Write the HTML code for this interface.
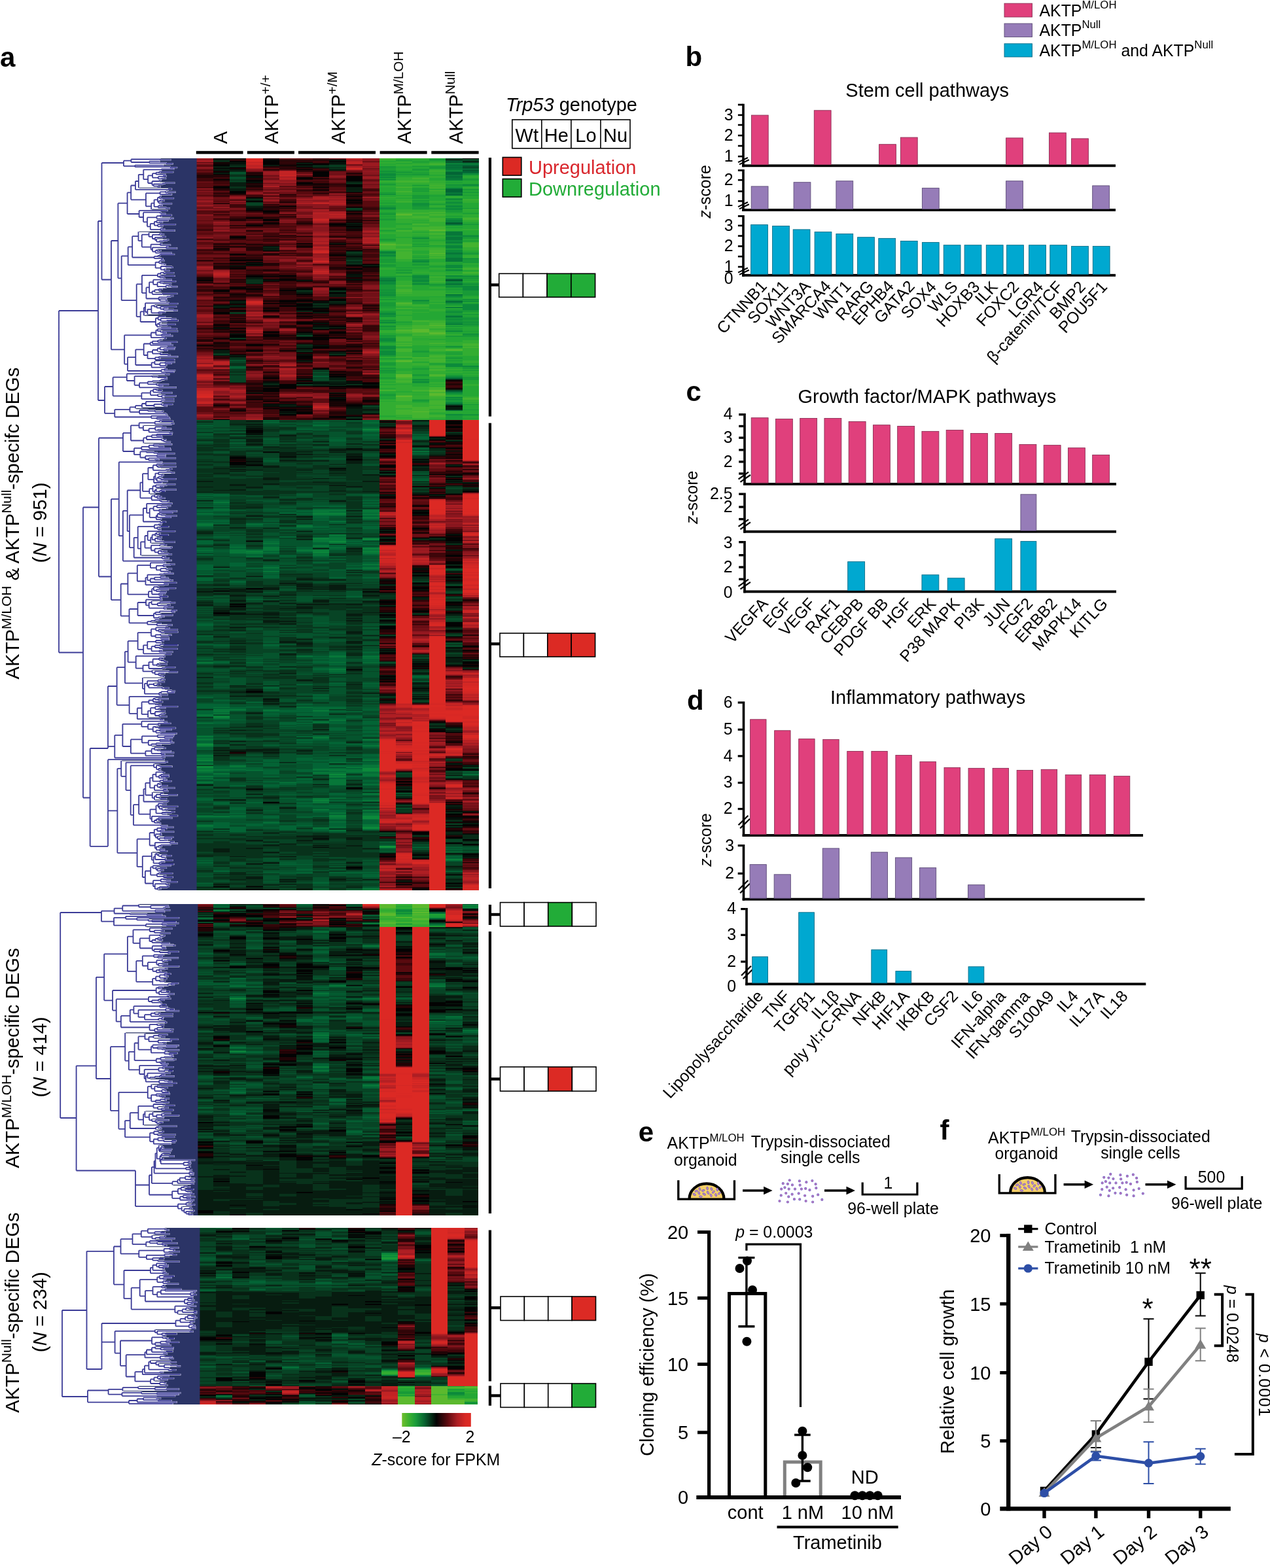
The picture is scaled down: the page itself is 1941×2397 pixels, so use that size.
<!DOCTYPE html>
<html lang="en"><head><meta charset="utf-8"><title>Figure</title>
<style>html,body{margin:0;padding:0;background:#fff}body{width:1941px;height:2397px;overflow:hidden}svg{display:block}text{font-family:"Liberation Sans",sans-serif}</style></head>
<body><svg xmlns="http://www.w3.org/2000/svg" width="1941" height="2397" viewBox="0 0 1941 2397">
<text font-size="42" font-weight="bold" x="0" y="101.5">a</text>
<text font-size="29" transform="translate(347 220) rotate(-90)">A</text>
<text font-size="29" transform="translate(425 220) rotate(-90)">AKTP<tspan dy="-11.6" font-size="20.73">+/+</tspan></text>
<text font-size="29" transform="translate(526.5 220) rotate(-90)">AKTP<tspan dy="-11.6" font-size="20.73">+/M</tspan></text>
<text font-size="29" transform="translate(628 220) rotate(-90)">AKTP<tspan dy="-11.6" font-size="20.73">M/LOH</tspan></text>
<text font-size="29" transform="translate(707 220) rotate(-90)">AKTP<tspan dy="-11.6" font-size="20.73">Null</tspan></text>
<rect x="299.8" y="230.8" width="71.7" height="4.6" fill="#000"/>
<rect x="377.9" y="230.8" width="72" height="4.6" fill="#000"/>
<rect x="456" y="230.8" width="118" height="4.6" fill="#000"/>
<rect x="580.6" y="230.8" width="72" height="4.6" fill="#000"/>
<rect x="659.3" y="230.8" width="72.3" height="4.6" fill="#000"/>
<text font-size="29" x="773" y="170.4"><tspan font-style="italic">Trp53</tspan> genotype</text>
<rect x="782.8" y="183" width="180.2" height="43.8" fill="#fff" stroke="#000" stroke-width="1.6"/>
<text font-size="29" text-anchor="middle" x="805.32" y="216.5">Wt</text>
<path d="M827.85 183L827.85 226.8" stroke="#000" stroke-width="1.6"/>
<text font-size="29" text-anchor="middle" x="850.38" y="216.5">He</text>
<path d="M872.9 183L872.9 226.8" stroke="#000" stroke-width="1.6"/>
<text font-size="29" text-anchor="middle" x="895.42" y="216.5">Lo</text>
<path d="M917.95 183L917.95 226.8" stroke="#000" stroke-width="1.6"/>
<text font-size="29" text-anchor="middle" x="940.48" y="216.5">Nu</text>
<rect x="768.3" y="240.5" width="28.5" height="27.6" fill="#dc2a24" stroke="#000" stroke-width="1.6"/>
<rect x="768.3" y="273.5" width="28.5" height="27.6" fill="#22ac38" stroke="#000" stroke-width="1.6"/>
<text font-size="29" fill="#d9272d" x="808" y="266">Upregulation</text>
<text font-size="29" fill="#22ac38" x="808" y="299">Downregulation</text>
<rect x="746.8" y="241" width="4.2" height="395.6" fill="#000"/>
<rect x="750" y="433.3" width="12.7" height="4.4" fill="#000"/>
<rect x="762.7" y="418.3" width="36.72" height="36" fill="#fff" stroke="#000" stroke-width="1.6"/>
<rect x="799.43" y="418.3" width="36.72" height="36" fill="#fff" stroke="#000" stroke-width="1.6"/>
<rect x="836.15" y="418.3" width="36.72" height="36" fill="#22ac38" stroke="#000" stroke-width="1.6"/>
<rect x="872.88" y="418.3" width="36.72" height="36" fill="#22ac38" stroke="#000" stroke-width="1.6"/>
<rect x="746.8" y="646.7" width="4.2" height="711.3" fill="#000"/>
<rect x="750" y="982.1" width="14" height="4.4" fill="#000"/>
<rect x="764" y="968" width="36.4" height="36" fill="#fff" stroke="#000" stroke-width="1.6"/>
<rect x="800.4" y="968" width="36.4" height="36" fill="#fff" stroke="#000" stroke-width="1.6"/>
<rect x="836.8" y="968" width="36.4" height="36" fill="#dc2a24" stroke="#000" stroke-width="1.6"/>
<rect x="873.2" y="968" width="36.4" height="36" fill="#dc2a24" stroke="#000" stroke-width="1.6"/>
<rect x="746.8" y="1383" width="4.2" height="31" fill="#000"/>
<rect x="750" y="1395.8" width="14.5" height="4.4" fill="#000"/>
<rect x="764.5" y="1379.6" width="36.62" height="36.4" fill="#fff" stroke="#000" stroke-width="1.6"/>
<rect x="801.12" y="1379.6" width="36.62" height="36.4" fill="#fff" stroke="#000" stroke-width="1.6"/>
<rect x="837.75" y="1379.6" width="36.62" height="36.4" fill="#22ac38" stroke="#000" stroke-width="1.6"/>
<rect x="874.38" y="1379.6" width="36.62" height="36.4" fill="#fff" stroke="#000" stroke-width="1.6"/>
<rect x="746.8" y="1424" width="4.2" height="431" fill="#000"/>
<rect x="750" y="1647.3" width="14.5" height="4.4" fill="#000"/>
<rect x="764.5" y="1631" width="36.62" height="37" fill="#fff" stroke="#000" stroke-width="1.6"/>
<rect x="801.12" y="1631" width="36.62" height="37" fill="#fff" stroke="#000" stroke-width="1.6"/>
<rect x="837.75" y="1631" width="36.62" height="37" fill="#dc2a24" stroke="#000" stroke-width="1.6"/>
<rect x="874.38" y="1631" width="36.62" height="37" fill="#fff" stroke="#000" stroke-width="1.6"/>
<rect x="746.8" y="1880.5" width="4.2" height="231" fill="#000"/>
<rect x="750" y="1997" width="15" height="4.4" fill="#000"/>
<rect x="765" y="1982" width="36.38" height="36.5" fill="#fff" stroke="#000" stroke-width="1.6"/>
<rect x="801.38" y="1982" width="36.38" height="36.5" fill="#fff" stroke="#000" stroke-width="1.6"/>
<rect x="837.75" y="1982" width="36.38" height="36.5" fill="#fff" stroke="#000" stroke-width="1.6"/>
<rect x="874.12" y="1982" width="36.38" height="36.5" fill="#dc2a24" stroke="#000" stroke-width="1.6"/>
<rect x="746.8" y="2118.5" width="4.2" height="30.3" fill="#000"/>
<rect x="750" y="2131.3" width="15" height="4.4" fill="#000"/>
<rect x="765" y="2115" width="36.38" height="36.4" fill="#fff" stroke="#000" stroke-width="1.6"/>
<rect x="801.38" y="2115" width="36.38" height="36.4" fill="#fff" stroke="#000" stroke-width="1.6"/>
<rect x="837.75" y="2115" width="36.38" height="36.4" fill="#fff" stroke="#000" stroke-width="1.6"/>
<rect x="874.12" y="2115" width="36.38" height="36.4" fill="#22ac38" stroke="#000" stroke-width="1.6"/>
<defs><linearGradient id="cb" x1="0" x2="1" y1="0" y2="0"><stop offset="0" stop-color="#70be2c"/><stop offset="0.1" stop-color="#3cb230"/><stop offset="0.2" stop-color="#1a9c3a"/><stop offset="0.33" stop-color="#076230"/><stop offset="0.5" stop-color="#030303"/><stop offset="0.66" stop-color="#5c0a10"/><stop offset="0.8" stop-color="#ac1e23"/><stop offset="0.92" stop-color="#d82824"/><stop offset="1" stop-color="#de2a24"/></linearGradient></defs>
<rect x="614.3" y="2160" width="105.5" height="21" fill="url(#cb)"/>
<text font-size="24.85" x="600" y="2205">–2</text>
<text font-size="24.85" x="711.5" y="2205">2</text>
<text font-size="24.85" x="568.3" y="2240"><tspan font-style="italic">Z</tspan>-score for FPKM</text>
<text font-size="29.3" text-anchor="middle" transform="translate(29 800) rotate(-90)">AKTP<tspan dy="-11.72" font-size="20.95">M/LOH</tspan><tspan dy="11.72"> &amp; AKTP</tspan><tspan dy="-11.72" font-size="20.95">Null</tspan><tspan dy="11.72">-specifc DEGs</tspan></text>
<text font-size="29.3" text-anchor="middle" transform="translate(71 799) rotate(-90)">(<tspan font-style="italic">N</tspan> = 951)</text>
<text font-size="29.3" text-anchor="middle" transform="translate(29 1617.5) rotate(-90)">AKTP<tspan dy="-11.72" font-size="20.95">M/LOH</tspan><tspan dy="11.72">-specific DEGs</tspan></text>
<text font-size="29.3" text-anchor="middle" transform="translate(71 1616) rotate(-90)">(<tspan font-style="italic">N</tspan> = 414)</text>
<text font-size="29.3" text-anchor="middle" transform="translate(29 2006.5) rotate(-90)">AKTP<tspan dy="-11.72" font-size="20.95">Null</tspan><tspan dy="11.72">-specific DEGs</tspan></text>
<text font-size="29.3" text-anchor="middle" transform="translate(71 2005.7) rotate(-90)">(<tspan font-style="italic">N</tspan> = 234)</text>
<g shape-rendering="crispEdges" fill="none">
<rect x="300.2" y="242" width="431.8" height="1119" fill="#0a2a16"/>
<g stroke-width="26">
<path stroke="#05542d" d="M313 242v1119"/>
<path stroke="#0c8a3b" d="M313 1137v3m0 22v1m0 8v3m0 3v1"/>
<path stroke="#077739" d="M313 785v1m0 14v4m0 37v1m0 170v2m0 78v3m0 10v1m0 19v2m0 2v3m0 4v1m0 3v2m0 12v3m0 1v4m0 1v1m0 3v2m0 5v3m0 1v3m0 5v2m0 2v1m0 4v2m0 50v2m0 12v3"/>
<path stroke="#036435" d="M313 650v1m0 12v1m0 92v2m0 2v1m0 12v1m0 5v4m0 1v1m0 1v2m0 7v2m0 1v2m0 4v2m0 20v6m0 5v4m0 1v3m0 2v2m0 14v9m0 2v1m0 2v2m0 4v5m0 65v4m0 15v1m0 12v1m0 21v2m0 5v1m0 50v2m0 9v7m0 3v6m0 3v1m0 8v1m0 1v1m0 4v1m0 12v1m0 2v2m0 3v4m0 6v1m0 1v2m0 7v1m0 3v1m0 6v3m0 14v3m0 1v1m0 2v2m0 1v1m0 2v1m0 2v1m0 22v4m0 22v1m0 2v2m0 9v1m0 3v3m0 1v1m0 46v1m0 2v2m0 30v1"/>
<path stroke="#074425" d="M313 643v1m0 2v1m0 1v1m0 6v1m0 4v1m0 6v1m0 2v2m0 2v1m0 3v2m0 2v1m0 7v3m0 3v6m0 1v1m0 3v2m0 3v4m0 7v1m0 6v1m0 22v1m0 10v1m0 1v1m0 2v1m0 2v1m0 4v1m0 31v2m0 6v3m0 3v1m0 1v1m0 7v2m0 1v1m0 9v1m0 3v3m0 3v2m0 21v1m0 9v1m0 2v1m0 3v3m0 12v1m0 2v2m0 1v1m0 9v1m0 1v2m0 1v2m0 1v2m0 1v5m0 1v2m0 2v2m0 13v2m0 1v3m0 10v1m0 3v1m0 3v4m0 1v1m0 1v4m0 4v2m0 12v2m0 1v2m0 6v2m0 2v4m0 2v6m0 3v3m0 2v4m0 3v4m0 6v6m0 11v1m0 11v1m0 3v1m0 45v1m0 1v1m0 51v1m0 5v3m0 1v3m0 2v2m0 10v4m0 3v7m0 3v1m0 8v1m0 1v1m0 15v3m0 3v3m0 2v6m0 13v3m0 5v1m0 13v1m0 1v4m0 3v2m0 2v1m0 3v8m0 6v1m0 1v1m0 2v1"/>
<path stroke="#08321b" d="M313 644v2m0 15v1m0 10v2m0 6v2m0 1v7m0 3v3m0 6v1m0 1v3m0 2v3m0 4v7m0 1v6m0 1v4m0 2v7m0 1v7m0 23v2m0 34v2m0 1v1m0 1v1m0 7v1m0 10v1m0 17v3m0 24v2m0 11v3m0 3v1m0 1v2m0 3v5m0 7v3m0 1v2m0 2v1m0 16v1m0 21v1m0 3v2m0 9v3m0 8v1m0 7v3m0 16v1m0 10v2m0 5v1m0 6v3m0 3v2m0 4v3m0 26v1m0 11v1m0 73v1m0 35v1m0 48v1m0 14v2m0 3v3m0 3v2m0 6v13m0 3v3m0 1v1m0 20v3m0 25v2"/>
<path stroke="#071c10" d="M313 735v2m0 7v1m0 7v1m0 12v1m0 47v1m0 1v1m0 84v1m0 2v3m0 15v1m0 2v2m0 109v1m0 163v2m0 107v1m0 47v1"/>
<path stroke="#030303" d="M313 426v1m0 1v2m0 98v1"/>
<path stroke="#210406" d="M313 267v5m0 126v1m0 24v3m0 1v1m0 3v2m0 9v1m0 1v1m0 57v1m0 16v3m0 5v1m0 1v1m0 2v1"/>
<path stroke="#3e060a" d="M313 264v3m0 5v5m0 9v1m0 37v1m0 1v1m0 18v1m0 4v3m0 12v2m0 14v3m0 2v2m0 9v1m0 1v1m0 30v1m0 6v4m0 2v1m0 1v1m0 4v1m0 16v2m0 32v1m0 2v1m0 2v1m0 7v2m0 1v1m0 3v1m0 2v2m0 4v1m0 1v3"/>
<path stroke="#590a0f" d="M313 248v1m0 3v3m0 4v3m0 1v1m0 13v1m0 1v7m0 1v1m0 2v1m0 7v2m0 18v1m0 3v2m0 13v1m0 4v3m0 1v4m0 3v1m0 1v4m0 11v4m0 10v2m0 2v2m0 3v3m0 8v1m0 15v3m0 10v1m0 2v1m0 4v1m0 4v1m0 1v2m0 1v1m0 6v3m0 1v1m0 1v1m0 8v4m0 15v1m0 4v4m0 2v1m0 2v1m0 1v1m0 3v3m0 2v1m0 12v1m0 5v3m0 26v2m0 55v8"/>
<path stroke="#711017" d="M313 251v1m0 6v1m0 3v1m0 15v1m0 12v1m0 1v5m0 2v1m0 3v1m0 5v1m0 1v1m0 3v2m0 3v1m0 3v1m0 1v1m0 2v7m0 1v4m0 12v1m0 4v3m0 2v1m0 2v1m0 1v1m0 4v4m0 2v1m0 9v3m0 3v1m0 3v4m0 1v2m0 6v2m0 3v2m0 14v1m0 12v1m0 4v2m0 7v1m0 1v1m0 1v2m0 2v4m0 4v3m0 13v1m0 11v1m0 3v3m0 11v2m0 15v2m0 22v1m0 2v3m0 13v2m0 3v1m0 32v1m0 8v3m0 6v3"/>
<path stroke="#8a161e" d="M313 243v1m0 5v2m0 4v3m0 30v2m0 2v1m0 8v2m0 2v2m0 2v1m0 1v1m0 3v1m0 3v2m0 7v2m0 32v2m0 4v1m0 9v2m0 32v1m0 2v3m0 17v1m0 18v4m0 22v1m0 5v6m0 2v1m0 1v1m0 42v1m0 2v3m0 10v1m0 5v3m0 6v2m0 10v1m0 2v1m0 1v1m0 1v4m0 25v1m0 14v1m0 3v2"/>
<path stroke="#9c1a21" d="M313 242v1m0 1v2m0 1v1m0 55v1m0 3v2m0 4v2m0 92v1m0 1v3m0 70v1m0 1v2m0 9v1m0 51v2m0 7v1m0 24v1m0 4v1m0 32v2m0 14v2"/>
<path stroke="#ae1e23" d="M313 246v1m0 161v1m0 72v1m0 1v1m0 61v2m0 2v2m0 1v3m0 5v1m0 19v1m0 12v1m0 1v1m0 13v4m0 4v1m0 16v1"/>
<path stroke="#bd2224" d="M313 551v1m0 7v1m0 12v2m0 2v4m0 14v1m0 1v2m0 10v1m0 4v2"/>
<path stroke="#ca2524" d="M313 557v2m0 15v2m0 22v4m0 13v2"/>
<path stroke="#d32724" d="M313 602v3"/>
<path stroke="#d92824" d="M313 605v3"/>
</g>
<g stroke-width="25">
<path stroke="#074425" d="M338.5 242v1119"/>
<path stroke="#0c8a3b" d="M338.5 1095v2"/>
<path stroke="#077739" d="M338.5 767v2m0 10v1m0 301v1m0 2v5m0 1v2m0 2v1m0 2v2m0 77v2m0 4v2m0 63v2"/>
<path stroke="#036435" d="M338.5 755v4m0 5v3m0 2v3m0 1v2m0 2v2m0 1v2m0 3v3m0 7v3m0 1v2m0 19v2m0 19v1m0 1v1m0 25v1m0 115v2m0 24v3m0 33v1m0 22v2m0 4v5m0 1v2m0 5v1m0 9v1m0 3v4m0 64v5m0 2v2m0 1v1m0 2v4m0 3v3m0 32v4m0 14v1m0 4v2m0 6v9m0 3v1m0 61v2"/>
<path stroke="#05542d" d="M338.5 642v11m0 2v3m0 2v2m0 28v3m0 66v5m0 8v1m0 2v2m0 5v3m0 6v1m0 1v2m0 3v1m0 2v1m0 2v1m0 8v2m0 1v4m0 2v2m0 4v2m0 9v2m0 1v1m0 1v6m0 1v14m0 3v1m0 1v1m0 2v3m0 6v2m0 27v2m0 2v6m0 27v2m0 4v1m0 32v3m0 8v1m0 11v1m0 3v1m0 7v5m0 2v1m0 3v4m0 2v1m0 4v3m0 2v4m0 8v6m0 1v2m0 2v4m0 16v1m0 7v3m0 4v5m0 11v4m0 1v3m0 7v3m0 28v2m0 9v1m0 7v1m0 1v1m0 3v8m0 4v2m0 6v1m0 4v2m0 4v1m0 4v1m0 7v2m0 3v1m0 1v2m0 4v6m0 9v1m0 1v1m0 3v1m0 53v2m0 1v2m0 15v2m0 10v1"/>
<path stroke="#08321b" d="M338.5 245v2m0 293v1m0 1v1m0 120v3m0 1v1m0 3v6m0 1v6m0 2v3m0 5v3m0 8v3m0 5v3m0 1v6m0 1v2m0 4v19m0 1v4m0 48v2m0 21v2m0 5v1m0 33v1m0 18v1m0 1v2m0 3v2m0 1v1m0 5v1m0 3v1m0 20v4m0 1v1m0 14v1m0 10v2m0 3v3m0 5v1m0 1v1m0 1v1m0 5v1m0 11v2m0 1v2m0 3v1m0 4v1m0 2v1m0 8v1m0 1v2m0 34v3m0 55v1m0 2v2m0 1v2m0 11v2m0 1v2m0 5v1m0 1v2m0 2v3m0 1v2m0 2v7m0 40v1m0 6v1m0 12v1m0 9v4m0 4v1m0 39v2m0 3v11m0 6v6m0 8v4m0 2v2m0 11v2m0 2v4m0 6v1m0 2v1m0 3v1m0 1v2"/>
<path stroke="#071c10" d="M338.5 247v1m0 6v3m0 1v3m0 3v2m0 201v4m0 30v1m0 33v5m0 3v1m0 172v1m0 6v1m0 25v1m0 83v1m0 33v1m0 26v1m0 4v2m0 1v1m0 1v1m0 2v2m0 21v1m0 1v4m0 3v3m0 31v1m0 44v1m0 124v1m0 2v2m0 3v1m0 2v2m0 48v1m0 17v1m0 44v1m0 29v6m0 48v2m0 1v1m0 1v1"/>
<path stroke="#030303" d="M338.5 242v3m0 4v1m0 1v3m0 3v1m0 3v1m0 1v1m0 2v1m0 7v1m0 10v3m0 92v1m0 62v3m0 20v1m0 4v1m0 5v3m0 16v2m0 2v1m0 1v1m0 14v1m0 6v1m0 9v1m0 85v1m0 20v1m0 261v1m0 32v3m0 416v1"/>
<path stroke="#210406" d="M338.5 248v1m0 1v1m0 11v1m0 4v4m0 2v1m0 1v2m0 7v1m0 3v3m0 4v1m0 3v1m0 11v1m0 60v2m0 2v2m0 1v1m0 1v2m0 19v2m0 2v5m0 22v1m0 8v1m0 3v1m0 1v1m0 5v2m0 2v2m0 5v1m0 6v5m0 3v1m0 9v1m0 4v1m0 2v2m0 3v2m0 1v2m0 8v1m0 1v1m0 4v1m0 1v6m0 2v1m0 10v1m0 1v2m0 17v1m0 13v1m0 38v2"/>
<path stroke="#3e060a" d="M338.5 271v2m0 4v5m0 1v1m0 7v1m0 2v1m0 1v3m0 1v1m0 9v1m0 12v2m0 2v2m0 5v2m0 31v1m0 6v2m0 2v1m0 4v1m0 3v1m0 6v2m0 2v1m0 5v2m0 5v1m0 27v2m0 6v1m0 1v1m0 3v1m0 2v2m0 2v1m0 3v1m0 19v2m0 5v4m0 10v1m0 2v1m0 5v2m0 3v1m0 2v1m0 8v2m0 12v1m0 2v1m0 10v1m0 12v2m0 9v4m0 1v1m0 21v2m0 5v1m0 3v2m0 7v1m0 6v1"/>
<path stroke="#590a0f" d="M338.5 282v1m0 9v2m0 7v1m0 2v1m0 1v3m0 13v1m0 2v1m0 3v2m0 2v1m0 2v1m0 8v1m0 9v2m0 8v2m0 4v1m0 12v1m0 1v1m0 1v2m0 3v1m0 2v2m0 1v3m0 24v1m0 5v1m0 1v1m0 2v2m0 2v1m0 8v3m0 8v1m0 1v1m0 17v3m0 2v4m0 19v1m0 1v3m0 6v2m0 27v1m0 18v4m0 15v1m0 17v2m0 9v1m0 6v1m0 3v3m0 1v3m0 1v2m0 1v1m0 1v1"/>
<path stroke="#711017" d="M338.5 302v2m0 1v1m0 3v1m0 2v1m0 1v2m0 2v2m0 1v1m0 4v1m0 4v2m0 4v2m0 5v1m0 1v1m0 3v1m0 3v1m0 2v3m0 1v4m0 3v3m0 14v1m0 4v3m0 19v1m0 12v1m0 1v3m0 1v1m0 3v2m0 25v1m0 47v1m0 39v1m0 9v1m0 5v2m0 6v1m0 3v1m0 3v1m0 6v3m0 16v2m0 2v1m0 11v1m0 1v1m0 7v1"/>
<path stroke="#8a161e" d="M338.5 313v1m0 2v1m0 3v1m0 20v3m0 3v3m0 1v1m0 1v1m0 6v1m0 63v1m0 5v1m0 120v1m0 9v1m0 2v1m0 10v1m0 1v1m0 2v2m0 10v1m0 5v4m0 2v1m0 2v1m0 5v3m0 9v1m0 13v1"/>
<path stroke="#9c1a21" d="M338.5 317v1m0 21v2m0 11v1m0 60v2m0 8v1m0 134v1m0 3v1m0 13v1m0 20v1m0 4v2"/>
<path stroke="#ae1e23" d="M338.5 415v2m0 4v2m0 129v1m0 4v1m0 5v1m0 29v4"/>
<path stroke="#bd2224" d="M338.5 417v4m0 132v4"/>
</g>
<g stroke-width="25">
<path stroke="#08321b" d="M363.5 242v1119"/>
<path stroke="#077739" d="M363.5 836v1m0 3v6m0 238v2m0 84v3m0 3v1m0 70v1"/>
<path stroke="#036435" d="M363.5 560v3m0 114v1m0 101v1m0 52v4m0 1v3m0 6v1m0 1v1m0 11v6m0 22v3m0 190v3m0 2v1m0 13v1m0 28v1m0 39v1m0 3v3m0 1v2m0 21v2m0 32v5m0 1v1m0 1v3m0 1v1m0 1v3m0 8v1m0 4v8"/>
<path stroke="#05542d" d="M363.5 263v3m0 5v2m0 277v2m0 11v1m0 92v1m0 3v2m0 3v2m0 5v2m0 2v1m0 1v1m0 1v1m0 2v2m0 72v1m0 22v1m0 6v1m0 24v2m0 2v2m0 1v13m0 15v1m0 1v3m0 1v7m0 6v6m0 2v9m0 4v1m0 3v3m0 71v3m0 4v1m0 33v1m0 14v2m0 13v11m0 23v2m0 5v4m0 6v1m0 4v8m0 1v5m0 21v2m0 1v2m0 3v1m0 22v2m0 5v4m0 10v2m0 2v5m0 8v4m0 2v1m0 4v12m0 1v1m0 5v1m0 2v5m0 5v1m0 1v1m0 3v1m0 5v8m0 1v2m0 1v1m0 8v1m0 45v4"/>
<path stroke="#074425" d="M363.5 266v1m0 3v1m0 2v2m0 1v2m0 200v1m0 38v1m0 34v3m0 4v1m0 4v1m0 1v1m0 3v2m0 2v10m0 67v5m0 1v1m0 1v1m0 2v1m0 1v1m0 3v1m0 2v1m0 2v2m0 3v1m0 1v2m0 2v4m0 33v2m0 4v4m0 24v1m0 1v6m0 1v2m0 4v1m0 9v3m0 1v2m0 1v3m0 10v5m0 3v3m0 2v2m0 2v1m0 33v1m0 19v2m0 11v2m0 7v4m0 36v1m0 13v5m0 3v2m0 10v4m0 1v3m0 2v1m0 6v2m0 11v2m0 1v5m0 1v1m0 1v3m0 3v2m0 2v2m0 2v2m0 3v1m0 2v2m0 1v2m0 11v1m0 4v2m0 7v1m0 4v2m0 1v1m0 2v2m0 2v1m0 11v4m0 14v5m0 2v2m0 3v2m0 3v4m0 9v2m0 2v5m0 11v2m0 2v2m0 1v2m0 16v2m0 5v1m0 5v2m0 7v1m0 1v2m0 12v1m0 1v1m0 2v2m0 2v1m0 33v1m0 10v2m0 3v3m0 4v4m0 22v1m0 5v1m0 4v3m0 3v5m0 14v2m0 4v3"/>
<path stroke="#071c10" d="M363.5 248v1m0 1v3m0 2v1m0 3v3m0 17v6m0 3v4m0 114v1m0 53v4m0 4v1m0 41v1m0 5v1m0 1v1m0 24v2m0 103v1m0 14v1m0 5v1m0 26v2m0 13v4m0 2v2m0 1v1m0 19v3m0 5v2m0 43v1m0 12v1m0 93v5m0 4v3m0 5v3m0 2v1m0 2v1m0 2v5m0 3v2m0 1v1m0 18v2m0 4v1m0 14v1m0 3v1m0 8v1m0 25v1m0 29v1m0 8v2m0 5v1m0 51v1m0 16v1m0 4v1m0 7v3m0 3v1m0 69v2m0 3v1m0 81v1m0 24v1m0 1v1m0 7v1m0 13v3"/>
<path stroke="#030303" d="M363.5 242v1m0 3v2m0 1v1m0 6v1m0 1v1m0 33v4m0 65v3m0 24v2m0 7v2m0 3v1m0 4v1m0 1v2m0 28v3m0 8v1m0 8v1m0 4v1m0 1v1m0 2v1m0 4v2m0 16v1m0 9v1m0 3v1m0 4v5m0 3v1m0 22v1m0 2v1m0 81v1m0 70v4m0 1v1m0 2v5m0 212v2m0 1v2m0 10v1m0 210v1"/>
<path stroke="#210406" d="M363.5 243v1m0 1v1m0 11v1m0 38v2m0 36v4m0 6v1m0 19v2m0 6v2m0 2v2m0 12v1m0 2v4m0 2v1m0 1v1m0 1v3m0 2v1m0 2v1m0 15v2m0 1v2m0 6v1m0 3v1m0 5v2m0 1v4m0 3v1m0 6v1m0 4v1m0 5v1m0 3v1m0 1v2m0 2v2m0 1v3m0 1v1m0 7v1m0 3v1m0 1v3m0 10v1m0 15v2m0 3v1m0 43v1m0 39v2m0 1v1m0 73v1m0 1v2m0 444v2"/>
<path stroke="#3e060a" d="M363.5 244v1m0 60v1m0 6v5m0 14v3m0 11v1m0 1v2m0 11v1m0 5v1m0 4v1m0 6v1m0 8v1m0 4v1m0 19v1m0 2v1m0 3v2m0 1v2m0 2v1m0 2v1m0 2v1m0 1v1m0 2v1m0 5v1m0 3v1m0 7v3m0 13v3m0 7v1m0 2v2m0 2v1m0 7v3m0 1v1m0 2v2m0 19v5m0 4v3m0 2v3m0 45v2m0 36v1m0 4v1m0 2v1"/>
<path stroke="#590a0f" d="M363.5 298v1m0 7v1m0 10v1m0 3v3m0 4v1m0 1v1m0 7v1m0 1v2m0 1v1m0 2v1m0 2v1m0 5v2m0 2v1m0 7v4m0 3v2m0 8v3m0 4v1m0 8v1m0 12v2m0 1v3m0 2v1m0 2v2m0 7v1m0 1v2m0 7v3m0 47v2m0 3v1m0 21v3m0 5v1m0 1v2m0 55v1m0 22v2m0 5v3m0 2v1m0 6v2m0 1v1m0 1v1"/>
<path stroke="#711017" d="M363.5 299v1m0 9v2m0 7v1m0 1v1m0 3v4m0 1v1m0 9v1m0 2v1m0 7v5m0 2v2m0 20v5m0 146v1m0 58v1m0 2v1m0 17v1m0 6v1m0 16v1m0 1v2m0 2v1"/>
<path stroke="#8a161e" d="M363.5 300v1m0 2v2m0 2v2m0 2v1m0 7v1m0 270v2m0 1v2m0 6v2m0 5v2m0 3v2m0 6v2m0 15v2m0 1v1"/>
<path stroke="#9c1a21" d="M363.5 301v2m0 292v1m0 3v1m0 3v2m0 11v1"/>
<path stroke="#ae1e23" d="M363.5 596v3m0 1v1m0 4v3m0 7v1"/>
</g>
<g stroke-width="26">
<path stroke="#074425" d="M389 242v1119"/>
<path stroke="#0c8a3b" d="M389 843v1"/>
<path stroke="#077739" d="M389 801v1m0 39v2m0 1v3m0 3v1m0 326v1"/>
<path stroke="#036435" d="M389 800v1m0 1v3m0 35v1m0 6v3m0 1v1m0 16v2m0 46v1m0 89v1m0 5v2m0 59v2m0 5v2m0 83v1m0 7v4m0 1v1m0 47v2m0 31v4"/>
<path stroke="#05542d" d="M389 683v2m0 7v1m0 64v3m0 4v2m0 13v1m0 19v1m0 5v1m0 33v1m0 18v3m0 2v1m0 3v1m0 3v4m0 8v1m0 29v3m0 1v1m0 1v1m0 30v1m0 9v3m0 37v1m0 2v3m0 1v5m0 2v4m0 11v1m0 42v1m0 3v4m0 2v5m0 42v3m0 21v3m0 2v5m0 1v1m0 1v1m0 2v4m0 6v10m0 1v2m0 2v2m0 1v3m0 16v1m0 5v4m0 2v6m0 11v7m0 3v4m0 4v4m0 4v1"/>
<path stroke="#08321b" d="M389 304v2m0 3v1m0 4v1m0 112v7m0 208v1m0 2v3m0 2v1m0 14v2m0 1v3m0 5v2m0 3v1m0 6v3m0 7v2m0 13v5m0 1v1m0 7v2m0 2v13m0 2v2m0 2v7m0 13v5m0 1v2m0 5v1m0 3v1m0 4v3m0 14v5m0 1v3m0 2v2m0 6v1m0 4v3m0 17v2m0 25v1m0 7v9m0 1v1m0 3v1m0 3v1m0 2v2m0 10v1m0 1v2m0 4v2m0 3v4m0 2v5m0 1v2m0 5v2m0 2v2m0 9v1m0 9v1m0 3v3m0 34v2m0 3v2m0 8v1m0 9v3m0 2v2m0 1v1m0 7v3m0 2v1m0 25v1m0 3v5m0 5v5m0 1v2m0 2v3m0 2v7m0 6v1m0 7v2m0 1v1m0 4v2m0 50v4m0 3v2m0 3v1m0 23v1m0 1v1m0 2v2m0 24v2m0 8v2m0 1v1m0 1v1m0 2v1m0 4v5m0 2v14m0 4v1m0 2v1m0 6v2m0 4v1m0 3v2m0 1v1m0 4v10m0 3v1"/>
<path stroke="#071c10" d="M389 270v1m0 7v1m0 24v1m0 2v1m0 8v3m0 1v1m0 82v1m0 2v1m0 18v3m0 173v1m0 42v2m0 3v2m0 1v4m0 1v1m0 5v1m0 1v1m0 2v1m0 3v5m0 2v3m0 19v5m0 1v4m0 2v1m0 5v1m0 25v2m0 29v1m0 12v2m0 36v1m0 54v1m0 19v1m0 1v3m0 16v1m0 15v2m0 113v3m0 3v1m0 3v2m0 24v2m0 19v1m0 34v4m0 56v1m0 1v1m0 6v1m0 4v1m0 18v1m0 45v2m0 10v2m0 22v2m0 18v4m0 10v1m0 1v1m0 1v1m0 1v1"/>
<path stroke="#030303" d="M389 268v2m0 1v1m0 3v3m0 1v1m0 4v1m0 17v1m0 4v2m0 9v1m0 1v2m0 10v2m0 10v2m0 51v2m0 2v1m0 1v2m0 1v1m0 14v3m0 10v1m0 6v2m0 83v3m0 6v2m0 60v1m0 3v1m0 8v1m0 44v1m0 1v5m0 1v1m0 41v1m0 4v2m0 115v1m0 71v2m0 155v3m0 147v1m0 148v1m0 3v1"/>
<path stroke="#210406" d="M389 263v5m0 4v3m0 5v4m0 1v2m0 2v1m0 11v1m0 20v2m0 10v1m0 7v2m0 8v2m0 19v2m0 2v6m0 7v1m0 2v1m0 1v2m0 3v1m0 12v1m0 5v2m0 15v5m0 2v4m0 3v3m0 81v1m0 2v1m0 13v2m0 8v2m0 2v1m0 19v4m0 2v6m0 1v2m0 5v5m0 1v1m0 2v1"/>
<path stroke="#3e060a" d="M389 287v2m0 1v1m0 7v3m0 23v1m0 5v2m0 3v3m0 3v1m0 4v2m0 10v1m0 7v2m0 4v1m0 2v2m0 6v1m0 4v2m0 1v2m0 1v1m0 4v1m0 11v2m0 1v5m0 28v1m0 1v1m0 3v1m0 38v2m0 21v1m0 3v2m0 3v2m0 3v2m0 1v2m0 6v4m0 6v1m0 3v2m0 4v1m0 2v2m0 16v4m0 4v2m0 11v1m0 1v1m0 7v1m0 2v8m0 8v1"/>
<path stroke="#590a0f" d="M389 291v2m0 4v1m0 27v1m0 1v3m0 10v1m0 7v1m0 2v1m0 2v4m0 3v5m0 2v4m0 12v4m0 19v4m0 24v1m0 12v1m0 6v1m0 33v1m0 1v1m0 2v1m0 2v2m0 11v1m0 3v1m0 1v3m0 2v3m0 7v1m0 6v1m0 9v2m0 3v1m0 5v1m0 6v1m0 36v1m0 9v1m0 9v1m0 3v2m0 1v1"/>
<path stroke="#711017" d="M389 261v2m0 63v1m0 11v2m0 9v2m0 8v2m0 93v1m0 15v1m0 3v2m0 8v1m0 5v1m0 5v1m0 2v1m0 39v1m0 4v1m0 2v1m0 8v1m0 10v1m0 2v1m0 6v4m0 43v3m0 2v1m0 2v1"/>
<path stroke="#8a161e" d="M389 258v3m0 32v3m0 160v1m0 1v1m0 8v3m0 1v3m0 2v1m0 8v2m0 1v1m0 6v1m0 4v2m0 11v1m0 31v2m0 10v2m0 9v2m0 1v2m0 1v3m0 56v2m0 1v2"/>
<path stroke="#9c1a21" d="M389 296v1m0 160v1m0 21v2m0 2v1m0 3v1m0 14v2m0 3v1m0 1v1m0 1v2m0 60v1m0 61v1m0 2v3"/>
<path stroke="#ae1e23" d="M389 257v1m0 201v1m0 6v1m0 10v2m0 2v2m0 21v1m0 1v1m0 1v1"/>
<path stroke="#bd2224" d="M389 248v1m0 3v4m0 208v2m0 39v1m0 135v1"/>
<path stroke="#ca2524" d="M389 249v1m0 1v1m0 4v1m0 203v2"/>
<path stroke="#d32724" d="M389 246v2m0 2v1m0 211v2"/>
<path stroke="#d92824" d="M389 245v1"/>
<path stroke="#dc2924" d="M389 242v3"/>
</g>
<g stroke-width="25">
<path stroke="#074425" d="M414.5 242v1119"/>
<path stroke="#077739" d="M414.5 828v1m0 1v2m0 4v6m0 2v1m0 22v2m0 4v2m0 210v2m0 170v1"/>
<path stroke="#036435" d="M414.5 642v2m0 1v2m0 24v1m0 32v1m0 74v1m0 16v1m0 3v1m0 23v4m0 1v1m0 2v4m0 6v2m0 1v2m0 17v3m0 2v4m0 3v2m0 1v5m0 97v1m0 3v3m0 62v3m0 31v1m0 2v2m0 1v3m0 1v1m0 44v1m0 21v4m0 1v6m0 4v8m0 2v2m0 6v2m0 3v4m0 36v1m0 7v4m0 5v1m0 1v2m0 5v1m0 67v1"/>
<path stroke="#05542d" d="M414.5 644v1m0 2v1m0 1v1m0 19v2m0 1v7m0 2v1m0 18v4m0 1v2m0 57v4m0 5v1m0 2v3m0 1v3m0 2v2m0 5v4m0 1v1m0 1v1m0 1v5m0 8v5m0 3v2m0 23v1m0 4v2m0 5v5m0 11v1m0 2v1m0 5v1m0 20v2m0 9v1m0 47v8m0 2v7m0 1v1m0 1v1m0 3v4m0 6v9m0 2v1m0 2v2m0 3v3m0 1v3m0 17v7m0 1v1m0 3v4m0 23v4m0 5v1m0 3v1m0 1v1m0 2v3m0 27v3m0 4v1m0 1v2m0 1v1m0 19v1m0 4v1m0 8v2m0 8v2m0 2v1m0 2v3m0 2v3m0 4v2m0 7v1m0 1v2m0 15v8m0 1v4m0 2v1m0 4v2m0 1v2m0 4v5m0 1v2m0 43v6m0 4v1m0 3v1m0 4v3m0 1v1m0 3v7m0 1v4"/>
<path stroke="#08321b" d="M414.5 377v1m0 208v1m0 1v1m0 64v1m0 1v5m0 7v1m0 14v1m0 1v4m0 1v1m0 2v1m0 18v1m0 3v7m0 1v7m0 4v5m0 2v1m0 7v8m0 1v2m0 1v1m0 22v1m0 4v2m0 64v1m0 1v1m0 36v4m0 12v1m0 1v1m0 1v1m0 5v1m0 4v8m0 1v2m0 5v2m0 2v3m0 4v3m0 3v2m0 65v2m0 3v3m0 1v4m0 19v4m0 1v4m0 1v1m0 5v2m0 2v1m0 30v1m0 1v1m0 2v1m0 7v4m0 7v2m0 9v2m0 3v1m0 3v2m0 1v2m0 49v1m0 9v3m0 1v2m0 3v1m0 2v1m0 43v1m0 1v1m0 3v5m0 3v1m0 6v2m0 1v1m0 7v1m0 3v3m0 9v1m0 8v1m0 23v1m0 2v1m0 1v1"/>
<path stroke="#071c10" d="M414.5 252v2m0 124v5m0 45v1m0 155v1m0 2v1m0 3v1m0 26v1m0 1v1m0 62v1m0 6v1m0 21v3m0 15v4m0 5v2m0 19v1m0 46v1m0 48v1m0 41v4m0 9v1m0 6v2m0 16v5m0 2v2m0 3v4m0 96v1m0 20v4m0 2v2m0 68v3m0 1v3m0 67v1m0 53v1m0 13v1m0 3v2m0 9v2m0 14v2m0 32v1m0 6v2"/>
<path stroke="#030303" d="M414.5 244v8m0 70v3m0 10v3m0 2v2m0 34v1m0 6v1m0 38v1m0 4v1m0 1v1m0 30v1m0 2v1m0 7v1m0 2v2m0 7v1m0 23v2m0 2v4m0 62v2m0 4v1m0 1v1m0 3v2m0 2v6m0 14v1m0 3v1m0 1v1m0 1v1m0 2v1m0 66v1m0 376v1m0 157v2"/>
<path stroke="#210406" d="M414.5 242v2m0 10v2m0 3v1m0 52v1m0 2v4m0 1v2m0 3v2m0 5v1m0 1v1m0 7v2m0 17v1m0 4v1m0 6v1m0 1v1m0 11v3m0 12v4m0 6v3m0 4v3m0 1v1m0 2v1m0 3v1m0 28v1m0 4v1m0 4v2m0 1v2m0 2v1m0 7v2m0 20v1m0 2v2m0 4v4m0 7v2m0 24v1m0 6v1m0 8v2m0 4v3m0 2v1m0 1v2m0 9v1m0 6v1m0 1v2m0 2v2m0 3v3m0 1v1m0 7v2m0 1v1m0 12v4"/>
<path stroke="#3e060a" d="M414.5 256v1m0 1v1m0 1v1m0 52v2m0 4v1m0 7v1m0 3v1m0 1v1m0 4v2m0 4v4m0 8v5m0 1v1m0 1v2m0 1v3m0 2v1m0 1v1m0 9v1m0 5v1m0 15v1m0 4v1m0 6v1m0 5v2m0 5v1m0 4v1m0 7v1m0 8v1m0 2v3m0 2v2m0 2v4m0 13v1m0 36v1m0 2v1m0 2v1m0 2v1m0 31v1m0 9v1m0 1v2m0 6v1m0 19v1m0 2v2m0 2v3m0 6v1m0 9v7m0 2v1m0 1v1"/>
<path stroke="#590a0f" d="M414.5 257v1m0 32v1m0 3v2m0 3v2m0 8v1m0 18v3m0 17v1m0 2v1m0 3v1m0 7v1m0 6v1m0 27v2m0 1v1m0 5v4m0 4v1m0 1v1m0 14v2m0 3v4m0 2v1m0 1v3m0 4v1m0 1v2m0 21v2m0 7v1m0 15v4m0 14v2m0 1v2m0 4v2m0 3v3m0 2v2m0 10v1m0 2v2m0 2v1m0 2v1m0 2v4m0 3v1m0 43v1m0 17v2m0 1v1"/>
<path stroke="#711017" d="M414.5 261v1m0 6v2m0 2v3m0 5v1m0 6v1m0 1v1m0 8v1m0 4v2m0 3v1m0 1v2m0 37v2m0 1v3m0 16v1m0 13v2m0 4v1m0 1v5m0 2v1m0 15v1m0 17v2m0 5v2m0 5v2m0 29v1m0 1v1m0 10v2m0 1v1m0 1v2m0 1v2m0 29v3m0 3v1m0 3v3m0 5v2m0 11v1"/>
<path stroke="#8a161e" d="M414.5 267v1m0 2v2m0 3v1m0 3v1m0 1v1m0 1v1m0 2v1m0 1v1m0 2v3m0 2v1m0 4v1m0 5v1m0 84v1m0 57v2m0 28v1m0 6v1m0 6v1m0 1v1m0 2v1m0 38v1m0 6v4m0 4v1m0 2v2m0 5v1"/>
<path stroke="#9c1a21" d="M414.5 262v5m0 9v3m0 3v1m0 14v1m0 4v1m0 2v2m0 181v2m0 1v1m0 52v1"/>
<path stroke="#ae1e23" d="M414.5 284v2m0 204v1"/>
</g>
<g stroke-width="26">
<path stroke="#074425" d="M440 242v1119"/>
<path stroke="#077739" d="M440 1196v1"/>
<path stroke="#036435" d="M440 779v1m0 3v2m0 22v1m0 12v2m0 27v2m0 11v1m0 222v4m0 15v4m0 2v1m0 84v1m0 1v3m0 14v1m0 5v1m0 41v7m0 49v1m0 1v2m0 12v1"/>
<path stroke="#05542d" d="M440 646v2m0 2v2m0 7v4m0 14v1m0 81v2m0 12v4m0 1v1m0 1v3m0 2v1m0 14v2m0 3v2m0 1v1m0 3v2m0 2v1m0 2v1m0 4v11m0 1v2m0 2v1m0 7v1m0 2v2m0 2v2m0 1v4m0 3v2m0 2v3m0 24v1m0 3v3m0 58v1m0 3v1m0 2v2m0 2v1m0 11v2m0 5v1m0 5v1m0 16v4m0 3v2m0 26v1m0 18v5m0 9v3m0 4v4m0 10v1m0 4v2m0 1v4m0 4v2m0 1v3m0 4v1m0 2v1m0 5v2m0 2v1m0 9v13m0 2v3m0 1v1m0 1v5m0 5v6m0 1v5m0 5v3m0 7v4m0 1v2m0 2v1m0 1v6m0 3v2m0 11v2m0 12v3m0 1v1m0 7v1m0 45v3m0 1v1m0 2v3m0 3v1m0 1v4m0 1v2"/>
<path stroke="#08321b" d="M440 644v1m0 8v4m0 7v1m0 2v6m0 1v2m0 3v2m0 1v1m0 2v6m0 9v3m0 2v2m0 6v21m0 3v6m0 1v1m0 5v5m0 8v1m0 3v4m0 18v2m0 4v5m0 3v2m0 9v1m0 27v1m0 25v1m0 8v3m0 1v1m0 5v4m0 2v3m0 8v5m0 1v1m0 2v1m0 3v2m0 2v1m0 1v1m0 2v4m0 1v3m0 2v6m0 3v4m0 2v2m0 6v1m0 3v1m0 2v1m0 7v6m0 3v1m0 3v2m0 4v2m0 6v2m0 2v1m0 2v1m0 15v5m0 1v1m0 2v5m0 8v1m0 4v3m0 5v1m0 2v3m0 9v2m0 3v1m0 17v1m0 38v1m0 8v1m0 4v1m0 53v1m0 1v1m0 21v1m0 7v1m0 17v2m0 15v2m0 3v1m0 1v5m0 6v1m0 1v11m0 3v2m0 1v1m0 1v1m0 1v3m0 25v1m0 2v1m0 2v1m0 5v1m0 2v2"/>
<path stroke="#071c10" d="M440 618v4m0 7v1m0 1v2m0 32v2m0 17v1m0 6v7m0 1v1m0 3v2m0 59v1m0 21v1m0 104v2m0 16v1m0 12v1m0 7v1m0 13v1m0 4v2m0 2v2m0 25v3m0 16v2m0 18v1m0 9v1m0 50v1m0 84v1m0 68v2m0 54v1m0 18v1m0 34v2m0 1v2m0 2v1"/>
<path stroke="#030303" d="M440 253v1m0 61v1m0 105v2m0 3v3m0 14v2m0 14v3m0 1v1m0 3v2m0 67v1m0 50v7m0 20v1m0 2v1m0 4v1m0 2v4m0 1v1m0 2v2m0 63v1"/>
<path stroke="#210406" d="M440 245v2m0 1v1m0 1v3m0 1v1m0 1v2m0 39v1m0 10v2m0 4v1m0 1v1m0 1v1m0 12v1m0 28v1m0 5v1m0 20v1m0 32v1m0 2v3m0 3v1m0 10v3m0 2v6m0 7v1m0 3v1m0 1v3m0 30v4m0 11v2m0 1v4m0 16v1m0 58v1m0 20v1m0 7v2m0 10v1"/>
<path stroke="#3e060a" d="M440 243v2m0 2v1m0 1v1m0 5v1m0 2v2m0 24v1m0 13v3m0 4v3m0 2v1m0 6v1m0 1v1m0 1v2m0 4v2m0 1v1m0 1v1m0 13v1m0 4v2m0 2v1m0 3v1m0 1v3m0 9v1m0 8v2m0 6v1m0 22v3m0 1v3m0 10v5m0 1v4m0 11v7m0 11v7m0 2v2m0 12v2m0 17v1m0 2v1m0 4v1m0 8v1m0 3v3m0 2v1m0 44v5m0 8v4m0 9v2m0 3v1m0 2v1m0 19v5"/>
<path stroke="#590a0f" d="M440 289v1m0 6v1m0 4v1m0 2v1m0 7v2m0 6v1m0 2v1m0 5v1m0 3v2m0 6v5m0 1v4m0 2v2m0 1v1m0 7v2m0 1v1m0 4v1m0 3v1m0 7v3m0 1v2m0 1v1m0 9v4m0 6v2m0 3v1m0 18v1m0 40v1m0 3v1m0 3v3m0 4v1m0 2v3m0 4v1m0 7v2m0 9v1m0 2v2m0 2v1m0 1v2m0 7v1m0 11v3m0 8v1m0 19v1m0 18v1m0 9v3m0 28v1"/>
<path stroke="#711017" d="M440 242v1m0 17v1m0 20v1m0 3v4m0 1v1m0 2v3m0 6v2m0 7v1m0 12v1m0 10v1m0 2v1m0 1v1m0 16v2m0 11v2m0 2v2m0 1v1m0 15v3m0 4v1m0 4v3m0 1v2m0 66v1m0 3v3m0 3v1m0 18v3m0 12v2m0 2v2m0 4v1m0 7v6m0 4v1m0 3v1m0 6v1m0 38v1m0 1v1m0 5v1"/>
<path stroke="#8a161e" d="M440 276v1m0 3v1m0 10v2m0 32v2m0 9v2m0 30v2m0 8v2m0 1v1m0 10v1m0 3v1m0 1v2m0 8v1m0 79v1m0 1v1m0 11v1m0 42v4m0 5v1m0 7v1m0 8v1m0 5v4m0 24v2"/>
<path stroke="#9c1a21" d="M440 275v1m0 1v3m0 2v2m0 55v1m0 40v1m0 16v1m0 91v1m0 13v1m0 1v1m0 49v2m0 2v1m0 6v5m0 1v1m0 3v1m0 25v3"/>
<path stroke="#ae1e23" d="M440 261v1m0 8v2m0 2v1m0 229v1m0 52v1m0 5v3m0 8v2"/>
<path stroke="#bd2224" d="M440 263v1m0 1v2m0 2v1m0 2v2m0 284v1m0 14v1"/>
<path stroke="#ca2524" d="M440 262v1m0 1v1m0 2v2"/>
</g>
<g stroke-width="25">
<path stroke="#074425" d="M465.5 242v1119"/>
<path stroke="#077739" d="M465.5 803v3m0 34v3m0 160v1m0 77v1"/>
<path stroke="#036435" d="M465.5 655v2m0 99v1m0 23v3m0 1v3m0 15v1m0 3v2m0 28v4m0 3v2m0 157v1m0 1v1m0 41v1m0 29v2m0 2v1m0 1v7m0 1v4m0 3v2m0 2v2m0 2v2m0 2v1m0 15v2m0 3v3m0 1v2m0 19v1m0 2v5m0 3v1m0 9v4m0 5v2m0 3v3m0 1v3m0 24v3m0 2v3m0 1v4m0 14v2m0 9v1m0 1v2m0 58v1m0 6v3m0 2v2"/>
<path stroke="#05542d" d="M465.5 646v4m0 2v3m0 2v1m0 1v2m0 10v3m0 80v2m0 1v4m0 5v1m0 1v7m0 4v1m0 3v1m0 3v1m0 8v1m0 2v1m0 1v1m0 6v3m0 15v10m0 9v2m0 2v1m0 13v3m0 3v4m0 1v1m0 36v9m0 20v4m0 24v7m0 26v1m0 3v3m0 3v3m0 1v2m0 10v1m0 1v3m0 13v1m0 1v1m0 12v3m0 3v2m0 7v1m0 2v2m0 9v1m0 4v1m0 1v1m0 2v1m0 3v2m0 2v2m0 1v6m0 6v2m0 5v1m0 3v1m0 2v4m0 2v2m0 10v1m0 1v2m0 5v3m0 1v9m0 4v1m0 2v2m0 4v1m0 3v1m0 3v2m0 2v1m0 6v2m0 3v3m0 4v1m0 3v2m0 3v1m0 4v6m0 3v5m0 2v1m0 5v3m0 1v1m0 2v2m0 3v3m0 43v7m0 1v6m0 3v2m0 2v1m0 13v1"/>
<path stroke="#08321b" d="M465.5 444v2m0 29v1m0 38v1m0 12v2m0 1v1m0 5v2m0 49v1m0 74v3m0 4v1m0 9v1m0 4v1m0 2v3m0 1v3m0 3v3m0 3v1m0 1v2m0 1v2m0 5v3m0 1v1m0 1v2m0 1v1m0 4v1m0 1v3m0 2v6m0 2v3m0 4v2m0 8v4m0 12v1m0 13v1m0 2v1m0 5v1m0 10v1m0 5v3m0 1v1m0 1v1m0 1v1m0 25v3m0 2v2m0 19v3m0 1v3m0 3v1m0 2v2m0 6v1m0 2v4m0 17v1m0 2v2m0 4v5m0 1v1m0 6v1m0 6v1m0 4v2m0 1v1m0 2v2m0 1v2m0 9v1m0 1v1m0 1v2m0 4v1m0 1v1m0 3v1m0 1v4m0 21v2m0 17v1m0 2v1m0 22v1m0 5v2m0 23v1m0 21v1m0 10v1m0 16v2m0 3v3m0 34v2m0 28v2m0 47v1m0 6v1m0 2v2m0 2v4m0 2v4m0 3v15m0 29v1m0 2v6m0 5v7m0 2v1"/>
<path stroke="#071c10" d="M465.5 249v2m0 2v2m0 173v1m0 14v1m0 2v3m0 14v1m0 5v1m0 6v1m0 32v3m0 14v1m0 2v1m0 1v1m0 1v3m0 6v1m0 8v2m0 26v2m0 3v1m0 4v1m0 31v1m0 68v1m0 3v2m0 8v1m0 13v1m0 70v2m0 2v1m0 18v1m0 7v1m0 3v1m0 59v3m0 5v6m0 1v2m0 22v2m0 2v4m0 5v1m0 40v1m0 4v4m0 1v1m0 5v1m0 45v2m0 106v2m0 129v2m0 4v2m0 72v2"/>
<path stroke="#030303" d="M465.5 248v1m0 2v2m0 2v1m0 3v1m0 11v3m0 5v3m0 90v1m0 3v1m0 52v1m0 11v2m0 6v2m0 7v3m0 3v5m0 1v5m0 4v1m0 3v1m0 8v4m0 5v1m0 5v2m0 6v4m0 13v1m0 5v1m0 2v1m0 1v6m0 1v1m0 27v1m0 2v1m0 3v2m0 33v1m0 1v1m0 3v1m0 2v4"/>
<path stroke="#210406" d="M465.5 245v2m0 9v3m0 1v1m0 1v1m0 11v1m0 3v1m0 3v2m0 6v1m0 49v3m0 18v1m0 11v1m0 1v1m0 1v2m0 48v1m0 2v1m0 8v2m0 10v3m0 2v2m0 3v1m0 16v1m0 1v1m0 1v1m0 1v3m0 4v1m0 8v1m0 1v5m0 12v1m0 4v2m0 13v2m0 8v1m0 3v2m0 4v1m0 11v2m0 2v3m0 4v2m0 6v2m0 22v1m0 8v3m0 1v2m0 11v1"/>
<path stroke="#3e060a" d="M465.5 244v1m0 2v1m0 13v1m0 8v1m0 4v1m0 1v1m0 6v1m0 1v1m0 4v2m0 41v1m0 2v3m0 3v1m0 12v1m0 5v1m0 5v1m0 2v1m0 2v1m0 12v5m0 6v2m0 14v2m0 7v4m0 4v1m0 6v1m0 15v2m0 6v1m0 14v1m0 3v1m0 5v1m0 8v1m0 1v2m0 23v1m0 31v1m0 2v1m0 1v1m0 3v7m0 3v1m0 20v4m0 8v1m0 5v1m0 1v1m0 1v3m0 13v1m0 5v1m0 1v1"/>
<path stroke="#590a0f" d="M465.5 242v2m0 20v1m0 3v2m0 6v1m0 8v1m0 1v1m0 1v1m0 3v4m0 2v2m0 34v1m0 8v2m0 9v1m0 1v1m0 2v1m0 3v4m0 1v2m0 8v1m0 1v2m0 3v1m0 10v1m0 14v2m0 2v1m0 4v2m0 9v2m0 56v1m0 6v1m0 22v3m0 33v2m0 3v1m0 11v1m0 18v1m0 1v1m0 4v1m0 8v1m0 2v2m0 3v1m0 20v2"/>
<path stroke="#711017" d="M465.5 263v1m0 1v1m0 22v1m0 8v2m0 2v1m0 13v4m0 5v4m0 5v1m0 2v1m0 9v3m0 3v3m0 3v2m0 3v1m0 16v1m0 2v3m0 9v2m0 3v1m0 3v2m0 2v4m0 5v1m0 1v2m0 13v4m0 50v2m0 72v2m0 29v1m0 6v2m0 7v2m0 24v2"/>
<path stroke="#8a161e" d="M465.5 266v2m0 34v2m0 2v1m0 5v3m0 4v1m0 2v2m0 4v1m0 1v3m0 16v3m0 40v3m0 6v1m0 4v1m0 11v1m0 183v1m0 2v2m0 27v1"/>
<path stroke="#9c1a21" d="M465.5 305v1m0 1v3m0 10v2m0 7v1m0 72v2m0 3v1m0 195v2"/>
<path stroke="#ae1e23" d="M465.5 304v1m0 5v2"/>
</g>
<g stroke-width="25">
<path stroke="#074425" d="M490.5 242v1119"/>
<path stroke="#0c8a3b" d="M490.5 785v1m0 37v1m0 17v1m0 1v2m0 378v1"/>
<path stroke="#077739" d="M490.5 650v1m0 128v6m0 1v2m0 34v1m0 1v5m0 4v4m0 3v1m0 1v1m0 2v5m0 232v1m0 2v3m0 15v2m0 21v3m0 46v3m0 2v3m0 37v3m0 1v4m0 9v2m0 26v2"/>
<path stroke="#036435" d="M490.5 575v1m0 69v2m0 1v2m0 1v1m0 4v1m0 116v2m0 3v1m0 9v5m0 1v2m0 8v3m0 2v1m0 11v1m0 7v4m0 17v2m0 7v2m0 91v1m0 26v1m0 23v2m0 1v2m0 2v4m0 7v4m0 2v1m0 33v3m0 1v4m0 11v2m0 1v2m0 3v7m0 2v2m0 3v1m0 2v1m0 18v2m0 3v3m0 26v1m0 2v3m0 2v9m0 3v2m0 3v1m0 47v4m0 1v1m0 2v3m0 5v2m0 18v3m0 78v3m0 8v2"/>
<path stroke="#05542d" d="M490.5 569v1m0 4v1m0 1v1m0 2v1m0 1v1m0 60v3m0 2v1m0 4v4m0 1v2m0 2v1m0 1v1m0 6v1m0 6v1m0 5v2m0 15v2m0 59v1m0 3v1m0 1v6m0 4v1m0 15v1m0 2v8m0 3v2m0 1v5m0 3v2m0 32v4m0 2v1m0 2v1m0 4v4m0 3v2m0 14v2m0 20v2m0 29v10m0 1v5m0 3v2m0 1v3m0 2v3m0 4v3m0 1v3m0 7v2m0 1v2m0 3v1m0 1v3m0 2v1m0 2v2m0 4v2m0 3v2m0 4v2m0 20v1m0 16v1m0 4v4m0 3v4m0 15v2m0 4v1m0 17v2m0 11v5m0 1v2m0 8v3m0 1v6m0 1v2m0 3v2m0 18v1m0 2v1m0 6v4m0 7v7m0 1v2m0 4v1m0 8v3m0 4v1m0 6v5m0 15v1m0 1v1m0 5v2m0 58v2m0 9v7m0 3v4m0 2v2"/>
<path stroke="#08321b" d="M490.5 253v2m0 209v2m0 2v1m0 32v1m0 63v1m0 1v1m0 14v1m0 5v1m0 76v3m0 6v1m0 4v1m0 7v3m0 4v2m0 1v2m0 4v1m0 1v1m0 5v7m0 6v1m0 7v1m0 2v2m0 1v4m0 9v2m0 130v3m0 1v1m0 5v4m0 1v2m0 1v1m0 2v1m0 5v1m0 5v1m0 4v2m0 2v6m0 5v4m0 19v1m0 72v1m0 2v9m0 4v2m0 1v1m0 3v2m0 17v1m0 25v1m0 6v6m0 1v1m0 1v1m0 4v2m0 62v1m0 4v1m0 11v1m0 15v1m0 33v4m0 17v4m0 7v2m0 2v4m0 2v1m0 1v6m0 2v2m0 2v2m0 2v5m0 6v4m0 5v2"/>
<path stroke="#071c10" d="M490.5 252v1m0 2v2m0 204v1m0 1v1m0 2v2m0 1v2m0 6v2m0 15v1m0 3v1m0 1v1m0 1v1m0 25v1m0 54v2m0 1v2m0 1v1m0 85v1m0 4v1m0 23v1m0 26v1m0 5v1m0 100v1m0 47v1m0 10v1m0 2v1m0 16v4m0 2v2m0 127v1m0 62v1m0 75v1m0 7v1m0 77v5m0 1v1m0 8v2"/>
<path stroke="#030303" d="M490.5 250v2m0 10v8m0 11v1m0 4v1m0 3v1m0 169v1m0 1v1m0 8v2m0 1v3m0 16v1m0 1v1m0 1v1m0 1v1m0 3v1m0 8v2m0 1v5m0 7v1m0 1v4m0 30v2m0 20v1m0 4v1m0 49v1m0 641v1m0 12v1"/>
<path stroke="#210406" d="M490.5 244v2m0 3v1m0 7v1m0 2v2m0 8v1m0 1v2m0 6v1m0 1v4m0 1v1m0 1v1m0 1v1m0 3v1m0 135v1m0 27v1m0 13v1m0 5v1m0 1v2m0 1v2m0 4v3m0 3v1m0 7v1m0 5v2m0 2v1m0 5v7m0 9v4m0 22v1m0 28v1m0 47v1"/>
<path stroke="#3e060a" d="M490.5 242v2m0 2v3m0 9v2m0 14v1m0 1v4m0 8v1m0 3v1m0 1v1m0 1v1m0 107v1m0 24v2m0 1v1m0 4v2m0 16v1m0 2v1m0 21v1m0 2v1m0 2v1m0 2v1m0 18v2m0 23v1m0 1v1m0 4v1m0 55v4m0 14v1m0 20v1m0 1v2m0 2v1"/>
<path stroke="#590a0f" d="M490.5 271v1m0 3v1m0 17v1m0 3v2m0 106v1m0 22v1m0 4v1m0 19v2m0 1v2m0 29v1m0 17v3m0 26v1m0 6v3m0 5v4m0 8v1m0 30v4m0 4v1m0 9v3m0 15v1m0 4v2m0 1v1"/>
<path stroke="#711017" d="M490.5 299v1m0 18v2m0 22v2m0 17v1m0 41v1m0 22v1m0 7v3m0 2v1m0 9v2m0 1v1m0 35v1m0 55v1m0 3v1m0 6v6m0 48v1m0 3v1m0 1v1m0 11v1m0 3v2"/>
<path stroke="#8a161e" d="M490.5 306v2m0 4v6m0 23v1m0 2v1m0 1v8m0 8v1m0 12v1m0 12v1m0 17v2m0 12v4m0 1v1m0 1v1m0 16v5m0 2v1m0 95v1m0 5v2m0 46v5m0 2v1m0 20v2"/>
<path stroke="#9c1a21" d="M490.5 300v1m0 4v1m0 2v1m0 13v2m0 16v1m0 4v1m0 8v3m0 2v2m0 2v1m0 5v1m0 3v2m0 1v1m0 12v5m0 8v1m0 5v3m0 8v1m0 4v1m0 15v4m0 101v2m0 59v2m0 8v3m0 6v2"/>
<path stroke="#ae1e23" d="M490.5 301v4m0 4v1m0 10v2m0 2v2m0 1v7m0 4v1m0 18v2m0 5v5m0 1v1m0 1v1m0 6v3m0 5v1m0 6v4m0 3v1m0 9v3m0 205v2m0 3v1"/>
<path stroke="#bd2224" d="M490.5 311v1m0 14v1m0 7v1m0 2v1m0 1v1m0 31v1m0 5v2m0 3v1m0 15v1m0 16v4m0 202v1m0 1v1"/>
<path stroke="#ca2524" d="M490.5 310v1m0 24v2m0 46v2m0 1v1m0 12v1m0 14v1m0 207v1"/>
<path stroke="#d32724" d="M490.5 385v1m0 14v1"/>
</g>
<g stroke-width="26">
<path stroke="#05542d" d="M516 242v1119"/>
<path stroke="#0c8a3b" d="M516 785v1m0 41v2m0 354v2m0 2v1m0 58v1m0 1v1"/>
<path stroke="#077739" d="M516 779v3m0 1v2m0 1v2m0 9v1m0 19v3m0 1v6m0 2v2m0 6v1m0 164v3m0 7v1m0 9v3m0 1v1m0 55v1m0 17v2m0 63v1m0 5v1m0 3v4m0 1v3m0 2v2m0 1v1m0 2v9m0 20v1m0 21v2m0 3v1m0 1v3m0 4v1m0 7v1m0 4v1"/>
<path stroke="#036435" d="M516 669v1m0 1v4m0 98v2m0 3v1m0 3v1m0 5v1m0 7v1m0 1v1m0 1v1m0 7v1m0 4v1m0 6v1m0 12v4m0 1v3m0 14v1m0 15v1m0 10v2m0 113v5m0 3v7m0 1v4m0 3v2m0 3v1m0 1v3m0 14v2m0 1v1m0 32v2m0 1v1m0 2v3m0 5v1m0 2v3m0 2v5m0 5v5m0 17v4m0 2v1m0 16v1m0 1v6m0 1v1m0 2v2m0 1v1m0 1v1m0 4v1m0 9v2m0 9v1m0 11v4m0 3v1m0 3v2m0 5v6m0 2v4m0 2v2m0 6v2m0 1v1m0 1v7m0 1v1m0 2v1m0 1v2m0 61v2"/>
<path stroke="#074425" d="M516 253v2m0 389v1m0 7v2m0 2v4m0 22v3m0 8v2m0 1v4m0 3v6m0 2v2m0 15v3m0 1v4m0 17v1m0 3v7m0 4v3m0 5v1m0 16v1m0 8v1m0 13v1m0 28v1m0 1v1m0 1v1m0 2v2m0 2v2m0 2v10m0 18v1m0 1v1m0 14v5m0 1v1m0 1v1m0 2v2m0 1v3m0 11v17m0 1v1m0 4v5m0 2v2m0 4v2m0 1v2m0 2v1m0 4v6m0 4v1m0 2v1m0 35v1m0 2v3m0 5v2m0 6v2m0 11v1m0 1v8m0 12v2m0 4v1m0 30v1m0 2v1m0 2v3m0 16v1m0 4v1m0 54v1m0 1v4m0 61v1m0 8v5m0 1v1m0 21v1m0 1v1m0 2v2m0 2v2m0 1v2m0 8v1m0 6v1m0 8v3m0 1v5m0 2v2"/>
<path stroke="#08321b" d="M516 252v1m0 3v2m0 186v2m0 15v1m0 79v2m0 38v2m0 5v1m0 96v1m0 4v1m0 1v1m0 2v1m0 13v2m0 2v2m0 5v3m0 1v4m0 3v1m0 4v2m0 1v2m0 2v7m0 1v2m0 1v3m0 7v1m0 2v1m0 33v1m0 13v1m0 16v1m0 13v1m0 38v1m0 1v1m0 3v3m0 8v3m0 5v1m0 3v2m0 2v1m0 3v1m0 1v9m0 28v2m0 12v1m0 11v4m0 1v2m0 37v1m0 59v2m0 57v1m0 3v2m0 11v2m0 57v1m0 47v8m0 5v1m0 1v7m0 1v13m0 3v2m0 11v2m0 3v1m0 8v3m0 3v2m0 3v1m0 5v2"/>
<path stroke="#071c10" d="M516 245v1m0 2v1m0 1v2m0 3v1m0 2v3m0 111v1m0 73v1m0 2v5m0 6v1m0 1v3m0 35v2m0 36v3m0 36v4m0 2v4m0 2v1m0 10v1m0 7v1m0 77v4m0 1v1m0 23v1m0 1v3m0 3v1m0 14v1m0 2v2m0 7v1m0 14v2m0 81v1m0 37v1m0 7v8m0 21v1m0 50v1m0 292v1m0 28v1m0 46v3"/>
<path stroke="#030303" d="M516 244v1m0 1v2m0 1v1m0 92v3m0 28v1m0 15v2m0 49v4m0 3v2m0 8v3m0 5v1m0 32v2m0 2v1m0 4v3m0 6v1m0 20v1m0 5v1m0 24v1m0 2v2m0 1v3m0 10v1m0 2v2m0 1v1m0 7v1m0 2v1m0 2v1m0 1v4m0 1v1m0 2v1m0 2v1m0 15v3m0 77v1"/>
<path stroke="#210406" d="M516 282v1m0 57v2m0 3v2m0 14v2m0 7v2m0 2v1m0 1v2m0 4v1m0 3v3m0 2v1m0 3v1m0 2v1m0 9v4m0 15v1m0 11v1m0 16v1m0 9v2m0 7v2m0 7v2m0 3v1m0 6v2m0 5v1m0 2v1m0 3v4m0 1v1m0 1v1m0 10v5m0 3v1m0 7v1m0 22v1m0 1v1m0 3v1m0 18v1m0 1v1m0 7v2m0 1v2m0 6v1m0 1v2m0 1v2m0 9v5m0 1v1m0 3v2"/>
<path stroke="#3e060a" d="M516 243v1m0 17v1m0 18v2m0 1v3m0 7v2m0 41v2m0 9v1m0 1v4m0 2v1m0 4v1m0 6v3m0 5v1m0 2v4m0 1v3m0 6v3m0 1v2m0 6v4m0 4v1m0 9v1m0 2v2m0 1v1m0 9v1m0 15v2m0 12v2m0 3v2m0 2v1m0 4v2m0 2v3m0 1v1m0 1v4m0 8v2m0 8v1m0 12v1m0 5v1m0 1v1m0 12v4m0 7v1m0 5v1m0 4v1m0 24v5m0 21v2m0 4v2m0 5v1m0 6v1"/>
<path stroke="#590a0f" d="M516 273v2m0 4v1m0 6v5m0 1v1m0 23v1m0 1v2m0 1v1m0 13v1m0 2v1m0 9v1m0 4v2m0 1v1m0 1v2m0 3v1m0 2v1m0 32v5m0 9v4m0 6v2m0 10v1m0 1v1m0 32v3m0 5v4m0 9v1m0 31v4m0 7v1m0 10v3m0 4v2m0 4v1m0 1v2m0 4v1m0 56v1m0 1v2"/>
<path stroke="#711017" d="M516 242v1m0 19v6m0 4v1m0 2v4m0 12v1m0 3v1m0 2v1m0 16v1m0 1v1m0 2v1m0 1v1m0 16v1m0 17v1m0 7v1m0 51v1m0 3v1m0 7v1m0 4v1m0 1v1m0 81v5m0 31v4m0 4v3m0 59v1"/>
<path stroke="#8a161e" d="M516 268v1m0 1v2m0 25v1m0 1v1m0 14v1m0 19v1m0 29v1m0 53v3m0 9v4"/>
<path stroke="#9c1a21" d="M516 269v1m0 26v1m0 3v3m0 1v3m0 6v1m0 9v1m0 9v1"/>
<path stroke="#ae1e23" d="M516 303v1m0 3v4m0 1v1m0 11v3m0 2v2m0 1v1"/>
<path stroke="#bd2224" d="M516 311v1m0 15v2m0 2v1"/>
</g>
<g stroke-width="25">
<path stroke="#08321b" d="M541.5 242v1119"/>
<path stroke="#077739" d="M541.5 1172v2m0 2v5"/>
<path stroke="#036435" d="M541.5 826v3m0 1v2m0 32v1m0 3v2m0 41v2m0 174v2m0 5v4m0 39v2m0 19v1m0 6v2m0 2v3m0 2v2m0 5v1m0 4v2m0 35v2m0 108v2m0 25v1"/>
<path stroke="#05542d" d="M541.5 642v3m0 9v4m0 7v3m0 87v3m0 43v5m0 7v1m0 10v2m0 3v1m0 2v3m0 25v4m0 1v3m0 2v1m0 5v2m0 5v1m0 19v8m0 2v1m0 93v4m0 70v2m0 1v1m0 8v1m0 4v2m0 4v5m0 5v2m0 2v5m0 1v8m0 4v1m0 2v2m0 12v5m0 24v1m0 2v1m0 2v4m0 19v1m0 1v5m0 2v3m0 2v1m0 7v4m0 23v1m0 71v1m0 2v2m0 1v2m0 8v1m0 10v1"/>
<path stroke="#074425" d="M541.5 318v2m0 65v1m0 12v1m0 246v1m0 1v7m0 4v1m0 1v1m0 2v2m0 3v2m0 2v6m0 2v2m0 1v1m0 51v1m0 10v4m0 4v1m0 3v1m0 6v1m0 12v2m0 2v3m0 1v2m0 3v2m0 3v1m0 3v1m0 5v1m0 1v5m0 1v1m0 2v5m0 13v2m0 12v11m0 13v2m0 5v3m0 1v7m0 2v2m0 1v3m0 15v4m0 1v3m0 8v2m0 23v2m0 14v2m0 5v1m0 6v1m0 9v1m0 7v4m0 4v2m0 1v5m0 8v1m0 3v11m0 12v3m0 4v2m0 3v2m0 6v1m0 1v2m0 1v2m0 2v1m0 1v2m0 2v4m0 7v1m0 1v2m0 5v5m0 2v2m0 5v1m0 8v1m0 8v1m0 5v3m0 2v1m0 8v4m0 2v2m0 14v1m0 10v3m0 4v2m0 5v3m0 1v1m0 5v2m0 6v3m0 2v2m0 4v1m0 1v2m0 4v9m0 1v5m0 1v5m0 6v1m0 1v2m0 35v6m0 4v1m0 8v2m0 5v1m0 2v2m0 2v1m0 2v1m0 1v2m0 1v1m0 4v2"/>
<path stroke="#071c10" d="M541.5 277v2m0 2v1m0 4v6m0 49v2m0 1v1m0 3v1m0 35v1m0 4v3m0 1v1m0 1v1m0 4v1m0 3v1m0 14v1m0 1v2m0 4v1m0 155v1m0 1v1m0 36v1m0 1v10m0 3v1m0 40v1m0 6v1m0 1v2m0 4v5m0 1v2m0 3v5m0 34v2m0 35v1m0 8v1m0 32v1m0 15v2m0 2v1m0 32v1m0 47v2m0 4v1m0 8v4m0 3v1m0 2v2m0 15v4m0 11v4m0 4v2m0 2v1m0 6v1m0 1v1m0 11v1m0 5v1m0 2v1m0 1v2m0 20v1m0 88v1m0 63v1m0 3v1m0 2v1m0 62v1m0 10v4m0 8v2m0 24v2m0 4v1m0 3v2m0 26v1"/>
<path stroke="#030303" d="M541.5 269v8m0 5v4m0 7v1m0 6v1m0 4v3m0 1v2m0 6v1m0 4v1m0 3v1m0 10v1m0 2v1m0 2v1m0 1v3m0 1v1m0 1v1m0 31v1m0 8v1m0 12v2m0 3v2m0 4v1m0 1v1m0 1v1m0 2v1m0 2v1m0 1v1m0 89v1m0 10v1m0 6v1m0 3v1m0 41v1m0 1v1m0 1v1m0 2v3m0 26v4m0 1v1m0 12v1m0 3v2m0 44v1m0 11v1m0 2v3m0 319v1m0 180v2m0 119v3"/>
<path stroke="#210406" d="M541.5 264v2m0 28v1m0 2v3m0 1v1m0 1v2m0 3v1m0 2v2m0 2v2m0 6v1m0 1v1m0 1v2m0 3v1m0 1v3m0 1v2m0 10v1m0 1v2m0 8v2m0 8v1m0 6v1m0 2v1m0 24v1m0 1v1m0 2v1m0 1v2m0 1v1m0 6v2m0 3v3m0 3v1m0 6v2m0 19v1m0 21v4m0 1v2m0 25v1m0 8v3m0 1v2m0 3v1m0 1v1m0 13v2m0 8v2m0 5v7m0 17v2m0 22v2m0 16v2"/>
<path stroke="#3e060a" d="M541.5 266v3m0 26v2m0 5v1m0 10v2m0 9v1m0 4v3m0 1v1m0 21v2m0 1v4m0 2v1m0 6v1m0 1v1m0 2v3m0 1v2m0 26v1m0 4v1m0 18v1m0 1v1m0 3v4m0 2v2m0 10v1m0 3v1m0 1v1m0 1v1m0 9v1m0 14v1m0 2v1m0 11v1m0 4v2m0 1v5m0 2v1m0 1v2m0 2v1m0 6v3m0 3v2m0 1v1m0 4v1m0 3v1m0 2v4m0 3v1m0 2v1m0 3v1m0 7v5m0 1v1m0 32v2"/>
<path stroke="#590a0f" d="M541.5 261v1m0 1v1m0 90v1m0 2v1m0 7v2m0 1v3m0 3v2m0 57v1m0 2v2m0 8v1m0 2v5m0 3v3m0 1v1m0 3v1m0 7v1m0 1v1m0 24v2m0 6v1m0 2v1m0 8v1m0 21v2m0 3v1m0 9v3m0 4v3m0 13v1m0 13v7m0 11v2"/>
<path stroke="#711017" d="M541.5 251v2m0 9v1m0 104v1m0 79v2m0 17v3m0 7v1m0 1v2m0 13v2m0 8v1m0 1v1m0 1v1m0 15v2m0 19v2m0 2v2m0 51v1m0 6v4"/>
<path stroke="#8a161e" d="M541.5 253v1m0 6v1m0 193v2m0 13v1m0 1v2m0 11v1m0 13v2m0 2v1m0 3v1m0 95v1m0 3v2"/>
<path stroke="#9c1a21" d="M541.5 245v1m0 224v1m0 6v1m0 2v1m0 2v1m0 11v1m0 1v1m0 105v3"/>
<path stroke="#ae1e23" d="M541.5 244v1m0 1v1m0 7v2m0 3v1m0 222v1m0 13v1"/>
<path stroke="#bd2224" d="M541.5 242v2m0 3v4m0 5v1m0 224v1"/>
<path stroke="#ca2524" d="M541.5 258v1"/>
<path stroke="#d32724" d="M541.5 257v1"/>
</g>
<g stroke-width="26">
<path stroke="#05542d" d="M567 242v1119"/>
<path stroke="#0c8a3b" d="M567 656v1m0 166v2m0 13v1m0 4v1m0 330v5m0 68v5m0 12v3"/>
<path stroke="#077739" d="M567 646v1m0 8v1m0 1v2m0 120v5m0 1v3m0 2v3m0 32v1m0 11v1m0 1v4m0 1v3m0 15v2m0 3v3m0 133v2m0 1v1m0 6v1m0 116v2m0 7v2m0 20v2m0 6v5m0 5v2m0 1v5m0 12v1m0 13v2m0 8v2m0 13v2m0 3v4m0 5v1m0 7v4m0 3v1m0 90v3"/>
<path stroke="#036435" d="M567 642v4m0 1v1m0 1v1m0 2v3m0 4v2m0 2v4m0 1v1m0 1v1m0 85v2m0 6v2m0 2v2m0 2v2m0 10v1m0 3v2m0 3v2m0 6v1m0 2v5m0 13v1m0 3v1m0 1v1m0 2v2m0 3v1m0 10v2m0 6v1m0 3v3m0 2v3m0 3v2m0 10v2m0 76v1m0 35v3m0 2v2m0 2v1m0 1v6m0 31v2m0 1v1m0 1v1m0 17v1m0 14v1m0 1v2m0 13v1m0 2v6m0 3v5m0 1v4m0 2v3m0 3v1m0 2v1m0 3v3m0 2v2m0 10v4m0 1v3m0 2v1m0 1v4m0 12v1m0 5v1m0 4v4m0 1v2m0 1v1m0 7v2m0 2v1m0 2v1m0 4v3m0 10v2m0 5v3m0 10v7m0 8v1m0 64v2m0 1v5m0 16v1"/>
<path stroke="#074425" d="M567 620v2m0 52v1m0 1v1m0 1v1m0 2v2m0 1v1m0 5v3m0 5v4m0 2v5m0 3v1m0 2v1m0 2v7m0 29v1m0 5v1m0 15v1m0 19v2m0 17v5m0 15v1m0 36v1m0 1v1m0 1v1m0 9v1m0 2v2m0 1v7m0 16v1m0 1v1m0 6v3m0 14v10m0 1v1m0 4v2m0 2v3m0 6v1m0 1v2m0 2v2m0 1v2m0 9v1m0 26v4m0 5v1m0 9v6m0 11v2m0 2v1m0 5v3m0 5v2m0 2v2m0 11v1m0 4v3m0 1v1m0 29v1m0 17v7m0 53v2m0 10v1m0 12v2m0 4v1m0 37v2m0 10v10m0 3v4m0 8v3m0 3v1m0 5v5m0 15v1m0 2v1m0 3v5"/>
<path stroke="#08321b" d="M567 622v3m0 3v4m0 43v1m0 3v2m0 4v2m0 2v1m0 12v2m0 9v2m0 1v2m0 9v8m0 2v14m0 1v2m0 23v1m0 42v1m0 6v1m0 45v1m0 1v1m0 23v1m0 2v1m0 4v2m0 3v3m0 3v1m0 2v3m0 3v9m0 1v4m0 10v1m0 34v2m0 70v2m0 36v1m0 31v1m0 82v1m0 58v4m0 2v10m0 10v1m0 1v1m0 4v8m0 34v1"/>
<path stroke="#071c10" d="M567 405v2m0 181v1m0 30v1m0 5v3m0 59v2m0 36v2m0 8v2m0 14v1m0 148v2m0 1v1m0 1v2m0 2v3m0 7v2m0 15v1m0 34v1m0 6v1m0 81v1m0 165v1m0 70v1m0 46v1"/>
<path stroke="#030303" d="M567 404v1m0 2v2m0 176v3m0 1v4m0 19v2m0 18v1m0 271v1"/>
<path stroke="#210406" d="M567 319v1m0 17v1m0 43v1m0 21v1m0 5v7m0 5v1m0 5v2m0 37v3m0 1v2m0 2v1m0 23v1m0 2v1m0 2v1m0 20v1m0 51v2m0 5v1m0 8v1m0 14v1m0 1v2m0 2v2m0 2v1m0 14v1"/>
<path stroke="#3e060a" d="M567 289v3m0 5v1m0 18v3m0 1v1m0 1v1m0 10v1m0 2v1m0 3v1m0 33v1m0 7v4m0 2v6m0 3v2m0 17v3m0 1v1m0 1v2m0 1v2m0 2v1m0 14v1m0 20v1m0 6v2m0 1v1m0 21v1m0 1v2m0 1v2m0 1v2m0 21v2m0 30v2m0 2v2m0 7v4m0 3v2m0 1v1m0 10v1m0 5v1m0 6v1m0 1v1m0 6v2m0 19v1"/>
<path stroke="#590a0f" d="M567 275v1m0 12v1m0 3v1m0 2v2m0 1v2m0 7v9m0 5v1m0 1v1m0 3v1m0 4v1m0 1v2m0 2v1m0 2v2m0 2v1m0 29v1m0 4v1m0 5v2m0 6v3m0 2v4m0 16v1m0 4v1m0 5v2m0 1v1m0 9v1m0 1v1m0 18v1m0 4v1m0 6v2m0 29v1m0 12v5m0 1v2m0 2v3m0 14v2m0 1v6m0 2v2m0 2v2m0 15v1m0 2v1m0 12v4m0 2v2m0 35v1"/>
<path stroke="#711017" d="M567 246v2m0 9v2m0 8v2m0 5v1m0 1v2m0 3v2m0 1v1m0 2v1m0 5v2m0 5v1m0 2v2m0 1v1m0 17v3m0 1v1m0 2v1m0 7v1m0 3v2m0 1v2m0 30v2m0 52v1m0 1v2m0 6v1m0 4v7m0 1v7m0 1v1m0 14v1m0 4v1m0 1v4m0 2v2m0 2v2m0 11v5m0 4v1m0 1v1m0 24v3m0 2v1m0 6v2m0 10v2m0 2v1m0 26v1m0 3v1m0 2v1m0 27v3m0 2v1"/>
<path stroke="#8a161e" d="M567 243v1m0 1v1m0 2v1m0 5v2m0 3v3m0 1v4m0 2v1m0 3v1m0 4v3m0 2v1m0 1v2m0 18v1m0 23v2m0 17v4m0 4v2m0 2v2m0 10v2m0 2v2m0 58v6m0 4v1m0 7v1m0 7v1m0 16v1m0 2v1m0 1v1m0 4v2m0 2v2m0 18v4m0 1v1m0 14v2m0 6v3m0 22v2m0 37v1m0 34v2"/>
<path stroke="#9c1a21" d="M567 242v1m0 1v1m0 4v5m0 2v1m0 5v1m0 7v3m0 28v2m0 49v1m0 2v1m0 2v1m0 3v1m0 117v2m0 53v2m0 3v1m0 29v1m0 33v1"/>
<path stroke="#ae1e23" d="M567 353v2m0 4v1m0 3v1m0 1v5m0 1v1m0 165v1m0 1v1m0 31v1"/>
<path stroke="#bd2224" d="M567 364v1m0 5v1m0 167v1"/>
</g>
<g stroke-width="25">
<path stroke="#24a734" d="M592.5 242v1119"/>
<path stroke="#5cb92e" d="M592.5 373v2"/>
<path stroke="#43b330" d="M592.5 242v2m0 127v2m0 2v6m0 215v2"/>
<path stroke="#32ad32" d="M592.5 244v2m0 2v2m0 2v1m0 23v3m0 6v1m0 15v2m0 1v1m0 43v3m0 4v3m0 12v1m0 10v2m0 27v2m0 93v4m0 37v1m0 4v2m0 28v2m0 2v2m0 2v4m0 2v1m0 15v2m0 1v21m0 3v4"/>
<path stroke="#189a37" d="M592.5 254v4m0 1v3m0 1v2m0 4v1m0 2v2m0 1v1m0 5v2m0 11v3m0 13v1m0 3v3m0 3v1m0 4v4m0 2v1m0 2v3m0 15v1m0 12v3m0 15v1m0 4v1m0 3v2m0 1v7m0 2v4m0 14v2m0 11v8m0 1v2m0 1v1m0 1v1m0 2v3m0 2v2m0 3v7m0 1v1m0 4v3m0 4v1m0 1v1m0 5v2m0 2v1m0 4v2m0 1v2m0 8v5m0 5v2m0 4v1m0 5v2m0 7v2m0 3v1m0 5v5m0 3v3m0 2v4m0 6v2m0 23v4m0 2v1m0 685v1"/>
<path stroke="#0c8a3b" d="M592.5 262v1m0 2v4m0 1v2m0 2v1m0 22v1m0 19v3m0 64v2m0 1v1m0 1v3m0 32v2m0 1v1m0 2v5m0 8v1m0 2v1m0 1v1m0 1v2m0 26v4m0 1v1m0 5v1m0 2v2m0 4v1m0 18v5m0 7v5m0 2v7m0 23v1m0 726v1m0 1v1"/>
<path stroke="#077739" d="M592.5 386v1m0 39v1m0 1v2m0 866v1"/>
<path stroke="#036435" d="M592.5 1288v1m0 3v1m0 9v1"/>
<path stroke="#05542d" d="M592.5 954v1m0 58v1m0 272v2m0 2v2m0 5v5"/>
<path stroke="#074425" d="M592.5 724v1m0 185v1m0 34v1m0 9v1m0 15v1m0 40v1m0 260v2m0 1v2m0 11v1"/>
<path stroke="#08321b" d="M592.5 647v2m0 1v2m0 19v1m0 48v1m0 4v1m0 96v1m0 71v1m0 12v2m0 2v5m0 9v1m0 11v1m0 8v1m0 6v1m0 16v1m0 40v1m0 2v1m0 49v3m0 205v1m0 2v1m0 6v4m0 17v1"/>
<path stroke="#071c10" d="M592.5 643v1m0 2v1m0 2v1m0 20v1m0 1v1m0 21v2m0 25v1m0 4v1m0 29v2m0 52v2m0 2v1m0 6v1m0 1v1m0 3v2m0 57v1m0 6v1m0 1v1m0 13v1m0 6v1m0 9v1m0 11v1m0 3v1m0 1v1m0 2v1m0 2v3m0 3v1m0 15v1m0 19v2m0 1v2m0 18v3m0 14v1m0 3v1m0 24v1m0 1v1m0 3v1m0 3v4m0 203v1m0 25v1"/>
<path stroke="#030303" d="M592.5 644v1m0 7v1m0 15v1m0 4v1m0 3v1m0 3v5m0 7v1m0 2v3m0 12v4m0 4v1m0 2v2m0 3v1m0 24v1m0 5v1m0 1v2m0 47v1m0 2v2m0 6v1m0 3v3m0 4v1m0 55v1m0 1v1m0 2v1m0 4v1m0 2v2m0 4v1m0 11v5m0 1v1m0 2v1m0 8v1m0 2v3m0 1v1m0 4v2m0 7v5m0 11v1m0 17v1m0 2v1m0 2v3m0 33v3m0 1v2m0 2v2m0 19v1m0 7v1m0 200v1m0 33v1m0 2v3"/>
<path stroke="#210406" d="M592.5 645v1m0 7v2m0 9v2m0 1v1m0 6v1m0 3v1m0 12v2m0 6v1m0 10v1m0 17v1m0 26v1m0 3v1m0 10v1m0 2v2m0 17v1m0 13v3m0 6v1m0 3v1m0 10v1m0 54v1m0 2v1m0 1v2m0 4v1m0 1v2m0 4v2m0 11v1m0 5v1m0 4v1m0 1v1m0 1v4m0 26v5m0 2v1m0 4v2m0 7v2m0 25v1m0 7v2m0 6v1m0 1v1m0 2v1m0 7v2m0 6v1m0 12v1m0 7v2m0 200v1m0 8v1m0 1v1m0 24v2m0 5v1"/>
<path stroke="#3e060a" d="M592.5 642v1m0 17v2m0 4v1m0 2v1m0 5v2m0 3v1m0 5v4m0 10v1m0 5v2m0 7v1m0 1v2m0 10v1m0 6v2m0 4v1m0 3v3m0 4v2m0 7v1m0 6v1m0 1v2m0 2v1m0 5v1m0 21v1m0 14v1m0 10v1m0 2v1m0 43v1m0 7v1m0 17v1m0 26v1m0 1v1m0 35v2m0 7v1m0 1v1m0 9v1m0 11v2m0 2v3m0 1v2m0 10v2m0 3v1m0 1v1m0 1v1m0 13v1m0 1v2m0 12v1m0 15v1m0 204v1m0 30v2m0 36v1m0 7v1"/>
<path stroke="#590a0f" d="M592.5 655v3m0 1v1m0 2v2m0 15v1m0 10v1m0 13v2m0 3v1m0 6v1m0 15v4m0 5v1m0 1v3m0 3v1m0 1v1m0 11v4m0 1v1m0 7v2m0 1v2m0 16v1m0 4v1m0 2v1m0 77v1m0 19v1m0 73v1m0 1v4m0 4v1m0 1v2m0 11v2m0 3v1m0 14v1m0 1v1m0 5v1m0 13v1m0 3v1m0 6v1m0 2v1m0 210v1m0 44v3m0 31v1"/>
<path stroke="#711017" d="M592.5 658v1m0 42v1m0 6v1m0 21v2m0 6v1m0 1v1m0 9v1m0 16v1m0 10v1m0 15v1m0 1v1m0 1v1m0 1v1m0 3v1m0 11v2m0 51v1m0 7v1m0 108v1m0 36v1m0 25v2m0 3v1m0 1v2m0 18v2m0 28v1m0 2v1m0 157v2m0 51v2m0 19v1m0 5v1"/>
<path stroke="#8a161e" d="M592.5 739v1m0 42v1m0 8v1m0 1v1m0 1v1m0 3v1m0 1v1m0 66v1m0 1v1m0 4v1m0 5v2m0 102v1m0 65v1m0 1v1m0 30v2m0 4v1m0 6v3m0 5v1m0 1v2m0 15v1m0 67v1m0 53v1m0 13v1m0 2v4m0 50v1m0 16v1m0 1v1m0 3v1m0 1v1m0 1v3m0 4v3m0 2v1"/>
<path stroke="#9c1a21" d="M592.5 702v2m0 84v3m0 42v1m0 32v1m0 4v1m0 6v3m0 171v1m0 25v1m0 3v2m0 2v2m0 3v1m0 8v1m0 3v1m0 5v3m0 3v3m0 3v2m0 1v1m0 55v3m0 57v2m0 2v1m0 1v4m0 8v1m0 2v1m0 55v2m0 2v1m0 9v2m0 1v1m0 1v1m0 5v1m0 6v1m0 3v1"/>
<path stroke="#ae1e23" d="M592.5 848v1m0 16v1m0 1v1m0 4v1m0 1v1m0 204v2m0 7v2m0 2v5m0 4v2m0 10v1m0 1v1m0 5v1m0 4v3m0 51v1m0 8v3m0 1v2m0 40v1m0 3v2m0 2v2m0 6v1m0 6v1m0 2v1m0 65v1m0 3v1m0 6v2m0 15v1m0 2v1m0 1v1"/>
<path stroke="#bd2224" d="M592.5 783v3m0 1v1m0 53v1m0 3v3m0 5v1m0 7v1m0 1v2m0 8v1m0 207v1m0 21v1m0 10v1m0 4v2m0 58v1m0 4v2m0 2v1m0 47v1m0 1v1m0 84v2m0 1v1m0 1v1m0 30v1"/>
<path stroke="#ca2524" d="M592.5 786v1m0 47v1m0 9v1m0 4v1m0 4v1m0 2v1m0 2v1m0 1v1m0 266v1m0 57v1m0 7v2m0 34v1m0 5v1m0 14v4m0 1v1m0 67v1m0 3v2"/>
<path stroke="#d32724" d="M592.5 835v1m0 4v1m0 1v2m0 6v1m0 4v2m0 1v2m0 270v1m0 47v1m0 7v1m0 10v1m0 8v1m0 20v1m0 2v1m0 1v1m0 1v1"/>
<path stroke="#d92824" d="M592.5 839v1m0 12v1m0 278v1m0 16v2m0 1v1m0 46v2m0 1v1m0 3v1m0 22v2m0 3v1m0 22v1"/>
<path stroke="#dc2924" d="M592.5 836v3m0 12v1m0 280v16m0 2v1m0 1v26m0 22v1m0 1v3m0 2v20"/>
</g>
<g stroke-width="25">
<path stroke="#dc2924" d="M617.5 242v1119"/>
<path stroke="#5cb92e" d="M617.5 327v2m0 134v1m0 41v1m0 45v2m0 19v5m0 28v2"/>
<path stroke="#43b330" d="M617.5 276v3m0 6v2m0 5v2m0 14v1m0 16v2m0 2v2m0 1v2m0 18v2m0 19v3m0 4v3m0 1v12m0 40v2m0 4v5m0 1v1m0 13v1m0 1v3m0 4v1m0 28v1m0 2v2m0 1v3m0 6v7m0 2v2m0 1v2m0 4v5m0 7v2m0 3v1m0 2v1m0 23v3m0 1v4m0 19v1m0 2v6m0 6v5m0 2v8"/>
<path stroke="#32ad32" d="M617.5 242v2m0 3v2m0 2v3m0 4v1m0 12v5m0 3v5m0 3v5m0 2v4m0 2v2m0 2v4m0 1v1m0 10v5m0 6v1m0 2v7m0 3v5m0 2v1m0 2v8m0 2v9m0 3v4m0 3v1m0 12v4m0 19v2m0 8v7m0 2v4m0 5v1m0 1v4m0 7v1m0 6v2m0 1v1m0 1v1m0 2v6m0 2v8m0 6v3m0 1v2m0 6v2m0 2v2m0 7v2m0 2v1m0 2v1m0 2v1m0 5v7m0 4v1m0 4v9m0 4v5m0 8v1m0 4v2m0 1v10m0 2v4m0 9v6m0 5v2m0 8v4m0 1v3"/>
<path stroke="#24a734" d="M617.5 244v1m0 1v1m0 2v2m0 3v4m0 1v3m0 3v1m0 2v3m0 13v1m0 13v2m0 2v2m0 6v10m0 21v3m0 5v2m0 11v2m0 36v9m0 1v2m0 2v2m0 2v1m0 2v1m0 1v6m0 24v7m0 1v1m0 7v1m0 3v2m0 6v2m0 8v1m0 1v4m0 14v2m0 17v2m0 15v2m0 14v4m0 20v1m0 10v2m0 38v1"/>
<path stroke="#189a37" d="M617.5 245v1m0 16v3m0 1v2m0 141v1m0 2v2m0 2v2m0 4v1m0 69v1"/>
<path stroke="#036435" d="M617.5 1212v1"/>
<path stroke="#05542d" d="M617.5 1235v1"/>
<path stroke="#074425" d="M617.5 1181v3m0 1v1m0 1v1m0 25v1m0 1v2m0 14v1m0 4v1m0 1v1m0 1v1"/>
<path stroke="#08321b" d="M617.5 1184v1m0 1v1m0 16v1m0 2v1m0 7v1m0 2v1m0 1v1m0 10v1m0 1v1m0 1v1m0 2v1m0 1v1m0 1v2"/>
<path stroke="#071c10" d="M617.5 1180v1m0 7v1m0 13v1m0 2v1m0 1v2m0 2v1m0 6v1m0 10v1m0 3v1m0 112v2"/>
<path stroke="#030303" d="M617.5 1191v1m0 2v2m0 2v2m0 4v1m0 4v2m0 9v1m0 7v1m0 119v1m0 3v1"/>
<path stroke="#210406" d="M617.5 1179v1m0 9v2m0 2v1m0 2v1m0 3v2m0 41v1m0 96v2m0 2v2m0 3v1m0 1v1"/>
<path stroke="#3e060a" d="M617.5 1131v1m0 65v1m0 23v1m0 5v1m0 42v2m0 56v1m0 21v1m0 2v1m0 2v1"/>
<path stroke="#590a0f" d="M617.5 1160v3m0 15v1m0 13v1m0 29v1m0 3v1m0 45v1m0 9v1m0 44v1m0 9v1m0 1v1m0 2v1m0 11v2m0 1v1"/>
<path stroke="#711017" d="M617.5 644v4m0 450v1m0 33v1m0 17v1m0 5v1m0 2v1m0 63v1m0 36v1m0 8v1m0 3v2m0 6v1m0 6v1m0 2v3m0 1v1m0 33v1m0 2v2m0 2v1m0 1v1m0 4v1"/>
<path stroke="#8a161e" d="M617.5 643v1m0 4v1m0 15v5m0 427v2m0 13v4m0 1v1m0 5v2m0 4v3m0 27v1m0 18v1m0 46v1m0 19v1m0 14v1m0 8v1m0 14v1m0 3v1m0 6v1m0 1v1m0 4v2"/>
<path stroke="#9c1a21" d="M617.5 1082v1m0 1v1m0 7v1m0 6v1m0 10v1m0 4v1m0 1v1m0 9v1m0 5v1m0 19v3m0 1v1m0 5v1m0 12v1m0 48v1m0 32v1m0 2v3m0 11v6m0 3v3m0 3v1m0 6v4m0 20v2m0 3v1m0 7v1m0 23v1"/>
<path stroke="#ae1e23" d="M617.5 649v1m0 3v3m0 13v3m0 411v1m0 1v1m0 4v2m0 1v1m0 1v1m0 22v1m0 2v1m0 2v3m0 7v2m0 2v1m0 112v1m0 12v1m0 1v2m0 21v1m0 13v1m0 16v1m0 9v2m0 3v1m0 23v2"/>
<path stroke="#bd2224" d="M617.5 650v1m0 9v1m0 2v1m0 412v1m0 9v1m0 1v2m0 4v1m0 9v1m0 14v2m0 16v1m0 11v1m0 1v2m0 22v1m0 69v1m0 2v3m0 1v1m0 4v1m0 7v1m0 53v1m0 3v3"/>
<path stroke="#ca2524" d="M617.5 642v1m0 8v2m0 3v1m0 4v2m0 13v1m0 400v5m0 5v1m0 12v2m0 3v1m0 2v2m0 26v1m0 2v1m0 8v1m0 15v1m0 1v1m0 79v1m0 8v2m0 47v1m0 8v1m0 2v1m0 1v1"/>
<path stroke="#d32724" d="M617.5 659v1m0 12v1m0 2v1m0 399v1m0 26v2m0 2v2m0 32v3m0 4v1m0 17v1m0 8v1m0 72v1m0 5v2m0 50v2m0 1v3m0 1v1m0 1v2m0 1v1"/>
<path stroke="#d92824" d="M617.5 657v2m0 18v1m0 465v2m0 22v1m0 139v1m0 3v1"/>
</g>
<g stroke-width="26">
<path stroke="#24a734" d="M643 242v1119"/>
<path stroke="#5cb92e" d="M643 503v5m0 121v1"/>
<path stroke="#43b330" d="M643 272v2m0 2v3m0 46v2m0 3v4m0 8v2m0 3v5m0 115v1m0 22v2m0 5v6m0 5v2m0 1v2m0 33v2m0 2v1m0 5v1m0 39v2m0 24v7m0 1v9"/>
<path stroke="#32ad32" d="M643 242v2m0 6v3m0 17v2m0 2v2m0 3v3m0 3v1m0 35v4m0 2v3m0 4v3m0 1v2m0 1v1m0 2v3m0 5v2m0 2v3m0 1v1m0 17v5m0 5v2m0 4v1m0 19v1m0 1v2m0 26v9m0 12v2m0 1v1m0 1v3m0 4v1m0 11v1m0 2v5m0 13v1m0 2v4m0 1v1m0 1v8m0 20v2m0 1v2m0 2v1m0 1v3m0 31v5m0 2v2m0 1v2m0 1v6m0 6v6m0 17v3"/>
<path stroke="#189a37" d="M643 247v1m0 6v1m0 3v3m0 2v1m0 1v3m0 15v1m0 4v2m0 1v2m0 5v6m0 2v2m0 1v2m0 2v1m0 1v5m0 42v2m0 1v1m0 2v1m0 4v1m0 2v1m0 16v1m0 2v2m0 3v1m0 1v3m0 3v1m0 10v1m0 5v1m0 4v2m0 2v1m0 22v1m0 3v2m0 72v3m0 24v2m0 7v3m0 4v1m0 1v2m0 2v1m0 25v3"/>
<path stroke="#0c8a3b" d="M643 311v2m0 1v1m0 49v1m0 33v3m0 20v5m0 1v4m0 2v2m0 24v2m0 119v1m0 2v2"/>
<path stroke="#077739" d="M643 690v1"/>
<path stroke="#036435" d="M643 664v1m0 2v5m0 13v2m0 2v1m0 3v2m0 36v1m0 1v2m0 298v3m0 259v1"/>
<path stroke="#05542d" d="M643 663v1m0 1v2m0 24v2m0 28v1m0 1v3m0 2v2m0 2v1m0 299v1m0 3v1m0 4v2m0 248v1m0 2v1m0 1v1m0 1v1"/>
<path stroke="#074425" d="M643 645v4m0 10v4m0 9v1m0 4v3m0 4v1m0 2v2m0 6v2m0 23v1m0 1v1m0 7v1m0 4v1m0 1v2m0 2v1m0 3v2m0 4v1m0 136v2m0 111v1m0 3v2m0 19v1m0 10v2m0 1v1m0 6v1m0 11v2m0 10v2m0 215v1m0 1v1m0 1v2m0 3v1m0 1v1"/>
<path stroke="#08321b" d="M643 644v1m0 4v1m0 3v1m0 1v4m0 14v1m0 1v2m0 3v1m0 2v1m0 13v4m0 13v1m0 11v2m0 8v1m0 2v2m0 1v1m0 4v4m0 1v1m0 71v1m0 57v1m0 1v4m0 49v3m0 62v3m0 2v1m0 1v1m0 13v3m0 1v1m0 3v1m0 7v1m0 9v1m0 7v2m0 3v2m0 2v1m0 2v2m0 2v1m0 203v2m0 8v1m0 1v1m0 10v3m0 6v1"/>
<path stroke="#071c10" d="M643 642v2m0 6v3m0 1v1m0 19v1m0 6v1m0 19v1m0 1v2m0 1v1m0 5v2m0 1v5m0 33v3m0 25v1m0 4v1m0 36v1m0 1v1m0 42v1m0 1v1m0 5v3m0 2v1m0 1v1m0 6v1m0 2v3m0 5v1m0 11v4m0 83v1m0 7v1m0 1v4m0 2v1m0 3v1m0 7v3m0 12v4m0 1v1m0 1v2m0 1v4m0 4v1m0 2v2m0 1v1m0 6v1m0 201v1m0 2v1m0 5v2m0 16v3m0 2v1m0 1v2"/>
<path stroke="#030303" d="M643 682v1m0 19v1m0 2v1m0 1v1m0 3v1m0 32v1m0 11v1m0 4v1m0 11v1m0 6v1m0 1v4m0 1v1m0 19v2m0 13v1m0 46v1m0 1v1m0 2v2m0 3v2m0 10v2m0 4v4m0 1v1m0 9v1m0 20v3m0 4v1m0 73v2m0 1v1m0 1v1m0 2v1m0 29v1m0 15v1m0 203v4m0 6v1m0 1v1m0 21v2m0 4v1m0 45v3"/>
<path stroke="#210406" d="M643 710v1m0 32v1m0 13v1m0 2v1m0 11v1m0 1v1m0 4v1m0 8v1m0 4v1m0 4v1m0 7v1m0 2v2m0 2v3m0 10v1m0 1v1m0 2v1m0 33v3m0 4v2m0 22v1m0 6v2m0 3v1m0 9v1m0 6v1m0 4v3m0 3v1m0 50v2m0 29v1m0 2v1m0 249v1m0 8v1m0 2v1m0 65v2m0 5v2"/>
<path stroke="#3e060a" d="M643 708v2m0 48v1m0 3v1m0 8v1m0 17v4m0 4v1m0 1v2m0 2v3m0 5v1m0 9v1m0 5v1m0 2v1m0 33v1m0 40v1m0 1v1m0 2v2m0 5v1m0 1v1m0 4v1m0 1v1m0 2v1m0 11v1m0 7v3m0 2v2m0 30v1m0 12v1m0 75v2m0 159v1m0 44v1m0 31v1m0 27v1m0 6v1"/>
<path stroke="#590a0f" d="M643 759v1m0 3v2m0 1v5m0 4v1m0 1v2m0 15v3m0 15v1m0 3v1m0 2v1m0 9v1m0 2v1m0 2v1m0 11v2m0 57v1m0 2v1m0 10v4m0 3v2m0 13v3m0 7v2m0 4v1m0 11v2m0 11v3m0 3v1m0 8v1m0 236v1m0 1v1m0 102v1m0 5v2m0 3v5"/>
<path stroke="#711017" d="M643 765v1m0 10v1m0 24v2m0 14v2m0 1v1m0 13v1m0 1v1m0 9v1m0 101v1m0 7v2m0 1v6m0 273v1m0 2v1m0 28v1m0 71v1m0 1v2"/>
<path stroke="#8a161e" d="M643 837v1m0 2v1m0 4v1m0 3v1m0 13v1m0 81v3m0 17v1m0 1v1m0 1v1m0 2v2m0 8v1m0 8v2m0 238v2m0 1v1m0 4v2m0 1v1m0 86v1m0 9v1m0 3v1"/>
<path stroke="#9c1a21" d="M643 833v1m0 4v1m0 2v4m0 5v2m0 114v1m0 1v1m0 5v2m0 4v1m0 9v1m0 6v1m0 79v1m0 152v1m0 2v1m0 9v1m0 11v2m0 69v2m0 2v1m0 5v3"/>
<path stroke="#ae1e23" d="M643 839v1m0 12v1m0 3v1m0 3v3m0 113v1m0 2v1m0 1v1m0 11v1m0 2v1m0 86v3m0 6v4m0 2v1m0 2v1m0 142v1m0 9v1m0 2v1m0 56v1m0 7v1m0 1v2m0 2v1m0 2v5"/>
<path stroke="#bd2224" d="M643 853v1m0 1v1m0 1v3m0 117v2m0 15v2m0 86v1m0 3v1m0 1v1m0 2v1m0 4v2m0 1v2m0 1v1m0 126v1m0 28v2m0 9v1m0 51v1m0 1v1"/>
<path stroke="#ca2524" d="M643 854v1m0 223v1m0 8v1m0 2v1m0 72v2m0 9v2m0 12v4m0 2v2m0 49v5m0 3v1m0 6v1m0 55v1"/>
<path stroke="#d32724" d="M643 1089v1m0 19v1m0 7v1m0 29v2m0 2v3m0 11v3m0 2v1m0 2v1m0 2v3m0 8v1m0 4v2m0 2v1m0 18v1m0 12v1m0 21v3m0 62v1m0 4v1"/>
<path stroke="#d92824" d="M643 1079v3m0 21v1m0 2v2m0 2v5m0 3v2m0 14v3m0 2v1m0 1v4m0 1v1m0 2v2m0 3v3m0 1v5m0 5v2m0 1v2m0 6v1m0 3v1m0 1v2m0 10v1m0 14v3m0 1v1m0 10v1m0 33v1m0 2v1m0 3v1m0 48v3"/>
<path stroke="#dc2924" d="M643 1104v2m0 2v1m0 6v2m0 3v14m0 3v2m0 1v1m0 4v1m0 11v1m0 22v3m0 1v1m0 13v14m0 5v10m0 35v2m0 1v3"/>
</g>
<g stroke-width="25">
<path stroke="#dc2924" d="M668.5 242v1119"/>
<path stroke="#5cb92e" d="M668.5 351v2m0 34v1m0 109v1m0 10v3m0 62v1m0 22v3m0 2v4"/>
<path stroke="#43b330" d="M668.5 250v2m0 9v1m0 19v1m0 1v2m0 1v2m0 3v1m0 32v2m0 1v3m0 3v6m0 7v5m0 2v1m0 2v3m0 3v1m0 10v1m0 5v1m0 1v6m0 1v4m0 1v2m0 28v1m0 6v1m0 60v1m0 1v4m0 1v4m0 3v3m0 3v2m0 11v2m0 8v2m0 7v4m0 1v6m0 6v2m0 2v3m0 5v1m0 1v2m0 16v4m0 3v2m0 4v3m0 1v1m0 2v7m0 1v5m0 3v1m0 6v2"/>
<path stroke="#32ad32" d="M668.5 248v2m0 2v1m0 6v2m0 1v5m0 2v3m0 4v5m0 1v1m0 2v1m0 2v1m0 1v1m0 1v5m0 10v3m0 4v3m0 4v3m0 2v1m0 3v3m0 6v7m0 8v2m0 3v3m0 1v3m0 3v4m0 5v1m0 1v1m0 11v1m0 2v1m0 5v4m0 5v2m0 4v5m0 1v1m0 1v6m0 1v2m0 6v2m0 3v9m0 2v1m0 1v1m0 1v2m0 2v2m0 7v4m0 13v2m0 1v1m0 9v3m0 8v5m0 2v4m0 2v3m0 2v3m0 2v2m0 3v2m0 4v1m0 6v1m0 3v2m0 2v2m0 3v5m0 4v1m0 1v1m0 5v3m0 1v2m0 1v1m0 16v1m0 1v2m0 7v1m0 5v3m0 1v2m0 2v2m0 2v3"/>
<path stroke="#24a734" d="M668.5 242v1m0 3v2m0 5v1m0 4v1m0 8v2m0 3v4m0 13v1m0 7v2m0 1v7m0 3v2m0 1v1m0 3v1m0 1v2m0 45v3m0 5v4m0 18v5m0 4v2m0 1v2m0 2v4m0 5v1m0 11v1m0 3v2m0 2v3m0 9v2m0 1v1m0 1v1m0 2v2m0 2v7m0 4v13m0 29v2m0 9v2m0 7v3m0 14v1m0 1v1m0 19v1m0 1v5m0 3v1m0 2v1m0 40v2m0 7v2"/>
<path stroke="#189a37" d="M668.5 243v3m0 8v4m0 41v1m0 12v1m0 5v1m0 88v1m0 26v3m0 119v1"/>
<path stroke="#074425" d="M668.5 690v1"/>
<path stroke="#08321b" d="M668.5 686v1m0 1v2m0 1v4m0 50v1m0 77v1m0 282v3m0 2v2"/>
<path stroke="#071c10" d="M668.5 669v3m0 6v1m0 6v1m0 1v1m0 7v2m0 59v2m0 64v1m0 1v2m0 279v1m0 3v2m0 2v1"/>
<path stroke="#030303" d="M668.5 668v1m0 3v1m0 4v1m0 1v1m0 4v1m0 40v1m0 18v1m0 1v1m0 5v1m0 2v1m0 2v1m0 62v1m0 4v1m0 277v1m0 9v1m0 1v3"/>
<path stroke="#210406" d="M668.5 673v1m0 2v1m0 3v1m0 16v2m0 1v1m0 21v1m0 1v1m0 14v2m0 6v1m0 11v3m0 58v1m0 7v1m0 273v2m0 11v1m0 88v2"/>
<path stroke="#3e060a" d="M668.5 674v1m0 6v3m0 15v1m0 1v1m0 19v1m0 1v1m0 4v1m0 12v3m0 4v4m0 1v2m0 72v1m0 1v1m0 4v2m0 5v1m0 3v7m0 10v1m0 279v1m0 7v1m0 22v1m0 3v1m0 1v1"/>
<path stroke="#590a0f" d="M668.5 667v1m0 7v1m0 28v2m0 10v2m0 1v2m0 5v2m0 1v1m0 7v2m0 23v1m0 53v2m0 1v1m0 10v1m0 5v1m0 5v1m0 9v3m0 1v1m0 244v1m0 17v1m0 8v2m0 11v1m0 18v2m0 10v1m0 5v1m0 1v1m0 12v2m0 8v1m0 2v1"/>
<path stroke="#711017" d="M668.5 702v2m0 2v1m0 3v5m0 3v1m0 11v1m0 1v5m0 60v1m0 20v1m0 12v3m0 3v4m0 3v1m0 10v1m0 5v1m0 102v1m0 158v3m0 1v1m0 4v2m0 6v1m0 2v1m0 4v2m0 9v1m0 2v2m0 10v1m0 1v1m0 6v2m0 3v3m0 1v1m0 9v1m0 8v2m0 3v2m0 1v2"/>
<path stroke="#8a161e" d="M668.5 707v1m0 7v1m0 15v1m0 64v1m0 1v1m0 16v1m0 27v1m0 13v1m0 2v1m0 84v1m0 17v1m0 7v1m0 128v1m0 19v3m0 3v1m0 12v1m0 7v1m0 19v1m0 2v1m0 4v1m0 5v2m0 4v1m0 3v1m0 3v1m0 3v3m0 5v2m0 6v1m0 2v1m0 2v3"/>
<path stroke="#9c1a21" d="M668.5 709v1m0 89v1m0 10v2m0 1v2m0 43v2m0 80v3m0 3v1m0 11v1m0 6v2m0 163v2m0 2v1m0 1v3m0 5v1m0 6v1m0 6v1m0 9v1m0 2v1m0 13v2m0 9v2m0 11v2m0 2v1m0 12v1"/>
<path stroke="#ae1e23" d="M668.5 708v1m0 84v3m0 12v2m0 2v1m0 50v1m0 17v2m0 2v1m0 3v1m0 16v2m0 23v2m0 6v1m0 3v1m0 3v1m0 11v2m0 6v2m0 1v1m0 128v1m0 35v1m0 9v2m0 9v1m0 7v3m0 2v1m0 28v1m0 15v1m0 9v2"/>
<path stroke="#bd2224" d="M668.5 666v1m0 96v1m0 23v4m0 9v1m0 1v2m0 2v2m0 71v2m0 2v2m0 1v1m0 1v1m0 16v1m0 2v1m0 29v1m0 5v1m0 3v3m0 6v1m0 3v2m0 189v1"/>
<path stroke="#ca2524" d="M668.5 764v1m0 26v2m0 8v1m0 2v2m0 62v2m0 17v1m0 8v1m0 4v1m0 26v1m0 1v1m0 2v3m0 33v1m0 2v1m0 125v1m0 54v1m0 1v1m0 1v1m0 69v1"/>
<path stroke="#d32724" d="M668.5 665v1m0 120v1m0 77v1m0 5v1m0 7v1m0 16v1m0 1v1m0 2v1m0 3v1m0 4v5m0 2v1m0 8v3m0 1v1m0 7v1m0 13v3m0 122v1m0 19v2m0 56v1"/>
<path stroke="#d92824" d="M668.5 765v1m0 12v2m0 5v1m0 79v3m0 6v2m0 1v1m0 12v3m0 1v1m0 3v2m0 2v1m0 14v1m0 4v2m0 12v1m0 17v3m0 117v2m0 1v1m0 3v7m0 2v3m0 2v1"/>
</g>
<g stroke-width="26">
<path stroke="#030303" d="M694 242v1119"/>
<path stroke="#5cb92e" d="M694 534v2"/>
<path stroke="#32ad32" d="M694 300v2m0 26v1m0 22v1m0 67v1m0 28v1m0 19v1m0 42v2m0 10v5m0 4v2m0 2v1m0 6v1m0 20v2m0 2v2m0 35v1m0 23v1"/>
<path stroke="#24a734" d="M694 277v2m0 1v2m0 20v1m0 22v3m0 1v1m0 1v2m0 12v2m0 1v3m0 1v1m0 20v1m0 27v1m0 1v1m0 6v1m0 4v4m0 1v1m0 20v1m0 2v2m0 1v1m0 7v1m0 11v1m0 3v2m0 24v1m0 2v2m0 2v1m0 3v3m0 4v8m0 5v1m0 2v1m0 5v2m0 1v1m0 1v1m0 1v2m0 3v2m0 1v3m0 6v3m0 2v2m0 2v3m0 31v1m0 25v3"/>
<path stroke="#189a37" d="M694 276v1m0 2v1m0 3v4m0 12v1m0 3v1m0 1v4m0 2v3m0 3v1m0 3v4m0 5v1m0 2v1m0 13v1m0 5v1m0 26v2m0 18v1m0 1v1m0 1v1m0 6v1m0 2v1m0 8v3m0 10v1m0 2v2m0 1v2m0 2v1m0 2v1m0 6v3m0 5v3m0 6v3m0 2v4m0 4v1m0 2v1m0 1v1m0 6v2m0 2v2m0 3v1m0 5v2m0 14v1m0 9v1m0 1v1m0 4v3m0 2v1m0 3v1m0 17v2m0 27v2m0 2v1m0 2v1m0 2v2m0 14v1m0 6v7"/>
<path stroke="#0c8a3b" d="M694 249v1m0 10v2m0 13v1m0 6v1m0 4v1m0 21v2m0 3v3m0 1v3m0 13v3m0 1v1m0 5v1m0 15v2m0 5v3m0 1v2m0 1v3m0 1v2m0 2v4m0 3v5m0 11v5m0 2v2m0 7v2m0 7v3m0 4v2m0 13v3m0 4v1m0 3v1m0 5v1m0 6v2m0 4v1m0 2v1m0 1v2m0 1v1m0 1v3m0 1v1m0 8v2m0 23v1m0 25v5m0 14v2m0 23v2m0 5v2m0 1v2m0 2v2m0 17v2m0 679v1"/>
<path stroke="#077739" d="M694 250v3m0 1v2m0 1v3m0 2v1m0 4v3m0 1v4m0 13v1m0 5v3m0 1v1m0 5v1m0 32v1m0 1v1m0 3v1m0 10v6m0 2v5m0 3v1m0 6v1m0 8v3m0 5v6m0 26v1m0 6v3m0 14v2m0 9v2m0 7v1m0 12v2m0 10v1m0 81v1m0 21v1m0 16v2m0 9v1m0 674v1m0 10v1"/>
<path stroke="#036435" d="M694 246v1m0 6v1m0 2v1m0 6v4m0 3v1m0 18v5m0 3v1m0 42v1m0 1v1m0 84v1m0 1v1m0 30v1m0 117v1m0 19v1m0 696v1m0 2v1m0 9v2m0 1v2m0 2v2m0 15v1"/>
<path stroke="#05542d" d="M694 247v2m0 92v1m0 86v1m0 150v1m0 17v1m0 20v1m0 251v2m0 74v1m0 36v1m0 3v1m0 199v2m0 105v1m0 1v2m0 1v3m0 8v1m0 20v1"/>
<path stroke="#074425" d="M694 242v1m0 2v1m0 350v1m0 64v1m0 83v3m0 121v1m0 23v3m0 8v3m0 5v3m0 3v1m0 23v1m0 1v2m0 1v3m0 20v2m0 12v1m0 1v1m0 1v1m0 9v2m0 160v1m0 18v2m0 2v1m0 2v1m0 72v1m0 23v4m0 4v3m0 9v1m0 3v1m0 9v6m0 6v2m0 2v1m0 5v3m0 14v1"/>
<path stroke="#08321b" d="M694 243v2m0 374v1m0 6v1m0 46v1m0 54v1m0 8v1m0 5v2m0 3v6m0 77v2m0 30v1m0 8v1m0 19v1m0 7v1m0 1v2m0 3v1m0 7v3m0 12v3m0 8v1m0 1v1m0 6v1m0 9v2m0 6v2m0 2v1m0 9v1m0 2v1m0 6v1m0 4v1m0 2v4m0 9v2m0 99v2m0 45v3m0 14v1m0 2v2m0 1v1m0 4v1m0 42v1m0 9v1m0 11v2m0 4v1m0 2v2m0 8v1m0 8v1m0 4v1m0 2v1m0 15v1m0 16v1m0 2v3m0 5v2m0 2v1m0 3v2m0 2v2m0 4v1"/>
<path stroke="#071c10" d="M694 580v1m0 14v1m0 24v1m0 1v4m0 34v1m0 1v3m0 7v1m0 1v1m0 14v1m0 20v3m0 14v1m0 1v1m0 4v2m0 6v1m0 11v1m0 62v1m0 10v1m0 1v1m0 9v2m0 22v1m0 3v1m0 4v3m0 3v2m0 3v2m0 3v3m0 7v1m0 1v1m0 9v1m0 7v1m0 6v4m0 3v1m0 4v3m0 17v2m0 2v1m0 4v1m0 13v1m0 7v1m0 1v1m0 1v4m0 7v1m0 1v7m0 2v2m0 95v2m0 2v3m0 40v1m0 7v2m0 16v1m0 4v1m0 40v1m0 2v2m0 3v1m0 1v1m0 1v1m0 6v1m0 1v2m0 4v1m0 2v1m0 9v2m0 1v3m0 27v2m0 18v2m0 10v1m0 7v2m0 2v2m0 3v1m0 1v1m0 1v1"/>
<path stroke="#210406" d="M694 582v2m0 2v3m0 5v1m0 55v1m0 5v1m0 1v2m0 8v1m0 2v1m0 4v2m0 1v1m0 6v1m0 1v1m0 1v2m0 1v1m0 1v5m0 4v1m0 15v2m0 1v2m0 16v1m0 14v1m0 56v1m0 1v1m0 4v1m0 14v5m0 4v4m0 3v1m0 1v5m0 29v1m0 22v1m0 12v1m0 10v2m0 30v1m0 7v1m0 4v1m0 38v1m0 15v1m0 35v1m0 37v3m0 9v1m0 4v1m0 2v1m0 3v2m0 1v1m0 34v4m0 53v1m0 1v1m0 7v2m0 8v1m0 9v1m0 8v1m0 2v1m0 7v2m0 79v2"/>
<path stroke="#3e060a" d="M694 584v2m0 3v4m0 49v1m0 6v1m0 5v1m0 25v3m0 3v1m0 4v1m0 8v1m0 1v1m0 1v1m0 3v1m0 4v1m0 3v2m0 2v1m0 8v1m0 7v2m0 19v4m0 45v4m0 1v1m0 19v1m0 8v1m0 8v1m0 23v2m0 31v1m0 65v2m0 42v1m0 15v1m0 17v1m0 7v2m0 3v1m0 2v1m0 1v1m0 33v3m0 15v1m0 2v2m0 1v3m0 4v1m0 1v1m0 18v2m0 5v2m0 57v1m0 1v1m0 2v1m0 38v1m0 92v1"/>
<path stroke="#590a0f" d="M694 680v1m0 25v2m0 7v3m0 39v3m0 4v1m0 41v1m0 1v1m0 168v1m0 55v1m0 2v2m0 25v3m0 1v1m0 4v1m0 48v2m0 1v1m0 12v1m0 1v1m0 16v1m0 35v1m0 29v1m0 1v1"/>
<path stroke="#711017" d="M694 702v1m0 5v1m0 56v2m0 3v1m0 10v1m0 3v1m0 8v1m0 2v1m0 9v1m0 170v1m0 41v2m0 10v1m0 5v1m0 18v4m0 7v1m0 35v1m0 88v1"/>
<path stroke="#8a161e" d="M694 767v1m0 1v1m0 1v1m0 5v1m0 4v1m0 1v1m0 1v5m0 4v2m0 1v1m0 1v6m0 218v2m0 28v3m0 16v1m0 120v1m0 10v1"/>
<path stroke="#9c1a21" d="M694 768v1m0 5v1m0 1v1m0 3v1m0 2v1m0 9v1m0 5v1m0 222v2m0 7v1m0 10v1m0 1v2m0 2v2m0 2v1m0 21v1m0 65v1m0 14v1m0 48v1m0 1v2m0 4v2m0 3v1"/>
<path stroke="#ae1e23" d="M694 772v2m0 1v1m0 2v2m0 11v2m0 233v1m0 12v3m0 1v1m0 2v2m0 2v1m0 90v2m0 52v3m0 10v2m0 6v1m0 4v1"/>
<path stroke="#bd2224" d="M694 1027v4m0 20v1m0 25v2m0 24v1m0 46v2m0 46v1m0 11v2m0 2v2m0 2v1"/>
<path stroke="#ca2524" d="M694 1075v2m0 2v1m0 2v3m0 58v1m0 3v3m0 2v1m0 1v1m0 48v1m0 15v2"/>
<path stroke="#d32724" d="M694 1081v1m0 3v1m0 58v1m0 8v1m0 45v1m0 2v1"/>
<path stroke="#d92824" d="M694 1080v1m0 5v1m0 4v4m0 51v1m0 53v2"/>
<path stroke="#dc2924" d="M694 1087v4m0 4v8m0 42v1"/>
</g>
<g stroke-width="25">
<path stroke="#24a734" d="M719.5 242v1119"/>
<path stroke="#43b330" d="M719.5 305v1m0 27v3m0 35v7m0 32v2m0 4v2m0 107v4m0 1v2m0 76v3"/>
<path stroke="#32ad32" d="M719.5 270v1m0 15v2m0 16v1m0 1v4m0 10v2m0 1v1m0 4v2m0 1v2m0 3v3m0 11v2m0 18v1m0 7v5m0 7v4m0 9v1m0 4v2m0 2v1m0 2v1m0 2v2m0 35v1m0 64v5m0 4v1m0 2v12m0 7v4m0 13v1m0 3v1m0 14v3m0 16v2m0 3v4m0 1v1m0 24v1"/>
<path stroke="#189a37" d="M719.5 267v1m0 5v3m0 5v1m0 2v1m0 4v2m0 2v2m0 3v1m0 19v1m0 7v1m0 15v2m0 15v1m0 2v3m0 3v1m0 17v3m0 7v6m0 19v1m0 1v4m0 1v1m0 3v2m0 1v2m0 7v8m0 6v2m0 1v1m0 2v1m0 9v3m0 3v2m0 2v3m0 1v4m0 1v2m0 1v3m0 7v1m0 2v2m0 1v3m0 46v3m0 2v1m0 9v5m0 37v1m0 7v1m0 6v1m0 6v1"/>
<path stroke="#0c8a3b" d="M719.5 250v1m0 14v2m0 15v2m0 76v2m0 33v1m0 26v1m0 11v1m0 2v7m0 13v1m0 2v1m0 4v9m0 13v1m0 4v1m0 2v1m0 15v1m0 47v2m0 73v1"/>
<path stroke="#077739" d="M719.5 251v1m0 6v1m0 5v1m0 919v1"/>
<path stroke="#036435" d="M719.5 249v1m0 2v2m0 5v1m0 1v3m0 915v1m0 3v1"/>
<path stroke="#05542d" d="M719.5 244v1m0 9v1m0 1v2m0 2v1m0 919v3m0 2v1m0 109v4m0 2v2"/>
<path stroke="#074425" d="M719.5 243v1m0 1v1m0 2v1m0 6v1m0 917v1m0 13v1m0 100v1m0 4v2m0 4v2m0 2v1"/>
<path stroke="#08321b" d="M719.5 247v1m0 497v2m0 262v2m0 10v1m0 148v1m0 1v1m0 1v1m0 3v1m0 7v1m0 1v3m0 86v2m0 1v2m0 4v2m0 1v1"/>
<path stroke="#071c10" d="M719.5 246v1m0 490v2m0 8v3m0 258v1m0 11v1m0 1v1m0 152v1m0 15v1m0 48v1m0 17v2m0 15v2m0 2v1m0 2v1m0 2v1m0 6v1m0 11v1m0 3v1m0 1v2"/>
<path stroke="#030303" d="M719.5 242v1m0 480v1m0 15v1m0 2v1m0 7v2m0 235v2m0 5v1m0 12v1m0 3v4m0 1v3m0 150v1m0 1v1m0 4v2m0 63v1m0 6v2m0 5v1m0 1v1m0 2v3m0 11v1m0 8v2m0 5v2m0 13v3m0 1v1"/>
<path stroke="#210406" d="M719.5 717v1m0 6v2m0 14v2m0 1v2m0 7v1m0 163v3m0 51v2m0 17v1m0 3v1m0 1v2m0 4v1m0 2v2m0 9v1m0 3v1m0 3v1m0 128v1m0 3v2m0 34v1m0 19v2m0 28v1m0 4v1m0 2v2m0 2v1m0 1v1m0 6v2m0 6v1m0 40v1m0 5v1"/>
<path stroke="#3e060a" d="M719.5 706v2m0 4v2m0 4v1m0 3v1m0 3v1m0 7v1m0 1v1m0 101v2m0 79v1m0 44v1m0 18v1m0 1v2m0 3v1m0 6v1m0 2v1m0 1v2m0 2v1m0 146v1m0 4v3m0 4v4m0 28v1m0 3v2m0 8v1m0 27v1m0 12v2m0 11v1m0 3v2m0 1v2m0 39v3m0 3v1m0 2v1m0 3v2"/>
<path stroke="#590a0f" d="M719.5 711v1m0 2v1m0 6v1m0 11v1m0 1v1m0 95v2m0 7v2m0 72v2m0 4v2m0 3v1m0 36v2m0 1v3m0 7v2m0 5v1m0 1v1m0 6v2m0 5v1m0 25v1m0 46v2m0 78v1m0 2v2m0 7v1m0 29v4m0 1v3m0 2v1m0 10v1m0 2v1m0 4v1m0 10v1m0 2v1m0 1v1m0 4v1m0 2v1m0 19v1m0 1v1m0 47v2m0 6v2m0 2v2"/>
<path stroke="#711017" d="M719.5 705v1m0 2v1m0 6v2m0 2v2m0 6v3m0 23v1m0 58v1m0 13v1m0 8v1m0 1v1m0 4v1m0 5v2m0 63v1m0 8v1m0 1v1m0 16v1m0 7v1m0 10v2m0 6v2m0 2v3m0 2v3m0 1v1m0 17v1m0 73v2m0 69v1m0 1v1m0 2v2m0 10v2m0 1v1m0 43v3m0 4v2m0 4v1m0 1v1m0 3v2m0 1v2m0 3v1m0 1v1m0 29v1m0 52v2m0 1v1"/>
<path stroke="#8a161e" d="M719.5 730v1m0 71v2m0 2v1m0 4v1m0 8v2m0 3v1m0 4v1m0 2v2m0 1v1m0 6v4m0 3v1m0 75v1m0 10v4m0 1v1m0 3v3m0 1v1m0 29v1m0 44v1m0 50v1m0 64v2m0 2v1m0 1v2m0 55v2m0 12v1m0 10v1m0 2v1m0 1v1m0 9v1m0 85v3"/>
<path stroke="#9c1a21" d="M719.5 710v1m0 20v2m0 56v3m0 1v6m0 9v3m0 11v1m0 28v3m0 56v1m0 12v1m0 5v3m0 13v1m0 13v1m0 66v2m0 4v1m0 42v1m0 41v3m0 16v1m0 2v2m0 2v1m0 62v2m0 11v2m0 3v1m0 1v1m0 18v1m0 87v1m0 2v2m0 9v3"/>
<path stroke="#ae1e23" d="M719.5 704v1m0 4v1m0 44v1m0 37v1m0 12v1m0 1v1m0 5v1m0 5v1m0 3v2m0 4v1m0 17v1m0 64v1m0 14v2m0 26v3m0 73v1m0 1v3m0 30v1m0 3v1m0 6v1m0 38v1m0 15v1m0 2v1m0 1v2m0 86v1m0 113v2m0 4v2m0 3v1"/>
<path stroke="#bd2224" d="M719.5 788v1m0 10v3m0 2v1m0 22v2m0 26v2m0 3v1m0 39v1m0 10v1m0 20v1m0 10v2m0 6v1m0 2v1m0 73v1m0 13v1m0 18v3m0 1v1m0 2v2m0 42v2m0 1v1m0 4v1m0 1v1m0 8v1m0 1v2m0 199v2m0 2v1m0 2v4m0 6v1"/>
<path stroke="#ca2524" d="M719.5 755v1m0 58v1m0 39v1m0 2v1m0 1v1m0 1v1m0 1v1m0 30v1m0 6v1m0 5v2m0 24v4m0 15v2m0 4v1m0 70v2m0 5v1m0 6v1m0 16v1m0 3v1m0 2v1m0 42v2m0 2v1m0 6v1m0 7v2m0 221v1"/>
<path stroke="#d32724" d="M719.5 703v1m0 57v2m0 23v2m0 27v2m0 1v1m0 39v1m0 3v1m0 1v1m0 1v3m0 6v1m0 2v2m0 4v4m0 7v1m0 3v1m0 6v1m0 2v1m0 127v2m0 2v1m0 2v1m0 1v2m0 9v3m0 18v1m0 16v4m0 3v3m0 4v1m0 13v1m0 4v1m0 224v1m0 2v1m0 1v1"/>
<path stroke="#d92824" d="M719.5 671v1m0 84v5m0 2v1m0 14v1m0 2v1m0 35v1m0 47v1m0 8v1m0 5v1m0 7v1m0 4v1m0 2v3m0 6v1m0 133v2m0 4v1m0 2v3m0 3v3m0 22v1m0 3v2m0 8v2m0 4v1m0 5v1m0 1v2m0 15v4m0 227v1m0 1v1m0 1v2"/>
<path stroke="#dc2924" d="M719.5 642v29m0 1v31m0 61v14m0 1v2m0 1v4m0 83v5m0 2v2m0 3v3m0 5v4m0 9v3m0 146v3m0 26v3m0 2v8m0 7v2m0 4v1m0 247v1"/>
</g>
</g>
<g shape-rendering="crispEdges" fill="none">
<rect x="301.8" y="1382" width="428.8" height="476" fill="#0a2a16"/>
<g stroke-width="24">
<path stroke="#08321b" d="M314 1382v476"/>
<path stroke="#077739" d="M314 1403v1"/>
<path stroke="#036435" d="M314 1404v1m0 52v1m0 13v2m0 26v1m0 2v1m0 2v1m0 102v1m0 37v1m0 46v1"/>
<path stroke="#05542d" d="M314 1410v1m0 45v1m0 1v2m0 2v1m0 5v3m0 2v4m0 7v1m0 1v2m0 1v2m0 10v1m0 1v2m0 37v1m0 10v3m0 6v1m0 13v2m0 29v1m0 2v1m0 33v2m0 1v3m0 5v3m0 23v3m0 8v1m0 1v1m0 3v3m0 31v1m0 4v2"/>
<path stroke="#074425" d="M314 1395v1m0 2v2m0 2v1m0 2v1m0 3v1m0 27v2m0 7v4m0 1v5m0 4v2m0 4v2m0 9v1m0 3v3m0 1v1m0 2v1m0 5v1m0 2v2m0 1v1m0 5v5m0 2v1m0 1v2m0 3v3m0 3v2m0 5v1m0 6v2m0 1v1m0 7v2m0 3v6m0 1v3m0 9v1m0 2v1m0 3v1m0 3v2m0 1v1m0 10v2m0 4v1m0 2v1m0 7v3m0 3v1m0 1v2m0 16v1m0 6v3m0 1v1m0 3v1m0 8v6m0 7v1m0 5v1m0 2v3m0 3v1m0 1v1m0 3v2m0 28v1m0 1v4m0 2v2"/>
<path stroke="#071c10" d="M314 1391v1m0 5v1m0 3v1m0 4v1m0 17v3m0 4v2m0 85v1m0 5v1m0 9v1m0 13v1m0 20v3m0 21v4m0 5v3m0 11v1m0 11v3m0 2v1m0 3v2m0 24v2m0 12v2m0 26v5m0 1v2m0 4v7m0 1v1m0 3v2m0 10v1m0 2v1m0 3v1m0 7v1m0 2v1m0 10v2m0 1v1m0 1v5m0 18v2m0 19v31m0 5v2"/>
<path stroke="#030303" d="M314 1390v1m0 3v1m0 12v2m0 2v1m0 5v1m0 9v4m0 13v1m0 102v1m0 167v2m0 9v1m0 18v3m0 1v2m0 3v2m0 4v3m0 5v2m0 80v5"/>
<path stroke="#210406" d="M314 1387v2m0 29v6m0 327v1m0 1v1m0 9v5"/>
<path stroke="#3e060a" d="M314 1392v1m0 19v1m0 1v2m0 336v1"/>
<path stroke="#590a0f" d="M314 1384v3m0 2v1m0 3v1m0 19v1m0 2v1"/>
<path stroke="#711017" d="M314 1382v1"/>
<path stroke="#8a161e" d="M314 1383v1"/>
</g>
<g stroke-width="25">
<path stroke="#08321b" d="M338.5 1382v476"/>
<path stroke="#0c8a3b" d="M338.5 1391v1"/>
<path stroke="#036435" d="M338.5 1382v1m0 1v3m0 5v1m0 111v1"/>
<path stroke="#05542d" d="M338.5 1383v1m0 3v1m0 2v1m0 20v4m0 8v3m0 5v1m0 12v3m0 45v1m0 9v2m0 1v1m0 2v2m0 10v1m0 37v2m0 33v2m0 19v1m0 30v2m0 19v2m0 3v1m0 69v2"/>
<path stroke="#074425" d="M338.5 1393v1m0 21v2m0 9v5m0 1v4m0 2v6m0 3v2m0 10v1m0 11v1m0 2v4m0 2v3m0 7v2m0 1v1m0 3v3m0 6v2m0 2v3m0 2v5m0 1v2m0 1v2m0 18v2m0 5v1m0 4v2m0 2v7m0 13v1m0 11v1m0 2v1m0 15v3m0 1v4m0 4v1m0 2v2m0 21v1m0 15v1m0 2v3m0 3v4m0 1v2m0 6v2m0 2v3m0 4v5m0 5v2m0 1v2m0 9v4m0 12v3m0 2v1m0 2v3m0 4v1"/>
<path stroke="#071c10" d="M338.5 1389v1m0 4v1m0 10v1m0 13v3m0 29v1m0 3v2m0 6v3m0 1v1m0 1v1m0 8v2m0 5v1m0 14v1m0 28v1m0 19v1m0 3v2m0 16v5m0 7v1m0 13v1m0 2v1m0 7v2m0 10v2m0 7v2m0 3v3m0 4v3m0 4v1m0 4v2m0 1v1m0 24v3m0 1v1m0 29v2m0 2v2m0 7v2m0 2v4m0 8v2m0 6v1m0 9v2m0 3v2m0 6v4m0 1v1m0 6v2m0 7v6m0 1v2m0 2v7m0 2v1m0 1v3m0 1v11m0 3v16m0 2v1"/>
<path stroke="#030303" d="M338.5 1398v5m0 1v1m0 1v2m0 44v3m0 13v1m0 78v1m0 20v1m0 15v4m0 2v1m0 7v2m0 37v1m0 1v2m0 161v1m0 2v2"/>
<path stroke="#210406" d="M338.5 1396v2m0 10v2m0 138v1m0 39v2m0 48v1"/>
<path stroke="#3e060a" d="M338.5 1395v1"/>
<path stroke="#590a0f" d="M338.5 1403v1"/>
</g>
<g stroke-width="25">
<path stroke="#08321b" d="M363.5 1382v476"/>
<path stroke="#0c8a3b" d="M363.5 1526v1m0 80v1"/>
<path stroke="#077739" d="M363.5 1507v1m0 17v1m0 1v1m0 73v1m0 4v1m0 1v1m0 61v1"/>
<path stroke="#036435" d="M363.5 1473v1m0 21v2m0 4v2m0 2v2m0 1v1m0 10v1m0 3v2m0 3v2m0 3v1m0 66v1m0 1v2m0 5v1m0 45v1m0 7v2m0 2v3m0 1v1m0 26v1m0 2v3"/>
<path stroke="#05542d" d="M363.5 1391v1m0 31v5m0 44v1m0 1v1m0 14v1m0 7v4m0 2v2m0 4v1m0 10v1m0 1v1m0 7v3m0 2v5m0 58v2m0 5v1m0 4v1m0 34v1m0 8v1m0 1v1m0 1v3m0 1v1m0 2v2m0 15v2m0 8v1m0 1v2m0 1v1m0 1v2m0 3v1m0 7v2m0 11v1m0 2v2m0 17v3"/>
<path stroke="#074425" d="M363.5 1384v1m0 5v1m0 3v1m0 16v1m0 7v1m0 8v2m0 39v3m0 3v1m0 5v2m0 1v2m0 2v1m0 1v1m0 3v1m0 15v1m0 5v3m0 2v1m0 12v1m0 5v1m0 3v3m0 3v7m0 22v3m0 8v2m0 5v1m0 6v1m0 8v4m0 6v2m0 19v1m0 1v1m0 5v2m0 7v1m0 10v1m0 6v3m0 2v3m0 4v1m0 1v1m0 2v1m0 8v1m0 1v2m0 2v1m0 2v1m0 6v4m0 1v2m0 2v2m0 1v1m0 3v2m0 1v2m0 3v2m0 5v2m0 1v4m0 1v2m0 8v4"/>
<path stroke="#071c10" d="M363.5 1382v2m0 1v1m0 6v2m0 1v1m0 20v1m0 13v2m0 4v1m0 1v1m0 2v2m0 1v1m0 2v3m0 2v7m0 1v2m0 14v1m0 16v1m0 19v1m0 28v1m0 4v2m0 13v2m0 3v11m0 15v2m0 33v2m0 2v1m0 4v2m0 8v4m0 23v2m0 14v1m0 43v2m0 28v2m0 2v1m0 6v5m0 11v2m0 4v2m0 10v24m0 1v8m0 1v3m0 2v9"/>
<path stroke="#030303" d="M363.5 1386v1m0 2v1m0 6v5m0 14v1m0 16v4m0 23v1m0 17v3m0 362v1m0 14v1"/>
<path stroke="#210406" d="M363.5 1387v2m0 12v1m0 7v2m0 2v2"/>
<path stroke="#3e060a" d="M363.5 1402v2"/>
<path stroke="#590a0f" d="M363.5 1408v1"/>
<path stroke="#711017" d="M363.5 1404v2"/>
<path stroke="#8a161e" d="M363.5 1406v2"/>
</g>
<g stroke-width="26">
<path stroke="#08321b" d="M389 1382v476"/>
<path stroke="#036435" d="M389 1437v1m0 11v1m0 52v1m0 5v1m0 46v1m0 51v3m0 48v1"/>
<path stroke="#05542d" d="M389 1384v2m0 17v1m0 18v2m0 4v4m0 6v2m0 3v1m0 1v4m0 1v1m0 33v3m0 14v1m0 1v2m0 2v1m0 1v1m0 2v1m0 4v1m0 1v1m0 6v1m0 29v2m0 5v2m0 21v3m0 12v3m0 2v1m0 3v1m0 13v2m0 2v5m0 11v3m0 8v3m0 1v4m0 15v2m0 13v3m0 2v2m0 4v2m0 5v2m0 7v1m0 2v1m0 13v2"/>
<path stroke="#074425" d="M389 1386v3m0 37v2m0 4v5m0 3v3m0 1v1m0 6v1m0 4v2m0 1v1m0 20v4m0 3v1m0 4v5m0 2v2m0 4v2m0 3v1m0 2v4m0 1v1m0 6v1m0 5v1m0 20v3m0 3v1m0 3v1m0 2v2m0 1v2m0 4v1m0 9v2m0 3v3m0 6v3m0 3v2m0 5v2m0 4v4m0 1v2m0 2v2m0 5v3m0 11v1m0 6v1m0 8v2m0 2v3m0 6v1m0 3v4m0 4v2m0 1v2m0 3v2m0 2v1m0 5v5m0 2v3m0 5v2m0 1v3m0 4v1m0 2v1m0 1v1m0 2v3m0 10v1m0 3v1m0 4v4"/>
<path stroke="#071c10" d="M389 1382v1m0 7v1m0 3v2m0 6v1m0 3v1m0 17v1m0 39v1m0 1v1m0 1v1m0 1v2m0 3v5m0 41v3m0 5v2m0 3v8m0 2v3m0 1v2m0 11v1m0 16v2m0 1v1m0 14v1m0 41v2m0 10v2m0 21v2m0 9v3m0 56v1m0 10v1m0 11v2m0 6v1m0 1v5m0 1v7m0 21v4m0 5v5m0 5v1m0 1v2m0 1v20"/>
<path stroke="#030303" d="M389 1391v3m0 4v4m0 8v2m0 2v3m0 48v1m0 67v1m0 8v2m0 3v1m0 12v1m0 15v2m0 166v4m0 33v1"/>
<path stroke="#210406" d="M389 1396v1m0 10v1m0 4v2"/>
<path stroke="#3e060a" d="M389 1397v1m0 10v2"/>
</g>
<g stroke-width="25">
<path stroke="#071c10" d="M414.5 1382v476"/>
<path stroke="#05542d" d="M414.5 1388v1m0 138v1m0 15v2m0 28v1m0 34v1m0 13v1m0 56v1m0 61v1m0 6v1"/>
<path stroke="#074425" d="M414.5 1469v1m0 22v3m0 13v1m0 17v1m0 8v1m0 4v3m0 2v1m0 12v3m0 11v1m0 1v1m0 1v1m0 4v1m0 12v1m0 2v3m0 6v2m0 1v3m0 9v1m0 1v1m0 22v1m0 3v3m0 6v2m0 14v2m0 1v1m0 1v3m0 29v1m0 7v2m0 5v4m0 9v1m0 1v3m0 2v1m0 1v1m0 23v2"/>
<path stroke="#08321b" d="M414.5 1389v1m0 19v1m0 1v1m0 11v2m0 12v4m0 3v3m0 10v3m0 2v7m0 1v1m0 10v1m0 2v3m0 8v2m0 2v1m0 6v2m0 1v2m0 1v1m0 12v1m0 2v1m0 2v4m0 1v4m0 6v1m0 10v1m0 3v1m0 8v2m0 3v1m0 1v1m0 1v2m0 1v1m0 8v3m0 1v2m0 3v6m0 6v5m0 3v1m0 24v1m0 1v3m0 3v3m0 1v2m0 2v6m0 3v1m0 6v1m0 5v1m0 2v1m0 24v1m0 1v6m0 3v1m0 8v2m0 5v2m0 5v2m0 7v5m0 3v1m0 6v4m0 8v1m0 29v4m0 21v8m0 4v2"/>
<path stroke="#030303" d="M414.5 1383v1m0 6v2m0 11v1m0 1v4m0 12v2m0 3v1m0 6v3m0 12v1m0 3v1m0 1v2m0 17v5m0 1v1m0 9v1m0 24v4m0 2v2m0 1v1m0 24v2m0 14v2m0 22v1m0 37v2m0 3v1m0 2v8m0 1v1m0 24v1m0 3v2m0 22v2m0 1v1m0 5v5m0 25v1m0 24v1m0 26v1"/>
<path stroke="#210406" d="M414.5 1384v3m0 5v3m0 2v1m0 17v1m0 1v4m0 30v1m0 26v1m0 153v2"/>
<path stroke="#3e060a" d="M414.5 1382v1m0 12v2m0 1v3m0 12v2m0 1v1"/>
<path stroke="#590a0f" d="M414.5 1401v2"/>
</g>
<g stroke-width="26">
<path stroke="#071c10" d="M440 1382v476"/>
<path stroke="#05542d" d="M440 1438v3m0 7v2m0 52v2m0 36v6m0 34v2m0 59v1m0 7v1m0 19v3"/>
<path stroke="#074425" d="M440 1424v1m0 1v5m0 10v4m0 2v1m0 2v2m0 1v1m0 17v2m0 1v3m0 9v2m0 4v1m0 1v2m0 8v1m0 1v2m0 3v3m0 12v2m0 3v2m0 5v2m0 42v3m0 11v1m0 33v2m0 2v2m0 1v4m0 1v1m0 1v1m0 2v2m0 1v6m0 11v2m0 3v1m0 5v1m0 3v1m0 6v1m0 3v6m0 12v2m0 19v3m0 6v1"/>
<path stroke="#08321b" d="M440 1388v1m0 34v1m0 1v1m0 5v1m0 5v1m0 7v2m0 5v1m0 1v2m0 13v2m0 2v1m0 3v1m0 2v6m0 2v1m0 2v1m0 1v1m0 2v1m0 4v1m0 3v1m0 2v1m0 1v1m0 3v2m0 3v1m0 1v1m0 2v2m0 4v1m0 2v1m0 1v3m0 13v1m0 3v4m0 13v3m0 2v1m0 1v1m0 5v3m0 1v1m0 1v3m0 1v1m0 36v2m0 2v1m0 6v1m0 1v2m0 9v2m0 1v2m0 2v2m0 1v1m0 6v5m0 1v3m0 1v1m0 3v2m0 1v1m0 1v1m0 6v2m0 4v3m0 2v1m0 2v6m0 1v1m0 10v1m0 3v4m0 5v2m0 1v3m0 11v1m0 12v19m0 1v6m0 2v4m0 1v1m0 17v4m0 10v3"/>
<path stroke="#030303" d="M440 1390v1m0 13v2m0 6v1m0 5v1m0 2v1m0 35v1m0 1v2m0 4v1m0 81v2m0 11v1m0 3v3m0 1v1m0 1v1m0 40v5m0 5v2m0 3v3m0 55v1m0 37v2m0 2v3m0 22v1m0 1v1m0 5v2m0 3v5"/>
<path stroke="#210406" d="M440 1387v1m0 8v1m0 6v1m0 2v1m0 6v1m0 1v3m0 43v4m0 102v1m0 1v1m0 34v1m0 1v5m0 5v5"/>
<path stroke="#3e060a" d="M440 1386v1m0 4v1m0 7v1m0 7v2m0 2v1m0 2v1m0 190v1"/>
<path stroke="#590a0f" d="M440 1383v3m0 11v2"/>
<path stroke="#711017" d="M440 1382v1m0 9v3m0 5v1m0 8v2"/>
<path stroke="#8a161e" d="M440 1395v1"/>
<path stroke="#9c1a21" d="M440 1401v2"/>
</g>
<g stroke-width="25">
<path stroke="#071c10" d="M465.5 1382v476"/>
<path stroke="#036435" d="M465.5 1382v1m0 1v1m0 173v4m0 84v2"/>
<path stroke="#05542d" d="M465.5 1383v1m0 1v1m0 38v1m0 100v2m0 30v1m0 4v1m0 82v1m0 2v1m0 11v1m0 34v1m0 2v2"/>
<path stroke="#074425" d="M465.5 1386v2m0 2v1m0 12v1m0 18v2m0 1v4m0 16v5m0 6v2m0 46v2m0 1v2m0 15v1m0 2v1m0 23v1m0 2v3m0 6v5m0 13v2m0 34v1m0 2v3m0 11v1m0 8v2m0 4v2m0 2v4m0 1v2m0 1v3m0 1v3m0 25v2m0 1v2m0 7v4m0 15v2m0 22v5m0 1v1m0 6v1"/>
<path stroke="#08321b" d="M465.5 1388v2m0 1v1m0 12v1m0 16v1m0 7v2m0 13v1m0 8v3m0 2v2m0 7v4m0 28v2m0 2v1m0 2v1m0 2v1m0 1v2m0 3v1m0 4v3m0 4v1m0 6v1m0 14v1m0 1v2m0 19v4m0 3v1m0 2v1m0 2v2m0 25v4m0 1v2m0 3v1m0 5v5m0 1v1m0 4v3m0 8v2m0 4v1m0 6v1m0 15v4m0 2v1m0 1v3m0 1v1m0 7v5m0 4v1m0 1v1m0 3v3m0 8v3m0 11v2m0 5v1m0 5v1m0 1v6m0 1v2m0 22v7m0 9v8"/>
<path stroke="#030303" d="M465.5 1399v1m0 2v1m0 3v1m0 28v2m0 15v1m0 8v1m0 11v7m0 2v4m0 1v2m0 2v1m0 1v1m0 2v1m0 16v2m0 19v1m0 2v1m0 1v1m0 7v2m0 41v3m0 4v3m0 1v4m0 3v4m0 57v1m0 2v2m0 2v1m0 42v1m0 1v2m0 10v1m0 32v1m0 1v6m0 48v2"/>
<path stroke="#210406" d="M465.5 1392v1m0 23v1m0 123v2m0 51v2m0 5v1m0 76v2m0 88v1"/>
<path stroke="#3e060a" d="M465.5 1394v1m0 1v1m0 3v1m0 6v1m0 4v1m0 2v1"/>
<path stroke="#590a0f" d="M465.5 1393v1m0 1v1m0 5v1m0 9v1"/>
<path stroke="#711017" d="M465.5 1409v1m0 4v1"/>
<path stroke="#8a161e" d="M465.5 1408v1m0 1v1m0 2v1"/>
</g>
<g stroke-width="25">
<path stroke="#08321b" d="M490.5 1382v476"/>
<path stroke="#0c8a3b" d="M490.5 1631v1"/>
<path stroke="#077739" d="M490.5 1424v1m0 93v2m0 59v1m0 1v3m0 2v1m0 43v1m0 5v2"/>
<path stroke="#036435" d="M490.5 1423v1m0 1v1m0 22v2m0 4v3m0 10v3m0 38v2m0 2v1m0 3v2m0 2v3m0 4v1m0 26v4m0 4v1m0 12v1m0 2v1m0 1v1m0 3v2m0 1v1m0 1v4m0 14v1m0 3v1m0 14v4m0 2v4m0 21v1m0 59v1"/>
<path stroke="#05542d" d="M490.5 1418v2m0 2v1m0 3v1m0 1v7m0 12v1m0 2v1m0 1v2m0 3v2m0 5v3m0 3v1m0 21v1m0 1v3m0 9v2m0 2v2m0 3v1m0 7v1m0 1v2m0 1v6m0 1v2m0 5v4m0 7v1m0 4v4m0 1v1m0 1v2m0 5v3m0 2v1m0 10v1m0 4v1m0 12v1m0 1v3m0 1v4m0 9v1m0 12v2m0 18v7m0 5v2m0 19v2m0 1v2m0 20v1m0 1v2m0 4v2m0 14v2m0 6v3"/>
<path stroke="#074425" d="M490.5 1417v1m0 2v2m0 5v1m0 7v2m0 2v1m0 3v2m0 1v1m0 4v1m0 7v5m0 8v1m0 18v1m0 1v1m0 3v1m0 5v1m0 1v1m0 7v2m0 9v1m0 9v1m0 2v2m0 2v1m0 8v3m0 11v1m0 2v2m0 1v2m0 4v1m0 24v1m0 14v1m0 5v1m0 1v1m0 15v2m0 2v5m0 2v2m0 3v1m0 9v4m0 2v2m0 1v2m0 2v2m0 5v1m0 3v1m0 2v1m0 4v2m0 2v2m0 2v1m0 1v8m0 4v4m0 2v1m0 10v2m0 8v1m0 3v1m0 5v1m0 3v3"/>
<path stroke="#071c10" d="M490.5 1384v1m0 52v1m0 3v1m0 3v1m0 25v1m0 3v2m0 3v3m0 17v2m0 45v1m0 47v6m0 3v1m0 12v2m0 35v1m0 42v1m0 2v1m0 27v6m0 11v1m0 7v1m0 5v1m0 6v1m0 1v1m0 3v1m0 3v3m0 6v7m0 1v2m0 11v1m0 1v2m0 10v12m0 2v4m0 3v1m0 2v14"/>
<path stroke="#030303" d="M490.5 1382v1m0 4v1m0 89v3m0 287v1"/>
<path stroke="#210406" d="M490.5 1383v1m0 1v1m0 2v1"/>
<path stroke="#3e060a" d="M490.5 1386v1m0 2v3m0 7v1m0 15v1"/>
<path stroke="#590a0f" d="M490.5 1392v1m0 3v1m0 3v1m0 2v2m0 4v1m0 6v1"/>
<path stroke="#711017" d="M490.5 1393v1m0 3v2m0 6v1m0 6v1m0 1v1"/>
<path stroke="#8a161e" d="M490.5 1394v2m0 12v1m0 2v1m0 1v1"/>
<path stroke="#9c1a21" d="M490.5 1401v1m0 8v1"/>
<path stroke="#ae1e23" d="M490.5 1402v1m0 3v2"/>
</g>
<g stroke-width="26">
<path stroke="#08321b" d="M516 1382v476"/>
<path stroke="#077739" d="M516 1506v2"/>
<path stroke="#036435" d="M516 1419v1m0 61v1m0 23v1m0 2v1m0 10v1m0 5v1m0 123v1m0 30v4m0 3v1"/>
<path stroke="#05542d" d="M516 1420v3m0 24v1m0 22v2m0 6v3m0 1v1m0 9v1m0 11v1m0 4v1m0 5v4m0 1v3m0 1v1m0 1v2m0 2v2m0 1v1m0 4v1m0 11v2m0 4v2m0 17v2m0 2v1m0 68v1m0 1v1m0 28v1m0 6v1m0 1v1m0 22v1m0 29v1"/>
<path stroke="#074425" d="M516 1418v1m0 27v1m0 1v2m0 15v5m0 2v1m0 2v1m0 7v7m0 3v1m0 9v1m0 6v5m0 8v1m0 4v2m0 2v1m0 2v3m0 1v1m0 4v2m0 9v1m0 2v1m0 15v1m0 2v2m0 1v3m0 24v1m0 15v1m0 2v3m0 1v1m0 3v3m0 2v1m0 7v1m0 3v4m0 6v4m0 13v1m0 5v2m0 3v3m0 1v1m0 4v2m0 10v1m0 1v1m0 25v1m0 1v1m0 1v3m0 5v1"/>
<path stroke="#071c10" d="M516 1391v1m0 13v2m0 18v3m0 2v2m0 4v2m0 1v1m0 14v6m0 1v1m0 11v1m0 20v1m0 3v1m0 41v1m0 6v2m0 5v1m0 5v1m0 24v2m0 1v1m0 1v3m0 4v3m0 3v3m0 6v4m0 1v1m0 38v1m0 8v5m0 1v1m0 1v1m0 2v2m0 17v2m0 7v1m0 1v2m0 8v2m0 5v2m0 1v1m0 3v7m0 21v3m0 2v2m0 6v2m0 1v10m0 11v3m0 2v2m0 3v12m0 2v14m0 12v13"/>
<path stroke="#030303" d="M516 1383v2m0 19v1m0 2v1m0 2v1m0 1v2m0 2v1m0 11v2m0 2v4m0 2v1m0 21v1m0 38v3m0 87v1m0 3v2m0 5v3m0 13v1m0 1v2m0 1v1m0 105v3m0 31v2m0 2v1m0 4v1"/>
<path stroke="#210406" d="M516 1390v1m0 12v1m0 4v2m0 1v1m0 2v1m0 205v1m0 145v1m0 1v2"/>
<path stroke="#3e060a" d="M516 1385v1m0 1v3m0 2v1m0 3v2m0 17v1m0 351v1"/>
<path stroke="#590a0f" d="M516 1382v1m0 3v1m0 7v2m0 2v2"/>
<path stroke="#711017" d="M516 1393v1m0 6v1m0 1v1"/>
<path stroke="#9c1a21" d="M516 1401v1"/>
</g>
<g stroke-width="25">
<path stroke="#071c10" d="M541.5 1382v476"/>
<path stroke="#036435" d="M541.5 1527v1m0 26v3m0 24v2m0 131v1m0 13v4"/>
<path stroke="#05542d" d="M541.5 1383v3m0 38v2m0 15v2m0 65v2m0 16v1m0 1v1m0 21v4m0 3v6m0 15v1m0 1v1m0 2v2m0 6v1m0 3v2m0 4v1m0 48v2m0 60v2m0 1v1m0 2v1m0 1v1m0 1v2m0 8v3m0 37v1"/>
<path stroke="#074425" d="M541.5 1382v1m0 43v4m0 4v7m0 5v1m0 52v1m0 1v4m0 5v4m0 4v5m0 2v1m0 23v1m0 17v1m0 8v2m0 1v1m0 5v6m0 1v3m0 2v1m0 2v1m0 1v3m0 1v3m0 40v1m0 2v1m0 2v13m0 11v1m0 26v4m0 1v1m0 4v2m0 1v1m0 1v1m0 2v4m0 7v1m0 2v1m0 4v2m0 3v1m0 10v4m0 8v1m0 1v2"/>
<path stroke="#08321b" d="M541.5 1389v1m0 20v2m0 10v2m0 6v1m0 2v1m0 9v3m0 1v2m0 8v1m0 4v3m0 4v2m0 1v1m0 2v2m0 23v1m0 4v1m0 1v1m0 6v1m0 2v1m0 11v2m0 5v2m0 6v2m0 2v1m0 14v4m0 1v1m0 4v3m0 22v2m0 5v1m0 8v1m0 6v2m0 8v1m0 13v2m0 1v1m0 4v2m0 13v4m0 6v1m0 3v2m0 1v1m0 2v1m0 5v2m0 8v1m0 5v1m0 25v2m0 1v4m0 4v1m0 1v1m0 4v5m0 4v1m0 6v1m0 4v7m0 7v1m0 1v2m0 5v1m0 5v2m0 22v1m0 4v5m0 3v7"/>
<path stroke="#030303" d="M541.5 1387v1m0 63v2m0 2v1m0 4v1m0 6v1m0 10v3m0 1v2m0 4v7m0 11v1m0 26v2m0 6v2m0 28v2m0 38v1m0 6v2m0 7v2m0 4v6m0 2v2m0 47v1m0 6v1m0 48v1m0 5v1m0 49v1m0 46v1"/>
<path stroke="#210406" d="M541.5 1391v1m0 16v1m0 3v1m0 1v2m0 69v3m0 7v3m0 72v1"/>
<path stroke="#3e060a" d="M541.5 1403v1m0 3v1m0 5v1m0 2v1"/>
<path stroke="#590a0f" d="M541.5 1392v1m0 1v1m0 9v1m0 1v1"/>
<path stroke="#711017" d="M541.5 1393v1m0 6v2m0 3v1"/>
<path stroke="#8a161e" d="M541.5 1399v1m0 2v1"/>
<path stroke="#9c1a21" d="M541.5 1395v2"/>
<path stroke="#bd2224" d="M541.5 1397v2"/>
</g>
<g stroke-width="26">
<path stroke="#08321b" d="M567 1382v476"/>
<path stroke="#0c8a3b" d="M567 1411v1"/>
<path stroke="#077739" d="M567 1445v2m0 79v2m0 118v4m0 8v3"/>
<path stroke="#036435" d="M567 1399v1m0 12v1m0 34v1m0 77v1m0 17v3m0 36v1m0 3v1m0 58v1m0 4v2m0 5v1m0 3v3m0 31v1m0 2v1m0 8v2"/>
<path stroke="#05542d" d="M567 1400v1m0 2v1m0 6v1m0 32v2m0 3v1m0 44v1m0 11v2m0 17v1m0 3v2m0 12v1m0 3v1m0 5v1m0 1v1m0 5v8m0 13v1m0 3v1m0 1v1m0 35v1m0 6v3m0 4v3m0 12v1m0 3v1m0 13v2m0 4v1m0 17v1m0 1v2m0 1v1m0 4v3m0 2v3m0 1v2m0 8v3m0 6v2m0 2v2"/>
<path stroke="#074425" d="M567 1398v1m0 5v1m0 12v3m0 4v1m0 17v1m0 6v1m0 16v1m0 3v5m0 9v2m0 2v2m0 2v1m0 1v4m0 3v1m0 2v1m0 2v3m0 6v3m0 3v2m0 6v1m0 7v1m0 1v2m0 8v2m0 1v1m0 1v5m0 8v2m0 3v1m0 2v3m0 4v2m0 4v1m0 24v1m0 6v2m0 1v1m0 2v1m0 5v1m0 1v2m0 3v1m0 3v1m0 10v1m0 8v6m0 2v4m0 1v7m0 2v1m0 6v1m0 6v1m0 1v2m0 8v1m0 2v8m0 3v3m0 2v1m0 3v1m0 2v1m0 3v2m0 18v3"/>
<path stroke="#071c10" d="M567 1391v2m0 12v1m0 2v2m0 5v2m0 4v3m0 6v3m0 1v1m0 16v1m0 1v5m0 3v1m0 2v1m0 13v1m0 2v3m0 7v1m0 22v1m0 18v1m0 2v1m0 11v1m0 22v1m0 8v1m0 12v2m0 5v1m0 3v2m0 3v1m0 6v1m0 12v1m0 13v1m0 40v2m0 1v5m0 42v1m0 4v1m0 5v7m0 4v4m0 5v1m0 3v2m0 3v26m0 2v9m0 12v1m0 5v1m0 7v2m0 7v9m0 2v1"/>
<path stroke="#030303" d="M567 1393v2m0 1v1m0 17v1m0 37v1m0 5v1m0 1v1m0 18v2m0 53v2m0 230v3m0 31v2m0 53v2"/>
<path stroke="#210406" d="M567 1389v2m0 4v1m0 1v1m0 8v1m0 52v1"/>
<path stroke="#3e060a" d="M567 1407v1"/>
<path stroke="#590a0f" d="M567 1388v1"/>
<path stroke="#8a161e" d="M567 1387v1"/>
<path stroke="#9c1a21" d="M567 1386v1"/>
<path stroke="#bd2224" d="M567 1385v1"/>
<path stroke="#d32724" d="M567 1384v1"/>
<path stroke="#dc2924" d="M567 1382v2"/>
</g>
<g stroke-width="25">
<path stroke="#dc2924" d="M592.5 1382v476"/>
<path stroke="#5cb92e" d="M592.5 1382v6m0 8v4m0 10v2"/>
<path stroke="#43b330" d="M592.5 1388v2m0 4v2m0 4v1m0 1v1m0 4v3m0 2v5"/>
<path stroke="#32ad32" d="M592.5 1390v4m0 7v1m0 1v4"/>
<path stroke="#08321b" d="M592.5 1772v3m0 5v1m0 15v1m0 21v2"/>
<path stroke="#071c10" d="M592.5 1771v1m0 3v2m0 2v1m0 1v3m0 3v3m0 4v2m0 1v9m0 2v1m0 1v8m0 2v3m0 1v6m0 1v1m0 2v3m0 1v2"/>
<path stroke="#030303" d="M592.5 1719v1m0 24v3m0 23v1m0 6v2m0 5v3m0 3v4m0 12v2m0 1v1m0 13v1m0 6v1m0 1v2m0 3v1m0 2v1m0 10v1"/>
<path stroke="#210406" d="M592.5 1726v1m0 8v2m0 1v2m0 3v1m0 97v3m0 2v5m0 1v1"/>
<path stroke="#3e060a" d="M592.5 1718v1m0 1v1m0 6v4m0 3v1m0 2v1m0 4v1m0 4v1m0 21v1m0 74v2m0 8v2m0 1v1"/>
<path stroke="#590a0f" d="M592.5 1725v1m0 5v1m0 8v2m0 7v2m0 102v1m0 2v1"/>
<path stroke="#711017" d="M592.5 1717v1m0 3v4m0 8v1m0 14v1m0 2v1m0 1v2m0 5v2m0 6v1"/>
<path stroke="#8a161e" d="M592.5 1716v1m0 15v1m0 19v1m0 6v1m0 4v1m0 2v1"/>
<path stroke="#9c1a21" d="M592.5 1682v1m0 72v4m0 3v2m0 1v1"/>
<path stroke="#ae1e23" d="M592.5 1642v3m0 6v1m0 1v1m0 8v1m0 20v2m0 81v1"/>
<path stroke="#bd2224" d="M592.5 1645v1m0 2v2m0 2v1m0 1v1m0 4v3m0 1v1m0 17v1"/>
<path stroke="#ca2524" d="M592.5 1641v1m0 4v2m0 2v1m0 4v1m0 2v1m0 5v1m0 13v1m0 16v2m0 14v1m0 3v1"/>
<path stroke="#d32724" d="M592.5 1656v1m0 10v2m0 10v2m0 4v1m0 4v2m0 8v2m0 8v1m0 1v2"/>
<path stroke="#d92824" d="M592.5 1558v1m0 81v1m0 16v1m0 11v1m0 7v1m0 11v1m0 2v1m0 1v1m0 2v3m0 2v1m0 5v2m0 4v1"/>
</g>
<g stroke-width="25">
<path stroke="#dc2924" d="M617.5 1382v476"/>
<path stroke="#5cb92e" d="M617.5 1402v1"/>
<path stroke="#43b330" d="M617.5 1403v1m0 5v2m0 4v1"/>
<path stroke="#32ad32" d="M617.5 1383v2m0 2v1m0 13v1m0 3v2m0 4v1m0 2v1m0 1v1"/>
<path stroke="#24a734" d="M617.5 1382v1m0 2v2m0 1v2m0 8v3m0 3v1m0 2v2m0 4v1"/>
<path stroke="#189a37" d="M617.5 1394v2m0 1v1m0 14v1"/>
<path stroke="#0c8a3b" d="M617.5 1390v4m0 2v1"/>
<path stroke="#036435" d="M617.5 1526v1"/>
<path stroke="#05542d" d="M617.5 1521v1m0 3v1m0 1v1m0 211v1"/>
<path stroke="#074425" d="M617.5 1430v8m0 64v2m0 1v1m0 12v1m0 1v1m0 3v1m0 3v1m0 1v1m0 48v1m0 158v1"/>
<path stroke="#08321b" d="M617.5 1423v1m0 5v1m0 8v1m0 2v5m0 54v2m0 2v1m0 1v1m0 3v6m0 1v1m0 1v1m0 2v2m0 5v1m0 1v1m0 1v2m0 20v1m0 1v1m0 2v2m0 16v1m0 1v1m0 23v2m0 106v3m0 6v1m0 2v1m0 3v1m0 4v1m0 3v1m0 2v3"/>
<path stroke="#071c10" d="M617.5 1421v2m0 1v1m0 2v2m0 10v2m0 5v1m0 1v2m0 57v1m0 8v1m0 15v1m0 2v1m0 10v3m0 4v2m0 1v1m0 1v2m0 2v7m0 6v1m0 1v1m0 28v2m0 1v1m0 7v1m0 3v1m0 1v1m0 87v1m0 3v3m0 1v2m0 1v2m0 1v3m0 1v1m0 4v1m0 1v1"/>
<path stroke="#030303" d="M617.5 1417v4m0 4v2m0 20v1m0 2v5m0 4v1m0 3v2m0 21v1m0 21v2m0 26v1m0 4v5m0 3v4m0 16v1m0 6v1m0 4v2m0 20v1m0 4v1m0 2v2m0 3v1m0 3v1m0 89v1m0 7v1m0 11v3m0 2v1m0 7v1"/>
<path stroke="#210406" d="M617.5 1455v4m0 3v1m0 24v3m0 9v1m0 37v4m0 29v1m0 3v1m0 35v1m0 2v3m0 2v1m0 3v1m0 1v5m0 80v1m0 34v1"/>
<path stroke="#3e060a" d="M617.5 1460v1m0 4v2m0 5v4m0 14v1m0 4v4m0 72v3m0 9v1m0 35v1m0 9v1m0 78v1"/>
<path stroke="#590a0f" d="M617.5 1461v1m0 5v5m0 4v10m0 5v4m0 107v1m0 142v1"/>
<path stroke="#711017" d="M617.5 1584v1m0 45v1"/>
<path stroke="#8a161e" d="M617.5 1585v4m0 12v1m0 105v1"/>
<path stroke="#9c1a21" d="M617.5 1589v4m0 3v1"/>
<path stroke="#ae1e23" d="M617.5 1593v3m0 1v4m0 30v1m0 74v1"/>
<path stroke="#bd2224" d="M617.5 1704v1m0 41v1"/>
<path stroke="#ca2524" d="M617.5 1702v2m0 1v1"/>
<path stroke="#d32724" d="M617.5 1659v1m0 36v1m0 4v1"/>
<path stroke="#d92824" d="M617.5 1632v1m0 7v3m0 28v1m0 2v4m0 16v2m0 1v1m0 2v1"/>
</g>
<g stroke-width="26">
<path stroke="#dc2924" d="M643 1382v476"/>
<path stroke="#5cb92e" d="M643 1382v6m0 3v1m0 2v2m0 2v1m0 5v2"/>
<path stroke="#43b330" d="M643 1388v3m0 1v2m0 2v2m0 1v5m0 2v2m0 1v4"/>
<path stroke="#32ad32" d="M643 1408v1m0 4v4"/>
<path stroke="#074425" d="M643 1779v1m0 29v2"/>
<path stroke="#08321b" d="M643 1771v4m0 1v3m0 1v4m0 1v2m0 8v3m0 3v1m0 6v1m0 2v5m0 1v1"/>
<path stroke="#071c10" d="M643 1770v1m0 4v1m0 8v1m0 2v1m0 2v1m0 3v1m0 3v3m0 1v4m0 1v1m0 8v1m0 1v2m0 1v4m0 8v1m0 4v2"/>
<path stroke="#030303" d="M643 1769v1m0 18v2m0 1v3m0 12v1m0 13v1m0 4v2m0 3v3m0 1v4m0 2v1"/>
<path stroke="#210406" d="M643 1827v3m0 25v3"/>
<path stroke="#3e060a" d="M643 1762v1m0 5v1m0 72v2m0 7v1m0 1v3"/>
<path stroke="#590a0f" d="M643 1759v2m0 88v1m0 1v1"/>
<path stroke="#711017" d="M643 1747v2m0 12v1m0 1v1m0 79v1m0 2v1"/>
<path stroke="#8a161e" d="M643 1746v1m0 7v2m0 2v1m0 85v2m0 1v2"/>
<path stroke="#9c1a21" d="M643 1749v3m0 15v1"/>
<path stroke="#ae1e23" d="M643 1642v4m0 106v1m0 3v2m0 6v1"/>
<path stroke="#bd2224" d="M643 1641v1m0 4v1m0 106v1m0 11v1"/>
<path stroke="#ca2524" d="M643 1640v1m0 6v3m0 6v1m0 2v2m0 1v1m0 4v2m0 76v1m0 20v1"/>
<path stroke="#d32724" d="M643 1650v1m0 1v2m0 4v1m0 2v1m0 1v1m0 2v1m0 2v1"/>
<path stroke="#d92824" d="M643 1639v1m0 11v1m0 3v1m0 1v1"/>
</g>
<g stroke-width="25">
<path stroke="#071c10" d="M668.5 1382v476"/>
<path stroke="#24a734" d="M668.5 1398v1m0 17v1"/>
<path stroke="#189a37" d="M668.5 1397v1m0 1v4m0 12v1"/>
<path stroke="#077739" d="M668.5 1396v1m0 6v1m0 9v2m0 42v1m0 1v1m0 44v1m0 1v3m0 52v1"/>
<path stroke="#036435" d="M668.5 1395v1m0 8v1m0 7v1m0 45v1m0 1v1m0 2v1m0 39v1m0 1v1m0 51v1m0 4v1m0 1v1"/>
<path stroke="#05542d" d="M668.5 1394v1m0 16v1m0 9v2m0 30v1m0 2v1m0 4v2m0 1v1m0 33v1m0 3v1m0 6v1m0 1v1m0 40v5m0 3v1m0 2v1m0 1v6m0 2v1m0 61v1m0 3v3m0 33v5m0 17v3m0 1v2m0 6v1m0 34v2m0 7v1m0 1v2m0 3v1m0 9v1"/>
<path stroke="#074425" d="M668.5 1405v1m0 14v1m0 2v2m0 11v1m0 1v2m0 8v3m0 1v1m0 1v2m0 41v1m0 1v3m0 8v1m0 1v7m0 31v2m0 6v1m0 12v2m0 1v1m0 1v3m0 4v4m0 5v1m0 2v3m0 15v4m0 10v1m0 2v2m0 2v1m0 1v1m0 1v1m0 3v1m0 1v4m0 14v2m0 10v1m0 5v5m0 4v6m0 5v1m0 2v1m0 1v2m0 1v1m0 4v1m0 5v4m0 17v4m0 2v1m0 7v1m0 2v3m0 1v1m0 7v1m0 1v1m0 1v2"/>
<path stroke="#08321b" d="M668.5 1410v1m0 6v1m0 1v1m0 5v1m0 5v3m0 3v1m0 2v2m0 5v1m0 3v1m0 13v3m0 17v1m0 7v2m0 1v1m0 22v3m0 26v2m0 9v1m0 27v2m0 2v1m0 1v2m0 3v3m0 11v1m0 4v5m0 1v1m0 4v1m0 3v2m0 3v1m0 10v1m0 4v3m0 5v1m0 2v1m0 2v4m0 2v1m0 11v1m0 1v2m0 6v2m0 7v1m0 2v1m0 2v3m0 1v2m0 7v2m0 1v5m0 3v2m0 2v2m0 7v3m0 2v1m0 9v1m0 1v3m0 1v1m0 3v1m0 4v3m0 2v7m0 4v7m0 4v5m0 6v1m0 1v2m0 15v1m0 3v5m0 4v1"/>
<path stroke="#030303" d="M668.5 1390v3m0 14v2m0 20v1m0 13v1m0 25v1m0 1v1m0 8v2m0 6v1m0 43v6m0 5v5m0 32v2m0 24v5m0 14v1m0 31v1m0 13v1"/>
<path stroke="#210406" d="M668.5 1489v2"/>
<path stroke="#3e060a" d="M668.5 1389v1"/>
<path stroke="#590a0f" d="M668.5 1388v1"/>
<path stroke="#ae1e23" d="M668.5 1387v1"/>
<path stroke="#d92824" d="M668.5 1386v1"/>
<path stroke="#dc2924" d="M668.5 1382v4"/>
</g>
<g stroke-width="26">
<path stroke="#08321b" d="M694 1382v476"/>
<path stroke="#077739" d="M694 1554v1"/>
<path stroke="#036435" d="M694 1518v1m0 34v1m0 1v3m0 4v1m0 2v1m0 98v1"/>
<path stroke="#05542d" d="M694 1424v1m0 19v3m0 9v5m0 2v3m0 6v2m0 43v1m0 1v2m0 37v1m0 1v2m0 1v2m0 1v1m0 2v1m0 9v2m0 15v2m0 3v1m0 39v2m0 9v5m0 5v2m0 1v1m0 18v3m0 10v2m0 1v2m0 32v2m0 38v1"/>
<path stroke="#074425" d="M694 1420v4m0 1v1m0 6v5m0 10v1m0 2v6m0 5v2m0 3v1m0 4v1m0 2v4m0 24v1m0 2v4m0 6v2m0 32v4m0 6v1m0 7v2m0 1v1m0 7v1m0 2v2m0 3v3m0 2v5m0 2v3m0 1v1m0 1v3m0 30v1m0 1v2m0 2v9m0 9v1m0 4v1m0 4v1m0 6v2m0 2v2m0 3v5m0 4v1m0 2v1m0 2v3m0 21v2m0 2v2m0 1v1m0 2v7m0 4v1m0 10v4m0 5v1"/>
<path stroke="#071c10" d="M694 1418v1m0 10v2m0 6v2m0 39v1m0 4v9m0 2v3m0 2v1m0 12v2m0 8v4m0 3v1m0 4v1m0 3v2m0 4v2m0 1v1m0 23v2m0 2v1m0 7v1m0 1v1m0 3v1m0 18v4m0 1v1m0 4v2m0 2v2m0 2v4m0 2v1m0 1v3m0 72v4m0 5v1m0 6v1m0 20v1m0 2v1m0 2v3m0 9v2m0 3v1m0 11v1m0 1v2m0 3v7m0 7v5m0 1v9m0 11v14m0 1v3m0 3v5"/>
<path stroke="#030303" d="M694 1479v4m0 14v2m0 1v1m0 29v4m0 1v3m0 4v2m0 40v1m0 29v2m0 17v1m0 85v1m0 30v2m0 55v1"/>
<path stroke="#210406" d="M694 1409v1m0 7v1"/>
<path stroke="#3e060a" d="M694 1410v1"/>
<path stroke="#711017" d="M694 1386v2"/>
<path stroke="#8a161e" d="M694 1384v2m0 2v1"/>
<path stroke="#9c1a21" d="M694 1383v1m0 5v1m0 18v1"/>
<path stroke="#ae1e23" d="M694 1382v1m0 7v1"/>
<path stroke="#bd2224" d="M694 1391v1m0 15v1m0 3v1"/>
<path stroke="#ca2524" d="M694 1392v1m0 2v1m0 1v1m0 8v1"/>
<path stroke="#d32724" d="M694 1393v2m0 1v1m0 1v1"/>
<path stroke="#d92824" d="M694 1404v2m0 6v1"/>
<path stroke="#dc2924" d="M694 1399v5m0 9v4"/>
</g>
<g stroke-width="24">
<path stroke="#071c10" d="M719 1382v476"/>
<path stroke="#0c8a3b" d="M719 1384v1m0 2v1"/>
<path stroke="#077739" d="M719 1383v1m0 1v2m0 188v1"/>
<path stroke="#036435" d="M719 1388v1m0 74v1m0 110v1m0 1v3m0 118v1"/>
<path stroke="#05542d" d="M719 1382v1m0 35v2m0 4v1m0 8v1m0 28v1m0 1v3m0 51v1m0 54v1m0 5v2m0 6v1m0 3v3m0 18v1m0 83v1m0 16v3m0 1v2"/>
<path stroke="#074425" d="M719 1417v1m0 2v1m0 2v1m0 1v2m0 5v1m0 1v1m0 1v1m0 1v2m0 9v1m0 9v3m0 5v3m0 6v1m0 17v1m0 22v1m0 1v8m0 1v2m0 3v5m0 2v2m0 9v2m0 7v1m0 10v2m0 8v2m0 2v2m0 1v3m0 3v4m0 11v1m0 3v1m0 13v2m0 15v2m0 12v1m0 3v1m0 8v1m0 2v2m0 19v1m0 2v1m0 17v1m0 2v1m0 3v4m0 42v7"/>
<path stroke="#08321b" d="M719 1421v1m0 5v3m0 1v1m0 3v1m0 1v1m0 2v1m0 4v1m0 2v1m0 1v1m0 2v1m0 4v1m0 11v4m0 1v1m0 1v2m0 9v2m0 3v1m0 1v2m0 5v6m0 6v3m0 10v1m0 2v3m0 5v2m0 2v1m0 3v5m0 2v1m0 1v5m0 1v1m0 6v1m0 15v1m0 13v2m0 1v2m0 1v1m0 5v2m0 2v4m0 2v2m0 1v4m0 13v1m0 2v1m0 2v4m0 1v7m0 1v1m0 1v1m0 1v2m0 5v1m0 1v2m0 2v1m0 17v1m0 8v10m0 9v1m0 4v5m0 1v2m0 24v3m0 5v2m0 7v8m0 8v2m0 7v1m0 11v1m0 4v1m0 38v1"/>
<path stroke="#030303" d="M719 1390v1m0 6v1m0 3v2m0 53v1m0 23v1m0 2v2m0 1v1m0 12v2m0 8v2m0 55v2m0 64v4m0 1v2m0 41v1m0 4v1m0 3v1m0 2v1m0 28v1m0 14v4m0 5v1m0 1v1m0 5v1m0 2v1m0 79v2m0 5v1m0 1v1"/>
<path stroke="#210406" d="M719 1392v1m0 5v1m0 5v1m0 231v1m0 49v3m0 51v1m0 5v1m0 1v1m0 1v3"/>
<path stroke="#3e060a" d="M719 1396v1m0 3v1m0 348v1"/>
<path stroke="#590a0f" d="M719 1395v1m0 3v1m0 5v1"/>
<path stroke="#711017" d="M719 1406v1m0 4v1"/>
<path stroke="#8a161e" d="M719 1393v1m0 13v1m0 7v2"/>
<path stroke="#9c1a21" d="M719 1394v1m0 13v3"/>
<path stroke="#ae1e23" d="M719 1412v1"/>
<path stroke="#d32724" d="M719 1413v2"/>
</g>
</g>
<g shape-rendering="crispEdges" fill="none">
<rect x="304.8" y="1877" width="425.2" height="270" fill="#0a2a16"/>
<g stroke-width="25">
<path stroke="#08321b" d="M317.5 1877v270"/>
<path stroke="#036435" d="M317.5 1924v1m0 47v2m0 115v1"/>
<path stroke="#05542d" d="M317.5 1877v1m0 34v1m0 4v1m0 3v3m0 1v3m0 4v2m0 21v2m0 13v2m0 101v2m0 9v1m0 3v1m0 1v1"/>
<path stroke="#074425" d="M317.5 1878v6m0 7v1m0 6v7m0 2v5m0 1v1m0 4v3m0 7v1m0 2v1m0 2v1m0 18v2m0 2v1m0 3v3m0 2v2m0 68v1m0 20v9m0 6v1m0 2v2m0 4v3m0 1v1m0 1v1m0 3v4m0 2v8m0 2v4m0 1v4"/>
<path stroke="#071c10" d="M317.5 1887v3m0 25v1m0 22v1m0 2v5m0 1v1m0 1v2m0 9v1m0 7v1m0 6v2m0 14v1m0 3v3m0 5v31m0 8v2m0 5v2m0 16v4m0 63v1m0 1v1"/>
<path stroke="#030303" d="M317.5 1946v1m0 97v5m0 83v2"/>
<path stroke="#210406" d="M317.5 2123v1m0 1v1m0 3v1m0 7v1"/>
<path stroke="#3e060a" d="M317.5 2124v1m0 1v1m0 1v1m0 2v1"/>
<path stroke="#590a0f" d="M317.5 2119v1m0 7v1m0 2v1m0 7v2"/>
<path stroke="#711017" d="M317.5 2120v1m0 1v1m0 17v1"/>
<path stroke="#9c1a21" d="M317.5 2121v1"/>
<path stroke="#ae1e23" d="M317.5 2141v1"/>
<path stroke="#bd2224" d="M317.5 2142v2"/>
<path stroke="#ca2524" d="M317.5 2144v2"/>
<path stroke="#d92824" d="M317.5 2146v1"/>
</g>
<g stroke-width="25">
<path stroke="#071c10" d="M342.5 1877v270"/>
<path stroke="#077739" d="M342.5 1952v1m0 181v1"/>
<path stroke="#036435" d="M342.5 1877v1m0 70v2m0 3v1m0 179v1m0 1v1"/>
<path stroke="#05542d" d="M342.5 1915v2m0 26v1m0 6v2m0 2v2m0 118v3"/>
<path stroke="#074425" d="M342.5 1878v1m0 14v3m0 18v1m0 2v1m0 7v2m0 15v1m0 1v4m0 8v2m0 2v4m0 7v2m0 93v1m0 6v1m0 4v7m0 3v1m0 1v1m0 6v1m0 5v2m0 31v1"/>
<path stroke="#08321b" d="M342.5 1879v2m0 4v1m0 1v3m0 1v2m0 3v1m0 1v2m0 2v3m0 7v2m0 4v1m0 4v2m0 2v1m0 9v3m0 18v2m0 4v1m0 1v1m0 2v2m0 2v1m0 31v9m0 7v8m0 23v1m0 3v10m0 1v1m0 1v4m0 4v1m0 9v1m0 1v1m0 1v6m0 1v5m0 9v7m0 13v1m0 4v1"/>
<path stroke="#030303" d="M342.5 1882v2m0 45v3m0 2v2m0 104v3m0 4v2m0 5v1m0 51v5m0 20v1"/>
<path stroke="#210406" d="M342.5 2044v1m0 1v1m0 79v2m0 11v1"/>
<path stroke="#3e060a" d="M342.5 2045v1m0 79v1m0 16v2"/>
<path stroke="#590a0f" d="M342.5 2122v3m0 3v1"/>
<path stroke="#711017" d="M342.5 2119v1m0 1v1m0 7v2m0 13v1"/>
<path stroke="#8a161e" d="M342.5 2120v1m0 19v2m0 3v1"/>
<path stroke="#9c1a21" d="M342.5 2146v1"/>
</g>
<g stroke-width="26">
<path stroke="#071c10" d="M368 1877v270"/>
<path stroke="#036435" d="M368 1893v2"/>
<path stroke="#05542d" d="M368 1888v5m0 64v1m0 2v5m0 109v1m0 9v1m0 12v2"/>
<path stroke="#074425" d="M368 1887v1m0 7v1m0 7v3m0 2v2m0 17v1m0 27v2m0 1v2m0 6v2m0 4v1m0 67v2m0 8v3m0 20v1m0 1v1m0 1v2m0 4v1m0 1v1m0 4v5m0 1v1m0 2v1m0 1v3m0 7v2m0 2v2m0 1v1"/>
<path stroke="#08321b" d="M368 1884v3m0 9v7m0 3v2m0 2v8m0 1v1m0 4v3m0 1v1m0 3v6m0 16v1m0 10v1m0 2v4m0 1v2m0 5v6m0 7v1m0 5v4m0 36v1m0 2v1m0 1v6m0 3v6m0 6v2m0 2v4m0 3v1m0 2v3m0 4v4m0 5v1m0 4v1m0 3v1m0 1v3m0 4v2m0 2v1"/>
<path stroke="#030303" d="M368 1877v2m0 3v1m0 61v2m0 6v1m0 67v1m0 88v1m0 32v1m0 1v1"/>
<path stroke="#210406" d="M368 2119v1m0 2v2m0 9v3m0 3v1m0 1v1"/>
<path stroke="#3e060a" d="M368 2120v2m0 2v1m0 1v3m0 2v2m0 3v1m0 3v1m0 4v1"/>
<path stroke="#590a0f" d="M368 2125v1m0 3v2m0 7v1m0 7v1"/>
<path stroke="#711017" d="M368 2137v1"/>
</g>
<g stroke-width="25">
<path stroke="#071c10" d="M393.5 1877v270"/>
<path stroke="#036435" d="M393.5 1958v4m0 9v2"/>
<path stroke="#05542d" d="M393.5 1927v3m0 4v1m0 21v2m0 4v2m0 3v1m0 1v2m0 109v2m0 36v1"/>
<path stroke="#074425" d="M393.5 1880v2m0 5v6m0 2v3m0 1v5m0 8v2m0 2v2m0 1v6m0 1v1m0 3v4m0 1v1m0 11v1m0 2v6m0 8v2m0 2v1m0 103v2m0 1v2m0 2v1m0 2v1m0 34v1"/>
<path stroke="#08321b" d="M393.5 1877v3m0 2v5m0 6v2m0 9v1m0 4v1m0 1v1m0 2v2m0 2v1m0 6v1m0 10v1m0 8v2m0 1v2m0 16v1m0 6v2m0 24v2m0 2v3m0 1v6m0 3v1m0 18v2m0 5v1m0 2v2m0 4v2m0 18v1m0 2v1m0 2v2m0 5v1m0 2v8m0 16v1m0 2v3m0 6v1m0 8v2m0 6v1"/>
<path stroke="#030303" d="M393.5 1905v2m0 31v1m0 98v1m0 17v1m0 41v8m0 2v2m0 13v1m0 13v3m0 2v1"/>
<path stroke="#210406" d="M393.5 2038v1m0 66v2m0 13v2m0 9v1m0 10v2"/>
<path stroke="#3e060a" d="M393.5 2126v1m0 3v1m0 13v1"/>
<path stroke="#590a0f" d="M393.5 2119v1m0 5v1m0 1v3"/>
<path stroke="#8a161e" d="M393.5 2145v2"/>
</g>
<g stroke-width="25">
<path stroke="#071c10" d="M418.5 1877v270"/>
<path stroke="#05542d" d="M418.5 1877v2m0 5v3m0 45v2m0 25v4m0 4v2m0 81v4m0 32v2m0 14v2"/>
<path stroke="#074425" d="M418.5 1879v4m0 4v1m0 14v3m0 25v2m0 2v3m0 14v2m0 2v4m0 4v1m0 2v1m0 2v5m0 62v1m0 12v1m0 4v1m0 1v2m0 16v2m0 1v1m0 6v2m0 2v1m0 5v2m0 3v3m0 2v4"/>
<path stroke="#08321b" d="M418.5 1883v1m0 4v1m0 1v3m0 8v1m0 3v1m0 2v4m0 4v1m0 8v5m0 7v4m0 2v3m0 4v1m0 2v2m0 9v1m0 9v2m0 3v1m0 38v1m0 13v4m0 1v1m0 2v9m0 6v1m0 2v1m0 2v6m0 5v2m0 2v1m0 1v2m0 3v1m0 5v1m0 6v3m0 9v1m0 17v2m0 5v1"/>
<path stroke="#030303" d="M418.5 1896v2m0 14v1m0 1v1m0 3v1m0 1v5m0 80v4m0 59v1m0 22v2m0 19v1m0 3v2m0 10v1m0 2v1m0 3v2m0 1v2m0 3v2"/>
<path stroke="#210406" d="M418.5 2130v1m0 6v1m0 7v1"/>
<path stroke="#3e060a" d="M418.5 2125v1m0 3v1m0 10v1m0 1v1"/>
<path stroke="#590a0f" d="M418.5 2124v1m0 16v1"/>
<path stroke="#711017" d="M418.5 2123v1"/>
<path stroke="#8a161e" d="M418.5 2122v1"/>
<path stroke="#ae1e23" d="M418.5 2119v1"/>
<path stroke="#bd2224" d="M418.5 2120v2"/>
</g>
<g stroke-width="26">
<path stroke="#08321b" d="M444 1877v270"/>
<path stroke="#077739" d="M444 2090v1"/>
<path stroke="#036435" d="M444 2089v1m0 1v1"/>
<path stroke="#05542d" d="M444 1927v1m0 31v5m0 2v2m0 4v1m0 69v2m0 31v2m0 3v2m0 6v1m0 3v2m0 51v1"/>
<path stroke="#074425" d="M444 1878v2m0 19v1m0 2v3m0 7v1m0 13v1m0 1v3m0 4v2m0 4v3m0 13v2m0 5v2m0 2v4m0 1v1m0 62v1m0 3v2m0 2v4m0 1v1m0 6v2m0 5v1m0 8v3m0 2v1m0 1v1m0 4v2m0 1v1m0 6v6m0 3v1m0 12v2m0 28v1"/>
<path stroke="#071c10" d="M444 1880v1m0 1v1m0 3v2m0 2v2m0 2v3m0 10v1m0 7v4m0 1v4m0 14v1m0 37v12m0 1v2m0 2v8m0 1v3m0 1v18m0 2v2m0 33v1m0 3v5m0 40v1m0 7v1m0 24v2"/>
<path stroke="#030303" d="M444 1881v1m0 10v2m0 239v1m0 5v1m0 2v1"/>
<path stroke="#210406" d="M444 2134v1m0 3v1m0 1v2"/>
<path stroke="#3e060a" d="M444 2124v1m0 10v3"/>
<path stroke="#590a0f" d="M444 2132v1"/>
<path stroke="#711017" d="M444 2123v1"/>
<path stroke="#8a161e" d="M444 2131v1"/>
<path stroke="#9c1a21" d="M444 2119v4"/>
<path stroke="#ae1e23" d="M444 2125v1m0 4v1"/>
<path stroke="#bd2224" d="M444 2126v1m0 2v1"/>
<path stroke="#ca2524" d="M444 2127v2"/>
</g>
<g stroke-width="25">
<path stroke="#08321b" d="M469.5 1877v270"/>
<path stroke="#077739" d="M469.5 2146v1"/>
<path stroke="#036435" d="M469.5 2132v1m0 12v1"/>
<path stroke="#05542d" d="M469.5 1894v2m0 6v5m0 20v1m0 6v7m0 21v2m0 2v1m0 105v3m0 4v3m0 10v1m0 25v1m0 14v3m0 6v3"/>
<path stroke="#074425" d="M469.5 1884v1m0 5v4m0 2v6m0 5v1m0 2v1m0 2v1m0 9v2m0 1v1m0 1v5m0 8v3m0 13v1m0 3v1m0 2v2m0 1v1m0 2v1m0 2v1m0 89v4m0 2v3m0 3v4m0 3v3m0 3v4m0 1v2m0 20v3"/>
<path stroke="#071c10" d="M469.5 1886v2m0 37v1m0 19v1m0 2v4m0 1v1m0 1v2m0 28v16m0 4v6m0 1v7m0 1v5m0 1v10m0 3v3m0 1v2m0 1v2m0 8v1m0 39v1m0 8v2m0 2v1m0 2v2m0 16v1m0 8v2"/>
<path stroke="#030303" d="M469.5 1879v1m0 38v1m0 27v1m0 72v1m0 17v1m0 7v1m0 64v2m0 9v2m0 14v1"/>
<path stroke="#210406" d="M469.5 1877v2m0 159v1m0 81v1m0 2v2m0 1v1m0 2v1"/>
<path stroke="#3e060a" d="M469.5 2127v2"/>
<path stroke="#590a0f" d="M469.5 2119v1m0 5v1"/>
</g>
<g stroke-width="25">
<path stroke="#071c10" d="M494.5 1877v270"/>
<path stroke="#036435" d="M494.5 1960v3m0 120v2"/>
<path stroke="#05542d" d="M494.5 1883v7m0 1v2m0 62v2m0 2v1m0 3v1m0 2v2m0 119v1m0 1v2m0 53v1"/>
<path stroke="#074425" d="M494.5 1877v2m0 2v2m0 7v1m0 8v1m0 3v3m0 3v2m0 2v4m0 2v1m0 7v6m0 21v1m0 2v2m0 5v2m0 2v5m0 79v5m0 12v1m0 5v2m0 1v5m0 2v2m0 1v1m0 2v1m0 23v4m0 24v1m0 2v1"/>
<path stroke="#08321b" d="M494.5 1880v1m0 15v3m0 1v3m0 3v1m0 1v1m0 2v2m0 4v2m0 1v2m0 11v2m0 4v2m0 3v6m0 1v2m0 20v9m0 30v6m0 12v1m0 2v4m0 5v1m0 8v1m0 5v5m0 4v3m0 3v3m0 2v1m0 15v2m0 4v4m0 6v3m0 1v2m0 19v2m0 3v1m0 2v1m0 2v1"/>
<path stroke="#030303" d="M494.5 1894v1m0 143v2m0 4v1m0 3v1m0 74v3m0 3v1m0 3v1"/>
<path stroke="#210406" d="M494.5 2119v4m0 3v1m0 1v1m0 1v1m0 1v1"/>
<path stroke="#3e060a" d="M494.5 2127v1m0 3v1"/>
</g>
<g stroke-width="25">
<path stroke="#08321b" d="M519.5 1877v270"/>
<path stroke="#036435" d="M519.5 1893v1m0 146v3m0 8v2"/>
<path stroke="#05542d" d="M519.5 1880v2m0 10v1m0 15v2m0 17v2m0 6v1m0 14v1m0 10v3m0 2v2m0 71v1m0 3v1m0 1v2m0 3v1m0 2v1m0 3v1m0 11v5m0 37v2"/>
<path stroke="#074425" d="M519.5 1877v1m0 1v1m0 2v1m0 2v3m0 3v1m0 2v1m0 6v5m0 1v1m0 2v1m0 1v6m0 6v1m0 1v1m0 7v1m0 1v3m0 8v3m0 1v1m0 4v3m0 1v1m0 3v1m0 3v1m0 4v1m0 64v1m0 5v1m0 2v1m0 1v1m0 4v1m0 1v1m0 1v2m0 2v1m0 1v5m0 5v3m0 1v2m0 4v2m0 2v2m0 16v2m0 2v1m0 2v1"/>
<path stroke="#071c10" d="M519.5 1895v1m0 2v2m0 20v2m0 8v1m0 10v5m0 7v1m0 21v18m0 2v2m0 17v4m0 1v10m0 1v7m0 46v1m0 7v4m0 3v6m0 13v1m0 5v1m0 9v2m0 4v1"/>
<path stroke="#030303" d="M519.5 1896v2m0 95v2m0 100v2m0 27v1m0 4v4m0 4v1m0 4v2"/>
<path stroke="#210406" d="M519.5 2097v1m0 24v1m0 3v3m0 6v1m0 4v2"/>
<path stroke="#3e060a" d="M519.5 2125v1m0 10v1m0 7v1"/>
<path stroke="#590a0f" d="M519.5 2119v3m0 23v1"/>
<path stroke="#8a161e" d="M519.5 2146v1"/>
</g>
<g stroke-width="26">
<path stroke="#071c10" d="M545 1877v270"/>
<path stroke="#036435" d="M545 2054v1"/>
<path stroke="#05542d" d="M545 1925v1m0 29v1m0 4v1m0 12v1m0 79v1m0 1v1m0 2v2m0 11v5m0 1v1m0 11v1m0 53v1m0 1v1"/>
<path stroke="#074425" d="M545 1923v2m0 1v2m0 8v5m0 13v1m0 1v4m0 1v1m0 4v2m0 3v2m0 70v1m0 5v4m0 3v2m0 2v3m0 7v1m0 5v1m0 1v4m0 2v5m0 1v1m0 1v2m0 3v4m0 3v2m0 32v2m0 4v1"/>
<path stroke="#08321b" d="M545 1893v2m0 3v4m0 7v1m0 5v8m0 5v2m0 2v1m0 2v1m0 5v2m0 9v2m0 8v2m0 4v3m0 3v1m0 25v6m0 22v5m0 1v1m0 5v3m0 1v2m0 2v1m0 14v2m0 4v1m0 12v2m0 7v1m0 2v3m0 4v3m0 2v1m0 26v1m0 6v1m0 1v1"/>
<path stroke="#030303" d="M545 1879v3m0 1v2m0 2v2m0 1v2m0 13v3m0 5v1m0 33v1m0 2v1m0 29v1m0 57v1m0 71v4m0 2v1m0 8v1m0 10v2m0 3v1"/>
<path stroke="#210406" d="M545 1877v2m0 3v1m0 243v2"/>
<path stroke="#3e060a" d="M545 2123v2m0 3v3"/>
<path stroke="#590a0f" d="M545 2122v1m0 8v1"/>
<path stroke="#8a161e" d="M545 2121v1"/>
<path stroke="#9c1a21" d="M545 2120v1"/>
<path stroke="#ae1e23" d="M545 2119v1"/>
</g>
<g stroke-width="25">
<path stroke="#08321b" d="M570.5 1877v270"/>
<path stroke="#05542d" d="M570.5 1946v2m0 2v5m0 4v1m0 6v1m0 89v1m0 16v5m0 9v4m0 7v3"/>
<path stroke="#074425" d="M570.5 1879v2m0 18v2m0 3v2m0 3v2m0 1v8m0 3v1m0 3v3m0 6v2m0 4v4m0 2v2m0 5v1m0 2v1m0 1v2m0 5v1m0 72v1m0 16v1m0 2v8m0 3v2m0 5v6m0 2v1m0 10v1m0 6v1m0 2v3"/>
<path stroke="#071c10" d="M570.5 1882v1m0 4v1m0 1v2m0 1v2m0 13v2m0 15v1m0 8v1m0 6v1m0 16v1m0 15v16m0 2v2m0 2v5m0 3v4m0 1v4m0 8v19m0 6v5m0 52v1m0 9v2m0 19v1"/>
<path stroke="#030303" d="M570.5 1883v4m0 38v1m0 63v2m0 2v2m0 12v1m0 126v1m0 11v1"/>
<path stroke="#210406" d="M570.5 2138v4"/>
<path stroke="#3e060a" d="M570.5 2129v1m0 2v1m0 2v3m0 4v4"/>
<path stroke="#590a0f" d="M570.5 2120v3m0 5v1m0 2v1"/>
<path stroke="#711017" d="M570.5 2119v1m0 3v1m0 3v1m0 2v1"/>
<path stroke="#9c1a21" d="M570.5 2126v1"/>
<path stroke="#ae1e23" d="M570.5 2124v1"/>
<path stroke="#ca2524" d="M570.5 2125v1"/>
</g>
<g stroke-width="25">
<path stroke="#071c10" d="M595.5 1877v270"/>
<path stroke="#32ad32" d="M595.5 2097v4"/>
<path stroke="#24a734" d="M595.5 2096v1"/>
<path stroke="#189a37" d="M595.5 1919v1m0 2v3m0 170v1m0 5v1"/>
<path stroke="#0c8a3b" d="M595.5 1916v3m0 1v2m0 3v1m0 168v1"/>
<path stroke="#077739" d="M595.5 1915v1m0 10v1m0 175v1"/>
<path stroke="#036435" d="M595.5 1927v1m0 20v1m0 144v1"/>
<path stroke="#05542d" d="M595.5 1896v1m0 17v1m0 13v1m0 4v2m0 3v1m0 3v2m0 3v1m0 1v1m0 16v3m0 123v1m0 10v1"/>
<path stroke="#074425" d="M595.5 1887v2m0 3v1m0 2v1m0 1v1m0 4v1m0 9v2m0 15v1m0 1v2m0 2v3m0 1v3m0 2v1m0 1v1m0 3v1m0 1v5m0 12v1m0 2v2m0 67v1m0 1v1m0 41v3m0 3v1"/>
<path stroke="#08321b" d="M595.5 1881v6m0 2v3m0 1v2m0 6v1m0 1v8m0 19v1m0 20v1m0 5v1m0 1v1m0 2v4m0 4v2m0 4v5m0 3v2m0 2v1m0 3v2m0 28v2m0 12v5m0 1v1m0 1v2m0 2v1m0 11v2m0 4v3m0 3v2m0 1v3m0 5v2m0 3v3m0 15v4m0 2v1"/>
<path stroke="#030303" d="M595.5 2029v1m0 21v5m0 8v1m0 15v1"/>
<path stroke="#210406" d="M595.5 1877v1m0 178v1"/>
<path stroke="#8a161e" d="M595.5 2145v2"/>
<path stroke="#9c1a21" d="M595.5 2125v2m0 13v3"/>
<path stroke="#ae1e23" d="M595.5 2124v1m0 2v1m0 11v1m0 3v2"/>
<path stroke="#bd2224" d="M595.5 2119v1m0 1v3m0 4v1m0 1v2m0 1v1m0 4v1"/>
<path stroke="#ca2524" d="M595.5 2120v1m0 8v1m0 2v1m0 1v4"/>
</g>
<g stroke-width="26">
<path stroke="#071c10" d="M621 1877v270"/>
<path stroke="#5cb92e" d="M621 2135v12"/>
<path stroke="#32ad32" d="M621 2120v2m0 9v1m0 2v1"/>
<path stroke="#24a734" d="M621 2119v1m0 2v5m0 5v1"/>
<path stroke="#189a37" d="M621 2127v4m0 2v1"/>
<path stroke="#036435" d="M621 2108v1"/>
<path stroke="#074425" d="M621 1979v3m0 84v1m0 40v1m0 1v1m0 8v1"/>
<path stroke="#08321b" d="M621 1976v3m0 3v2m0 4v1m0 8v4m0 2v7m0 7v2m0 48v1m0 2v1m0 4v1m0 34v2m0 2v2m0 1v1"/>
<path stroke="#030303" d="M621 1881v1m0 56v4m0 2v1m0 10v1m0 11v3m0 1v2m0 1v1m0 45v1m0 1v1m0 48v2m0 4v1m0 28v1m0 6v1"/>
<path stroke="#210406" d="M621 1880v1m0 3v1m0 9v4m0 28v1m0 6v5m0 18v1m0 2v1m0 10v1m0 2v1m0 47v1m0 1v1m0 10v1m0 1v1m0 2v3m0 1v1m0 3v2m0 15v1m0 13v1"/>
<path stroke="#3e060a" d="M621 1877v1m0 1v1m0 5v2m0 6v1m0 4v1m0 4v1m0 21v1m0 3v2m0 14v1m0 2v2m0 4v1m0 2v2m0 1v1m0 4v1m0 58v1m0 4v1m0 2v2m0 1v1m0 1v2m0 5v1m0 18v1m0 15v3"/>
<path stroke="#590a0f" d="M621 1878v1m0 11v3m0 9v1m0 1v1m0 22v2m0 2v2m0 13v2m0 2v2m0 9v4m0 60v1m0 4v2m0 10v1m0 2v2m0 15v1m0 28v3"/>
<path stroke="#711017" d="M621 1887v1m0 11v1m0 1v1m0 3v1m0 1v2m0 43v2m0 72v1m0 22v1m0 5v1m0 5v1m0 20v1m0 6v2m0 3v1"/>
<path stroke="#8a161e" d="M621 1888v2m0 10v1m0 5v1m0 2v1m0 14v1m0 102v2m0 29v3m0 25v3m0 6v1m0 9v1"/>
<path stroke="#9c1a21" d="M621 1910v1m0 5v2m0 136v1m0 1v2m0 25v1m0 1v1"/>
<path stroke="#ae1e23" d="M621 1911v5m0 2v1m0 4v1m0 126v1m0 2v1m0 42v1"/>
<path stroke="#bd2224" d="M621 1922v1m0 129v1m0 31v1"/>
<path stroke="#ca2524" d="M621 1919v1m0 131v1m0 52v1"/>
<path stroke="#d32724" d="M621 1921v1m0 175v1"/>
<path stroke="#d92824" d="M621 1920v1m0 179v4"/>
<path stroke="#dc2924" d="M621 2098v2"/>
</g>
<g stroke-width="25">
<path stroke="#08321b" d="M646.5 1877v270"/>
<path stroke="#43b330" d="M646.5 2098v3"/>
<path stroke="#32ad32" d="M646.5 2094v4m0 3v1"/>
<path stroke="#189a37" d="M646.5 2093v1"/>
<path stroke="#0c8a3b" d="M646.5 2092v1m0 9v1"/>
<path stroke="#077739" d="M646.5 2091v1m0 11v1"/>
<path stroke="#036435" d="M646.5 1926v1m0 163v1m0 13v1"/>
<path stroke="#05542d" d="M646.5 1883v4m0 38v1m0 1v1m0 43v1m0 115v2"/>
<path stroke="#074425" d="M646.5 1881v2m0 4v1m0 36v1m0 3v1m0 1v1m0 37v3m0 1v2m0 75v2m0 3v3m0 6v5m0 3v9m0 3v1m0 1v2m0 2v1m0 15v5"/>
<path stroke="#071c10" d="M646.5 1878v1m0 12v5m0 3v4m0 9v1m0 3v7m0 23v2m0 9v1m0 6v2m0 16v12m0 2v12m0 9v2m0 2v15m0 3v4m0 2v1m0 13v1m0 1v1m0 7v2m0 41v2"/>
<path stroke="#030303" d="M646.5 1903v6m0 1v2m0 1v3m0 78v2m0 40v3m0 21v1"/>
<path stroke="#210406" d="M646.5 1877v1m0 31v1"/>
<path stroke="#711017" d="M646.5 2121v2m0 11v1"/>
<path stroke="#8a161e" d="M646.5 2146v1"/>
<path stroke="#9c1a21" d="M646.5 2120v1m0 2v1m0 3v1m0 3v3m0 1v1m0 6v1"/>
<path stroke="#ae1e23" d="M646.5 2119v1m0 4v2m0 2v1m0 1v1m0 9v2m0 1v1"/>
<path stroke="#bd2224" d="M646.5 2126v1m0 2v1m0 6v4m0 4v2"/>
</g>
<g stroke-width="25">
<path stroke="#dc2924" d="M671.5 1877v270"/>
<path stroke="#5cb92e" d="M671.5 2119v12m0 2v14"/>
<path stroke="#43b330" d="M671.5 2131v2"/>
<path stroke="#05542d" d="M671.5 2081v1m0 35v2"/>
<path stroke="#074425" d="M671.5 2076v2m0 1v2m0 1v1m0 23v1m0 2v4m0 3v1"/>
<path stroke="#08321b" d="M671.5 2075v1m0 2v1m0 4v5m0 17v1m0 1v2m0 4v3"/>
<path stroke="#071c10" d="M671.5 2072v3"/>
<path stroke="#030303" d="M671.5 2070v2m0 16v1"/>
<path stroke="#210406" d="M671.5 2066v4"/>
<path stroke="#3e060a" d="M671.5 2059v2m0 2v1m0 1v1m0 38v1"/>
<path stroke="#590a0f" d="M671.5 2061v2m0 1v1m0 24v1"/>
<path stroke="#711017" d="M671.5 2058v1m0 44v1"/>
<path stroke="#8a161e" d="M671.5 2043v4m0 43v1"/>
<path stroke="#9c1a21" d="M671.5 2041v2m0 4v1m0 8v2m0 33v1m0 8v3"/>
<path stroke="#ae1e23" d="M671.5 2040v1m0 7v1m0 6v1m0 43v1"/>
<path stroke="#bd2224" d="M671.5 2039v1m0 9v1"/>
<path stroke="#ca2524" d="M671.5 2050v1m0 2v2m0 43v1"/>
<path stroke="#d32724" d="M671.5 2052v1m0 39v1m0 3v1"/>
<path stroke="#d92824" d="M671.5 2038v1m0 12v1m0 41v3m0 1v1"/>
</g>
<g stroke-width="26">
<path stroke="#08321b" d="M697 1877v270"/>
<path stroke="#5cb92e" d="M697 2121v1m0 18v7"/>
<path stroke="#43b330" d="M697 2120v1m0 1v1m0 15v2"/>
<path stroke="#32ad32" d="M697 2137v1"/>
<path stroke="#24a734" d="M697 2119v1m0 3v1m0 1v3m0 6v3"/>
<path stroke="#189a37" d="M697 2124v1m0 7v2"/>
<path stroke="#0c8a3b" d="M697 2128v4"/>
<path stroke="#074425" d="M697 1981v1m0 6v1m0 37v2"/>
<path stroke="#071c10" d="M697 1961v4m0 4v1m0 3v5m0 7v2m0 6v2m0 3v1m0 1v4m0 3v1m0 1v3m0 5v2m0 15v2m0 34v1m0 2v3m0 4v3m0 1v2m0 1v1"/>
<path stroke="#030303" d="M697 1902v1m0 9v2m0 51v1m0 70v2m0 30v2m0 9v1m0 3v1m0 4v5"/>
<path stroke="#210406" d="M697 1896v2m0 3v1m0 1v2m0 3v2m0 4v1m0 22v2m0 21v1m0 77v1m0 10v1m0 17v1m0 8v3m0 14v1m0 4v2"/>
<path stroke="#3e060a" d="M697 1895v1m0 2v1m0 6v1m0 1v1m0 2v2m0 27v1m0 8v3m0 88v1m0 13v3m0 7v4"/>
<path stroke="#590a0f" d="M697 1899v2m0 5v1m0 8v1m0 10v1m0 5v1m0 3v1m0 3v1m0 3v4m0 5v1m0 4v2m0 88v1m0 1v1m0 1v1m0 7v3m0 31v1m0 2v1m0 2v1"/>
<path stroke="#711017" d="M697 1916v2m0 6v2m0 1v1m0 5v1m0 7v1m0 1v1m0 7v1m0 2v4m0 82v1m0 4v3m0 3v1m0 4v2m0 1v1m0 35v2m0 4v1"/>
<path stroke="#8a161e" d="M697 1894v1m0 23v1m0 4v1m0 4v2m0 1v1m0 2v1m0 7v1m0 9v1m0 91v1m0 13v1m0 43v1"/>
<path stroke="#9c1a21" d="M697 1922v1m0 7v1m0 4v1m0 105v1m0 1v1"/>
<path stroke="#ae1e23" d="M697 1919v1m0 1v1m0 120v1m0 60v1"/>
<path stroke="#bd2224" d="M697 1893v1m0 26v1"/>
<path stroke="#ca2524" d="M697 1884v1m0 7v1"/>
<path stroke="#d32724" d="M697 1879v5m0 1v2m0 3v2m0 212v1"/>
<path stroke="#d92824" d="M697 1878v1m0 8v3"/>
<path stroke="#dc2924" d="M697 1877v1m0 227v14"/>
</g>
<g stroke-width="20">
<path stroke="#dc2924" d="M720 1877v270"/>
<path stroke="#5cb92e" d="M720 2120v2"/>
<path stroke="#43b330" d="M720 2119v1m0 2v1m0 15v4"/>
<path stroke="#32ad32" d="M720 2123v3m0 2v2m0 12v1"/>
<path stroke="#24a734" d="M720 2126v2m0 2v8"/>
<path stroke="#189a37" d="M720 2143v1m0 1v2"/>
<path stroke="#0c8a3b" d="M720 2144v1"/>
<path stroke="#08321b" d="M720 1976v1m0 2v2m0 8v1m0 5v2m0 23v1"/>
<path stroke="#071c10" d="M720 1972v1m0 2v1m0 1v2m0 2v1m0 5v2m0 1v4m0 3v1m0 21v1m0 1v1"/>
<path stroke="#030303" d="M720 1971v1m0 1v2m0 7v5m0 7v1m0 3v7m0 3v2m0 7v2m0 3v2m0 2v1"/>
<path stroke="#210406" d="M720 1970v1m0 34v1m0 1v1m0 2v1m0 13v2m0 1v1"/>
<path stroke="#3e060a" d="M720 1959v1m0 46v1m0 4v3m0 2v1m0 11v5m0 1v2"/>
<path stroke="#590a0f" d="M720 1890v2m0 68v1m0 2v2m0 4v1m0 44v2m0 17v1m0 2v1"/>
<path stroke="#711017" d="M720 1887v3m0 2v1m0 62v1m0 2v1m0 2v2m0 2v1m0 2v1"/>
<path stroke="#8a161e" d="M720 1882v3m0 1v1m0 6v1m0 46v1m0 13v1m0 1v2m0 8v2m0 69v1"/>
<path stroke="#9c1a21" d="M720 1877v2m0 2v1m0 3v1m0 55v1"/>
<path stroke="#ae1e23" d="M720 1880v1m0 13v1m0 43v2m0 2v1m0 5v2"/>
<path stroke="#bd2224" d="M720 1879v1m0 63v2m0 2v1m0 2v4m0 84v1"/>
<path stroke="#ca2524" d="M720 1895v1m0 49v1"/>
<path stroke="#d32724" d="M720 1896v1m0 49v1"/>
<path stroke="#d92824" d="M720 1897v1m0 39v1m0 101v1"/>
</g>
</g>
<path fill="none" stroke="#3b3b97" stroke-width="1.8" d="M90 475V997.5M150 338V612M155.5 249V427.5M189 245.7V253.9M200.4 243.5V248M244.4 242.6V244.4M260.6 243.8V244.9M228.2 246.7V249.3M243.4 246.1V247.3M254 248.5V250.2M263.9 249.6V250.8M206.2 252.6V255.2M249.1 252V253.2M260 254.3V256.1M270.2 255.5V256.7M170 368V534.4M180.4 310.7V425.3M194.6 294.4V327M200.2 283.5V305.3M207 277V289.9M211.8 266.8V287.3M219.3 259.3V274.2M246.5 258.5V260.2M265.4 257.9V259M226.2 268.4V280M233.1 265.1V271.7M238.6 263.6V266.7M243.4 262.3V264.9M245.6 261.4V263.2M264.4 262.6V263.7M252.6 266.1V267.3M241.8 269.9V273.4M249.1 269V270.8M253.8 268.4V269.6M246.8 272.6V274.3M253.2 272V273.1M232.5 277V283.1M242.7 276.1V277.9M245.5 275.5V276.7M234.6 281.5V284.6M248.3 280.5V282.6M251.8 279.6V281.4M266.5 279V280.2M240.5 283.7V285.5M245 284.9V286.1M257 289V290.8M262.2 288.4V289.6M223 295.3V315.4M244.6 293.3V297.2M253 292V294.6M255.6 293.7V295.5M267.6 293.1V294.3M262.2 296.7V297.8M231.2 310.7V320.2M235.6 305.3V316.1M241 301.8V308.8M243.4 300.5V303.1M244.6 299.6V301.4M246 299V300.2M265.1 302.5V303.7M242.6 307.1V310.5M244.8 305.8V308.4M247.6 304.9V306.6M250.7 306.1V307.2M246.9 309.6V311.3M262.2 310.8V311.9M241.7 314.6V317.5M243.3 313.7V315.5M248 313.1V314.3M253.3 316.6V318.4M259 317.8V319M212.6 321.9V332M255.6 321.3V322.5M219.1 324.7V339.3M244.3 323.7V325.7M246.1 324.9V326.6M252.4 326V327.2M225 332.4V346.3M239.6 330.2V334.6M244.8 329V331.3M262.1 328.4V329.6M246.4 330.7V331.9M260.1 333.7V335.4M264.6 333.1V334.3M229.8 341.8V350.9M235.9 338.8V344.7M239.4 337.2V340.4M256.8 336.6V337.8M243.1 339.6V341.3M248.2 339V340.1M241.1 343.1V346.3M268.1 342.5V343.7M244.6 345.4V347.2M248.6 344.8V346M245.4 349.3V352.5M247.6 348.4V350.1M251.3 349.6V350.7M266.8 351.9V353.1M185.7 391.3V459.2M195.7 377.4V405.2M202.2 361.2V393.5M211.5 354.3V368.1M216.8 358.7V377.6M227.6 355.4V361.9M232.9 358.8V365M243.4 357.5V360.1M246.4 356.6V358.4M250.2 357.8V359M236.9 362.8V367.2M247.8 361.9V363.7M252.9 361.3V362.5M239.2 364.8V369.6M243.4 368.5V370.7M249.5 367.5V369.5M255.1 366.6V368.4M257.4 366V367.2M230.6 373.6V381.5M244.7 372.5V374.8M247.2 371.9V373.1M260.2 374.2V375.4M233 378.3V384.6M253.8 377.2V379.5M256.3 376.6V377.8M270.2 378.9V380.1M237.6 382.6V386.6M240 381.3V383.9M242.5 383.1V384.8M245.6 382.5V383.6M262 386V387.2M235.6 391.9V395.1M240.9 390.8V393M243.2 389.8V391.9M245 388.9V390.7M266.2 388.3V389.5M245.9 394.2V396M249 395.4V396.6M237.6 400.8V409.7M243 399.2V402.3M244.8 398.3V400.1M250.9 397.7V398.9M245.8 401.3V403.3M250.6 402.4V404.2M252.7 403.6V404.8M245.8 407V412.4M252.9 406V408M262.1 407.1V408.9M264 408.3V409.5M250.7 411.3V413.6M252.7 410.7V411.8M258.5 413V414.2M208.7 434.4V484.1M217 420.8V447.9M241 418.4V423.2M245.3 416.7V420.1M249.7 415.4V418M252.5 417.1V418.9M265.5 416.5V417.7M244.1 421.8V424.5M266.7 421.3V422.4M249.8 423.6V425.4M251.6 424.8V426M223.5 439.4V456.5M228.2 431.3V447.4M234.2 427.7V434.8M261.8 427.1V428.3M240.6 431.4V438.2M244.5 430.1V432.7M268.3 429.5V430.7M248.7 431.8V433.6M261.3 433V434.2M253.7 436.4V440.1M256.7 435.4V437.4M261.8 436.5V438.3M270.6 437.7V438.9M232.7 445.1V449.8M236.4 443.1V447.1M242.6 441.8V444.5M247.7 441.2V442.4M243.8 443.6V445.3M245.2 444.8V445.9M247.8 448.9V450.6M270.5 448.3V449.5M242.7 454.3V458.7M255.2 453.3V455.3M260.3 452.4V454.2M264.4 451.8V453M244.5 457.1V460.3M253.9 456.5V457.7M253 459.5V461.2M255.2 458.9V460M214.7 476.3V492M219.9 470.1V482.4M222.1 463.3V477M258 462.4V464.2M271.5 463.6V464.7M225.4 472.8V481.2M231.4 467.4V478.3M235.7 465.9V468.9M239.6 467.1V470.7M245.2 468.9V472.5M269.2 468.3V469.4M249.8 471.2V473.9M256.2 470.6V471.8M265 473V474.7M270.8 474.1V475.3M242.3 477.1V479.4M252.3 476.5V477.7M246.4 478.8V480M237.9 486.5V497.4M241.7 484.1V488.8M252.2 483.5V484.7M245.6 486.8V490.9M261.3 485.9V487.7M268.6 487.1V488.3M254.6 490V491.8M272 489.4V490.6M240 495.2V499.7M243 493.5V496.8M245.9 493V494.1M255.2 495.9V497.7M267.9 495.3V496.5M246.3 498.8V500.6M260.3 500V501.2M190.2 512.3V556.6M230.9 508.5V516.2M238.4 504.6V512.3M240.8 502.9V506.2M270.2 502.4V503.5M245.2 504.7V507.6M248.5 506.5V508.8M271.2 505.9V507.1M253.8 508.2V509.4M246.7 511.2V513.5M259.8 510.6V511.8M263.4 512.9V514.1M251.1 515.3V517M253.6 516.5V517.6M195.1 546.1V567M207.3 534.3V558M219.7 525.5V543M229.7 523.4V527.6M233 521.6V525.3M241.1 520.3V522.9M243.6 519.4V521.2M247.5 518.8V520M270.4 522.3V523.5M260.4 524.7V525.9M263.9 527V528.2M225.5 537.9V548.2M233.1 535V540.7M240.7 532.5V537.6M244.7 530.3V534.7M254.8 529.4V531.2M267.3 530.6V531.7M250.1 533.5V535.9M266.3 532.9V534.1M255.7 535.3V536.4M244.7 539.4V542M247 538.8V540M256 541.1V542.9M260.1 542.3V543.5M237.1 546.4V550M242.4 545.3V547.6M271.4 544.7V545.8M244.6 547V548.2M266.4 549.4V550.5M231.6 554.3V561.7M236.5 551.7V556.9M244.5 554.7V559.1M252.3 553.5V555.8M266.6 552.9V554.1M261.8 555.2V556.4M251.9 558.2V560M254.4 557.6V558.8M252.4 561.1V562.3M246.4 565.2V568.8M251.1 564.1V566.4M255 563.5V564.7M267.2 565.8V567M265.6 568.2V569.4M160 591V631.8M172.6 576.7V605.3M193.8 571.4V582M252 570.5V572.3M258.4 571.7V572.9M205.6 575.1V588.8M232 574.1V576.1M240.8 575.2V577M254.5 576.4V577.6M213 585.4V592.3M225.8 583.5V587.3M232.7 582.4V584.6M244.1 581.3V583.5M246.4 580.2V582.3M250.4 579.3V581.1M255.1 578.8V579.9M239 585.8V588.7M242.5 587.6V589.9M257.2 587V588.2M248.4 589.3V590.5M268.9 591.7V592.9M216.4 600.7V609.9M230 597.3V604.1M234.2 595.1V599.6M237.9 594V596.1M240.8 595.2V597M247.5 596.4V597.6M246 598.7V600.5M262.6 599.9V601.1M241.3 602.3V605.9M247.2 604.3V607.6M251.5 603.4V605.2M268.7 604.6V605.8M250.1 607V608.1M265.3 609.3V610.5M175.3 626.1V637.5M198.5 622.4V629.8M207 620.2V624.6M217 617V623.4M223 613.9V620M246.1 612.6V615.2M251.2 611.7V613.4M265.4 612.8V614M235.6 617.8V622.2M246.9 616.4V619.3M249.9 618.1V620.5M263.5 617.5V618.7M255 619.9V621.1M213.1 627V632.5M225.8 625.8V628.3M236.8 627V629.6M247.5 628.7V630.5M249.4 628.1V629.3M253.1 631.7V633.4M254.8 632.8V634M231.1 635.8V639.3M256.2 635.2V636.4M239.5 638.1V640.5M258.5 637.5V638.7M259.6 639.9V641.1M127 775.5V1219.5M151 669.5V881.5M188 661.9V690M200 650.3V673.5M212.6 646.4V654.2M236.7 644.4V648.4M243.7 643.1V645.8M246.9 642.2V644M264.2 643.4V644.6M261.7 647.5V649.3M265.5 646.9V648.1M218.9 650.5V657.9M227.6 655.1V660.7M237.2 652.5V657.7M247.1 651.6V653.4M253.3 652.8V654M241 656.6V658.7M246.3 655.7V657.5M261.3 655.2V656.3M258.6 659.9V661.6M263.2 661V662.2M219.3 669.4V677.5M224 666.9V672M231.8 665.2V668.7M239.2 664V666.3M262.6 663.4V664.6M246.9 665.7V666.9M248.1 668.1V669.3M246.9 670.4V673.5M249.9 672.2V674.8M253.4 671.6V672.8M252.6 674V675.7M260.1 675.1V676.3M205 685.2V694.9M216.3 682.9V687.5M227.8 680.6V685.1M234.6 679.3V681.9M262.4 678.7V679.8M242.1 681V682.8M250.2 682.2V683.4M260 684.5V685.7M260.9 686.9V688.1M214.4 690.3V699.5M223.6 689.2V691.5M234.7 690.4V692.5M239.8 691.6V693.4M266.5 692.8V693.9M222.3 696.9V702M239.6 695.7V698.1M252.8 695.1V696.3M252.4 697.5V698.7M227.1 700.4V703.6M268.1 699.8V701M236.4 702.8V704.5M242.7 702.2V703.4M170 762.8V917.1M181.8 706.3V819.2M247.4 705.7V706.9M187.9 780.8V857.6M194.7 749.5V812.2M214.4 737.6V761.3M218.1 724.1V751.2M226.4 715V733.2M233.9 711.2V718.8M239.4 709.5V712.9M248.4 708.6V710.4M268.2 708.1V709.2M241 711.6V714.2M244.4 713.3V715.1M268.6 712.8V713.9M253.6 717.8V719.8M258.9 716.9V718.6M262.5 716.3V717.5M235.2 728.3V738M237.4 723.6V732.9M242.2 721.9V725.4M261.4 721V722.7M266.3 722.2V723.3M245.9 724.5V726.3M250 725.7V726.9M239.8 730.2V735.7M242.4 728.6V731.7M247.8 728V729.2M245.7 730.4V733M249.5 732.2V733.9M268.8 731.6V732.7M255.5 735.1V736.3M247.3 737.4V738.6M228.3 747.2V755.1M233.5 743V751.5M238 741.3V744.8M254.4 740.4V742.1M267.4 739.8V741M244 743.9V745.7M249.6 743.3V744.5M236.6 749V753.9M238.7 746.8V751.3M244.3 749.8V752.7M246.5 748.6V751M268.9 748V749.2M252.1 750.4V751.5M231.7 758.1V764.5M236.4 756.2V759.9M239.9 758.3V761.5M243.3 757.4V759.2M246.3 758.6V759.8M251.7 760.9V762.1M244.1 763.3V765.8M246.5 764.5V767.1M254.9 766.2V768M257.9 765.6V766.8M198 787.3V837.1M218.9 777V797.5M224.2 769.8V784.2M262.8 769.2V770.4M228.7 777.3V791.1M234.6 774.2V780.3M239.8 772.4V775.9M245.7 771.5V773.3M260.4 772.7V773.9M254 775.1V776.8M255.5 776.2V777.4M242.8 779.2V781.5M246.1 778.6V779.8M270.2 780.9V782.1M238.8 788.1V794.2M240.7 785.3V790.9M243.1 783.9V786.7M263.4 783.3V784.5M246.3 785.6V787.7M252.4 786.8V788.6M269.6 788V789.2M261 790.3V791.5M244.5 793.3V795M246.3 792.7V793.9M244.8 796.2V798.9M247.7 798V799.7M253.2 797.4V798.6M204.7 821.8V852.5M210.7 804.9V838.7M235.9 802.4V807.4M242 801.5V803.3M246.4 800.9V802.1M240.2 805.9V808.8M245.6 805V806.8M257.5 804.4V805.6M241.8 808V809.7M245.7 809.1V810.3M215.2 828.3V849.1M221.5 819V837.6M225.7 812.1V825.8M267.3 811.5V812.7M230.3 821.4V830.3M232.6 817.5V825.2M237.4 815.3V819.7M239.1 813.8V816.8M243.2 815.6V818M244.8 815V816.2M257.1 817.4V818.5M237 822.8V827.7M240.2 821.5V824.1M247 820.9V822.1M243.9 823.2V825M245.6 824.4V825.6M249.6 826.8V828.5M267 827.9V829.1M231 833.7V841.5M244.3 832.4V835M250.4 831.5V833.2M254.2 832.6V833.8M236.6 838.7V844.3M243.8 837.6V839.7M260.8 836.8V838.5M262.8 836.2V837.4M241.9 842.2V846.5M246 840.9V843.5M249.5 842.6V844.4M254.6 842.1V843.2M257.2 845.6V847.3M262.1 846.8V847.9M247.6 850.9V854.1M252.7 850.3V851.5M250.6 853.2V855M257.8 852.6V853.8M249.8 856.7V858.5M261.7 856.2V857.3M184.7 892.5V941.7M195.4 876.3V908.7M209.8 864.2V888.5M229.9 860.3V868.1M252.8 859.7V860.9M238.9 864.8V871.4M249.1 863.5V866.1M259.9 862.6V864.4M266.5 862V863.2M252.6 865.6V866.7M245.4 869.2V873.5M253.7 867.9V870.6M256.3 869.7V871.4M262.2 869.1V870.3M256.3 872.6V874.4M259.7 873.8V875M222.5 882.9V894.1M225.4 878.6V887.2M243.8 877.6V879.7M250.1 876.7V878.5M264.6 876.1V877.3M229.8 884.5V890M236.2 882.6V886.4M244.9 881.4V883.8M251.8 880.8V882M257.1 883.2V884.4M259.5 885.5V887.3M263.9 886.7V887.9M249.7 889.1V890.8M269.4 890.2V891.4M250.3 893.2V894.9M256.8 892.6V893.8M227 904.2V913.2M232.2 899.9V908.5M234.9 897.1V902.7M240.4 896.1V898.2M242.7 897.3V899.1M268.3 898.5V899.6M238.7 901.4V904.1M257.1 900.8V902M244.1 903.2V904.9M254 904.3V905.5M242.5 907.3V909.6M252.4 906.7V907.9M247.9 909.1V910.2M243.9 912V914.3M256.2 911.4V912.6M247 913.8V914.9M197.5 931V952.4M210.5 921V941M223.1 916.7V925.4M247.4 916.1V917.3M227.7 921.1V929.6M231.7 918.5V923.8M240.8 921.8V925.8M244.3 920.5V923.2M260.2 919.6V921.4M267.2 920.8V922M255.2 924.9V926.7M259.8 924.3V925.5M250.1 928.4V930.8M264.1 927.9V929M253.5 930.2V931.4M235 937.6V944.5M237.6 935.8V939.3M244 934.3V937.3M262.1 933.1V935.5M269.7 932.6V933.7M266.7 934.9V936.1M245.5 938.4V940.2M263.8 939.6V940.8M241.7 943.4V945.5M246.3 942.6V944.3M250.5 942V943.1M225.3 950.1V954.7M230.6 948.9V951.4M236.7 947.5V950.2M242.4 946.7V948.4M261 947.8V949M239.8 953.1V956.4M245.9 952.5V953.7M255.6 955.5V957.2M262.8 954.9V956.1M137.7 1144V1293.8M165 1049V1144M178.6 1020.2V1077.8M191 996.1V1044.4M195.6 979.9V1012.3M210.6 967.1V992.8M231 961.7V972.5M238.3 959.3V964.1M252 958.4V960.2M258.7 959.6V960.8M242.3 962.5V965.6M271.1 961.9V963.1M245.5 964.3V966.9M250.6 966.1V967.8M271.6 965.5V966.6M237.6 970.3V974.6M245.3 969V971.6M257.2 970.8V972.5M261.6 970.2V971.3M244.7 973.7V975.5M258 974.9V976M219.2 986.3V999.3M225.3 980.8V991.8M238.1 979V982.5M246.4 977.8V980.2M258 977.2V978.4M249.7 979.6V980.8M245.8 981.9V983.1M231.6 988.2V995.4M236.8 986.5V990M244.5 985.2V987.8M249.6 984.3V986M271.5 985.5V986.6M243.1 989V991M247.5 990.2V991.9M270.8 991.3V992.5M243.2 994.3V996.6M247.9 993.7V994.9M263.7 996V997.2M252.6 998.4V1000.1M261.4 999.6V1000.7M207.7 1002.8V1021.7M249.5 1001.9V1003.7M251.8 1003.1V1004.3M218.5 1017.1V1026.4M227.5 1012.1V1022M233.6 1007.5V1016.7M243 1006V1008.9M249.5 1005.4V1006.6M246.1 1007.8V1010M250 1009V1011M252.1 1010.1V1011.9M255.6 1011.3V1012.5M239.9 1015V1018.4M242.1 1013.7V1016.3M244.4 1015.4V1017.2M255 1014.8V1016M247.2 1021V1023.1M252.4 1020.1V1021.9M267.4 1019.5V1020.7M232.6 1024.2V1028.6M236.7 1026.3V1030.9M257.6 1025.4V1027.2M271.1 1026.6V1027.8M242.2 1029.5V1032.3M251.5 1028.9V1030.1M244.7 1031.3V1033.4M248.7 1032.5V1034.2M250.9 1033.6V1034.8M217.9 1036V1052.8M221 1044.8V1060.7M225.1 1040.9V1048.7M241.4 1039.4V1042.5M245.7 1038.1V1040.7M250 1037.2V1038.9M251.7 1038.3V1039.5M251.1 1041.9V1043M227.3 1046.1V1051.4M235.1 1044.2V1047.9M239 1046.9V1048.9M240.5 1046V1047.8M245.2 1045.4V1046.6M247.7 1050.1V1052.7M250.8 1051.9V1053.6M257.8 1051.3V1052.5M243.2 1059V1062.4M246.3 1057.3V1060.7M255.9 1055.7V1058.9M261.7 1054.8V1056.6M267.1 1056V1057.2M266.1 1058.3V1059.5M256 1061.9V1063M197.6 1064.8V1090.8M245.9 1064.2V1065.4M209.8 1082.5V1099.2M216.6 1073.2V1091.9M227.4 1070.5V1075.8M234 1068V1073M236.7 1066.6V1069.5M241.7 1068.3V1070.7M256.9 1067.7V1068.9M244.7 1070.1V1071.3M248.3 1072.4V1073.6M236.9 1074.8V1076.8M241.1 1076V1077.7M245.9 1077.1V1078.3M226.2 1086.6V1097.1M230.2 1082.2V1091M237.3 1080.1V1084.3M271.3 1079.5V1080.7M241.6 1083.3V1085.4M243.8 1082.4V1084.2M252.4 1081.8V1083M237 1088V1094M245.6 1087.1V1088.9M252 1086.5V1087.7M243.1 1092.6V1095.4M245.3 1091.5V1093.6M250.3 1090.7V1092.4M252.5 1090.1V1091.2M254.7 1094.8V1095.9M244.2 1098.3V1100.1M249.8 1099.5V1100.6M175.3 1123.9V1158.5M187.4 1106.8V1141M216.4 1102.7V1110.9M250.2 1101.8V1103.6M255.1 1103V1104.2M226.2 1107.1V1114.7M241.5 1105.9V1108.3M260.6 1105.3V1106.5M243.9 1107.7V1108.9M233.8 1111.1V1118.4M237.3 1110V1112.1M241.9 1111.2V1113M268.1 1112.4V1113.6M238.5 1116.5V1120.3M244.1 1115.3V1117.7M262 1114.7V1115.9M252.1 1117.1V1118.3M245.2 1119.5V1121.2M269.7 1120.6V1121.8M199.9 1130.4V1151.7M217 1125.3V1135.4M240.8 1123.6V1127.1M266.1 1123V1124.2M251.3 1125.9V1128.3M264.9 1125.3V1126.5M263.2 1127.7V1128.9M226.8 1131.8V1139.1M244 1130.6V1133M258 1130V1131.2M262.4 1132.4V1133.6M231.4 1137.5V1140.6M238.5 1136.2V1138.8M259.8 1135.3V1137.1M265.3 1134.7V1135.9M245.9 1138.3V1139.4M222.4 1148.1V1155.3M231.6 1144.5V1151.8M236 1142.7V1146.3M249.7 1141.8V1143.5M252.7 1143V1144.1M240.2 1145.3V1147.4M244.9 1146.5V1148.2M261.1 1147.7V1148.8M246 1150.6V1153M265.3 1150V1151.2M251.5 1152.4V1153.5M264.5 1154.7V1155.9M247.1 1157.7V1159.4M251.7 1157.1V1158.2M165 1161.2V1293.8M250.9 1160.6V1161.8M179.4 1174.9V1303.8M185.2 1162.9V1186.8M192.5 1165.6V1208.1M252.3 1164.7V1166.5M256 1164.1V1165.3M199.7 1170.4V1245.8M235.2 1167.6V1173.1M239.2 1169.8V1176.3M242.2 1168.8V1170.9M244.8 1170V1171.8M262.8 1171.2V1172.3M242 1175V1177.6M244.2 1174.1V1175.9M245.4 1173.5V1174.7M245.4 1177V1178.2M204 1230.2V1261.4M212.2 1215.8V1244.6M219.5 1206.1V1225.5M222.4 1196.8V1215.5M229.2 1189.1V1204.4M233.5 1183.8V1194.4M238.4 1180.3V1187.4M248.3 1179.4V1181.2M251.3 1180.6V1181.7M243 1185.4V1189.4M246 1183.8V1187M248.1 1182.9V1184.7M257.7 1184.1V1185.3M258 1186.5V1187.6M251.5 1188.8V1190M244.7 1192.9V1195.9M249 1191.7V1194.1M254.6 1191.2V1192.3M261.6 1193.5V1194.7M236.1 1200.6V1208.2M240.7 1197.9V1203.3M242.5 1197V1198.8M246 1198.2V1199.4M244.3 1202V1204.7M246.8 1201.1V1202.9M255.5 1200.6V1201.7M266.7 1204.1V1205.3M249.5 1207V1209.4M254.8 1206.4V1207.6M256.6 1208.8V1210M232.8 1211.1V1219.9M236.1 1216.9V1222.9M238.8 1214.5V1219.2M245.1 1212.9V1216.1M249.3 1212.3V1213.5M256.6 1215.2V1217M270.9 1214.7V1215.8M242.8 1218.2V1220.2M244.9 1219.4V1221.1M254.3 1220.5V1221.7M255.4 1224.7V1226.4M257.2 1224.1V1225.2M229.5 1237.3V1251.9M238.5 1231.4V1243.3M241.8 1228.5V1234.2M248.2 1227.6V1229.4M254.1 1228.8V1229.9M243.6 1232V1236.5M245.9 1231.1V1232.9M271.4 1232.3V1233.5M247.6 1234.6V1238.3M251.9 1237.3V1239.3M256.1 1236.4V1238.2M267.1 1235.8V1237M247.5 1242V1244.6M261.5 1241.1V1242.9M266.5 1240.5V1241.7M254.3 1244V1245.2M232 1247.9V1255.9M259.1 1247V1248.7M271.2 1246.4V1247.6M236 1254V1257.9M239 1252.1V1255.8M241.7 1250.5V1253.7M262.6 1249.9V1251.1M242.9 1252.9V1254.6M245.2 1252.3V1253.4M244 1257V1258.7M245.2 1258.2V1259.3M245 1260.5V1262.3M255.4 1261.7V1262.9M209.6 1282.7V1324.9M228.7 1273V1292.5M235.8 1268.1V1277.8M240.3 1265.8V1270.5M246.2 1264.6V1267M264.7 1264V1265.2M254.3 1266.4V1267.6M244.9 1269.3V1271.7M250.7 1268.7V1269.9M265.4 1271.1V1272.3M237.8 1275.2V1280.5M244.7 1274V1276.4M246.1 1273.4V1274.6M247 1275.8V1277M241 1278.1V1282.8M243.6 1281.1V1284.6M251 1279.9V1282.2M264.5 1279.3V1280.5M261.8 1281.7V1282.8M255.5 1284V1285.2M236.9 1288.1V1296.9M259.7 1286.9V1289.3M265.8 1286.4V1287.5M270.9 1288.7V1289.9M239 1294.3V1299.4M242.5 1292.8V1295.8M245.5 1291.7V1294M260.3 1291.1V1292.2M246.8 1293.4V1294.6M244.4 1297.8V1301.1M245.8 1296.9V1298.7M251.2 1298.1V1299.3M255.3 1300.5V1301.6M217.8 1308.8V1341M231.8 1302.8V1314.7M234.6 1309.7V1319.7M237.2 1305.5V1314M239.7 1304V1307M242.5 1305.2V1308.8M246.7 1307.2V1310.5M254.2 1306.3V1308.1M261.9 1307.5V1308.7M252.2 1309.9V1311M251.8 1312.8V1315.2M253.7 1312.2V1313.4M263.7 1314.6V1315.7M243.3 1318.4V1321M245.5 1317.5V1319.3M251.3 1316.9V1318.1M265.4 1320.4V1321.6M221.9 1331.5V1350.5M230.2 1325.4V1337.7M233.6 1323.4V1327.4M260.8 1322.8V1324M238.5 1325.1V1329.6M240.5 1327.8V1331.3M244.4 1326.9V1328.7M254.1 1326.3V1327.5M244.4 1330.4V1332.2M249.5 1329.9V1331M239.9 1335.6V1339.8M242.5 1334.3V1336.9M244.9 1333.4V1335.1M263.5 1334.6V1335.7M249.6 1338.7V1341M253.3 1338.1V1339.3M264 1340.4V1341.6M234.1 1345.9V1355M245.8 1343.8V1348.1M249.5 1342.8V1344.8M253.5 1344V1345.7M260.1 1345.1V1346.3M270.8 1347.5V1348.7M236.8 1351.2V1358.9M253.6 1349.8V1352.5M256.3 1351.6V1353.4M259 1351V1352.2M240.7 1357.3V1360.4M243.5 1356V1358.6M255.1 1355.1V1356.9M258.1 1354.5V1355.7M245.6 1358.1V1359.2M90 475H150M150 338H155.5M155.5 249H189M189 245.7H200.4M200.4 243.5H244.4M244.4 244.4H260.6M200.4 248H228.2M228.2 246.7H243.4M228.2 249.3H254M254 250.2H263.9M189 253.9H206.2M206.2 252.6H249.1M206.2 255.2H260M260 256.1H270.2M155.5 427.5H170M170 368H180.4M180.4 310.7H194.6M194.6 294.4H200.2M200.2 283.5H207M207 277H211.8M211.8 266.8H219.3M219.3 259.3H246.5M246.5 258.5H265.4M219.3 274.2H226.2M226.2 268.4H233.1M233.1 265.1H238.6M238.6 263.6H243.4M243.4 262.3H245.6M245.6 263.2H264.4M238.6 266.7H252.6M233.1 271.7H241.8M241.8 269.9H249.1M249.1 269H253.8M241.8 273.4H246.8M246.8 272.6H253.2M226.2 280H232.5M232.5 277H242.7M242.7 276.1H245.5M232.5 283.1H234.6M234.6 281.5H248.3M248.3 280.5H251.8M251.8 279.6H266.5M234.6 284.6H240.5M240.5 285.5H245M207 289.9H257M257 289H262.2M200.2 305.3H223M223 295.3H244.6M244.6 293.3H253M253 294.6H255.6M255.6 293.7H267.6M244.6 297.2H262.2M223 315.4H231.2M231.2 310.7H235.6M235.6 305.3H241M241 301.8H243.4M243.4 300.5H244.6M244.6 299.6H246M243.4 303.1H265.1M241 308.8H242.6M242.6 307.1H244.8M244.8 305.8H247.6M247.6 306.6H250.7M242.6 310.5H246.9M246.9 311.3H262.2M235.6 316.1H241.7M241.7 314.6H243.3M243.3 313.7H248M241.7 317.5H253.3M253.3 318.4H259M194.6 327H212.6M212.6 321.9H255.6M212.6 332H219.1M219.1 324.7H244.3M244.3 325.7H246.1M246.1 326.6H252.4M219.1 339.3H225M225 332.4H239.6M239.6 330.2H244.8M244.8 329H262.1M244.8 331.3H246.4M239.6 334.6H260.1M260.1 333.7H264.6M225 346.3H229.8M229.8 341.8H235.9M235.9 338.8H239.4M239.4 337.2H256.8M239.4 340.4H243.1M243.1 339.6H248.2M235.9 344.7H241.1M241.1 343.1H268.1M241.1 346.3H244.6M244.6 345.4H248.6M229.8 350.9H245.4M245.4 349.3H247.6M247.6 350.1H251.3M245.4 352.5H266.8M180.4 425.3H185.7M185.7 391.3H195.7M195.7 377.4H202.2M202.2 361.2H211.5M211.5 368.1H216.8M216.8 358.7H227.6M227.6 361.9H232.9M232.9 358.8H243.4M243.4 357.5H246.4M246.4 358.4H250.2M232.9 365H236.9M236.9 362.8H247.8M247.8 361.9H252.9M236.9 367.2H239.2M239.2 369.6H243.4M243.4 368.5H249.5M249.5 367.5H255.1M255.1 366.6H257.4M216.8 377.6H230.6M230.6 373.6H244.7M244.7 372.5H247.2M244.7 374.8H260.2M230.6 381.5H233M233 378.3H253.8M253.8 377.2H256.3M253.8 379.5H270.2M233 384.6H237.6M237.6 382.6H240M240 383.9H242.5M242.5 383.1H245.6M237.6 386.6H262M202.2 393.5H235.6M235.6 391.9H240.9M240.9 390.8H243.2M243.2 389.8H245M245 388.9H266.2M235.6 395.1H245.9M245.9 396H249M195.7 405.2H237.6M237.6 400.8H243M243 399.2H244.8M244.8 398.3H250.9M243 402.3H245.8M245.8 403.3H250.6M250.6 404.2H252.7M237.6 409.7H245.8M245.8 407H252.9M252.9 408H262.1M262.1 408.9H264M245.8 412.4H250.7M250.7 411.3H252.7M250.7 413.6H258.5M185.7 459.2H208.7M208.7 434.4H217M217 420.8H241M241 418.4H245.3M245.3 416.7H249.7M249.7 418H252.5M252.5 417.1H265.5M241 423.2H244.1M244.1 421.8H266.7M244.1 424.5H249.8M249.8 425.4H251.6M217 447.9H223.5M223.5 439.4H228.2M228.2 431.3H234.2M234.2 427.7H261.8M234.2 434.8H240.6M240.6 431.4H244.5M244.5 430.1H268.3M244.5 432.7H248.7M248.7 433.6H261.3M240.6 438.2H253.7M253.7 436.4H256.7M256.7 437.4H261.8M261.8 438.3H270.6M228.2 447.4H232.7M232.7 445.1H236.4M236.4 443.1H242.6M242.6 441.8H247.7M242.6 444.5H243.8M243.8 445.3H245.2M232.7 449.8H247.8M247.8 448.9H270.5M223.5 456.5H242.7M242.7 454.3H255.2M255.2 453.3H260.3M260.3 452.4H264.4M242.7 458.7H244.5M244.5 457.1H253.9M244.5 460.3H253M253 459.5H255.2M208.7 484.1H214.7M214.7 476.3H219.9M219.9 470.1H222.1M222.1 463.3H258M258 464.2H271.5M222.1 477H225.4M225.4 472.8H231.4M231.4 467.4H235.7M235.7 468.9H239.6M239.6 470.7H245.2M245.2 468.9H269.2M245.2 472.5H249.8M249.8 471.2H256.2M249.8 473.9H265M265 474.7H270.8M231.4 478.3H242.3M242.3 477.1H252.3M242.3 479.4H246.4M214.7 492H237.9M237.9 486.5H241.7M241.7 484.1H252.2M241.7 488.8H245.6M245.6 486.8H261.3M261.3 487.7H268.6M245.6 490.9H254.6M254.6 490H272M237.9 497.4H240M240 495.2H243M243 493.5H245.9M243 496.8H255.2M255.2 495.9H267.9M240 499.7H246.3M246.3 500.6H260.3M170 534.4H190.2M190.2 512.3H230.9M230.9 508.5H238.4M238.4 504.6H240.8M240.8 502.9H270.2M240.8 506.2H245.2M245.2 507.6H248.5M248.5 506.5H271.2M248.5 508.8H253.8M238.4 512.3H246.7M246.7 511.2H259.8M246.7 513.5H263.4M230.9 516.2H251.1M251.1 517H253.6M190.2 556.6H195.1M195.1 546.1H207.3M207.3 534.3H219.7M219.7 525.5H229.7M229.7 523.4H233M233 521.6H241.1M241.1 520.3H243.6M243.6 519.4H247.5M241.1 522.9H270.4M233 525.3H260.4M229.7 527.6H263.9M219.7 543H225.5M225.5 537.9H233.1M233.1 535H240.7M240.7 532.5H244.7M244.7 530.3H254.8M254.8 531.2H267.3M244.7 534.7H250.1M250.1 533.5H266.3M250.1 535.9H255.7M233.1 540.7H244.7M244.7 539.4H247M244.7 542H256M256 542.9H260.1M225.5 548.2H237.1M237.1 546.4H242.4M242.4 545.3H271.4M242.4 547.6H244.6M237.1 550H266.4M207.3 558H231.6M231.6 554.3H236.5M236.5 556.9H244.5M244.5 554.7H252.3M252.3 553.5H266.6M252.3 555.8H261.8M244.5 559.1H251.9M251.9 558.2H254.4M231.6 561.7H252.4M195.1 567H246.4M246.4 565.2H251.1M251.1 564.1H255M251.1 566.4H267.2M246.4 568.8H265.6M150 612H160M160 591H172.6M172.6 576.7H193.8M193.8 571.4H252M252 572.3H258.4M193.8 582H205.6M205.6 575.1H232M232 576.1H240.8M240.8 577H254.5M205.6 588.8H213M213 585.4H225.8M225.8 583.5H232.7M232.7 582.4H244.1M244.1 581.3H246.4M246.4 580.2H250.4M250.4 579.3H255.1M225.8 587.3H239M239 588.7H242.5M242.5 587.6H257.2M242.5 589.9H248.4M213 592.3H268.9M172.6 605.3H216.4M216.4 600.7H230M230 597.3H234.2M234.2 595.1H237.9M237.9 596.1H240.8M240.8 597H247.5M234.2 599.6H246M246 600.5H262.6M230 604.1H241.3M241.3 605.9H247.2M247.2 604.3H251.5M251.5 605.2H268.7M247.2 607.6H250.1M216.4 609.9H265.3M160 631.8H175.3M175.3 626.1H198.5M198.5 622.4H207M207 620.2H217M217 617H223M223 613.9H246.1M246.1 612.6H251.2M251.2 613.4H265.4M223 620H235.6M235.6 617.8H246.9M246.9 619.3H249.9M249.9 618.1H263.5M249.9 620.5H255M198.5 629.8H213.1M213.1 627H225.8M225.8 628.3H236.8M236.8 629.6H247.5M247.5 628.7H249.4M213.1 632.5H253.1M253.1 633.4H254.8M175.3 637.5H231.1M231.1 635.8H256.2M231.1 639.3H239.5M239.5 638.1H258.5M239.5 640.5H259.6M90 997.5H127M127 775.5H151M151 669.5H188M188 661.9H200M200 650.3H212.6M212.6 646.4H236.7M236.7 644.4H243.7M243.7 643.1H246.9M246.9 644H264.2M236.7 648.4H261.7M261.7 647.5H265.5M212.6 654.2H218.9M218.9 657.9H227.6M227.6 655.1H237.2M237.2 652.5H247.1M247.1 653.4H253.3M237.2 657.7H241M241 656.6H246.3M246.3 655.7H261.3M227.6 660.7H258.6M258.6 661.6H263.2M200 673.5H219.3M219.3 669.4H224M224 666.9H231.8M231.8 665.2H239.2M239.2 664H262.6M239.2 666.3H246.9M231.8 668.7H248.1M224 672H246.9M246.9 673.5H249.9M249.9 672.2H253.4M249.9 674.8H252.6M252.6 675.7H260.1M188 690H205M205 685.2H216.3M216.3 682.9H227.8M227.8 680.6H234.6M234.6 679.3H262.4M234.6 681.9H242.1M242.1 682.8H250.2M227.8 685.1H260M216.3 687.5H260.9M205 694.9H214.4M214.4 690.3H223.6M223.6 691.5H234.7M234.7 692.5H239.8M239.8 693.4H266.5M214.4 699.5H222.3M222.3 696.9H239.6M239.6 695.7H252.8M239.6 698.1H252.4M222.3 702H227.1M227.1 700.4H268.1M227.1 703.6H236.4M236.4 702.8H242.7M151 881.5H170M170 762.8H181.8M181.8 706.3H247.4M181.8 819.2H187.9M187.9 780.8H194.7M194.7 749.5H214.4M214.4 737.6H218.1M218.1 724.1H226.4M226.4 715H233.9M233.9 711.2H239.4M239.4 709.5H248.4M248.4 708.6H268.2M239.4 712.9H241M241 714.2H244.4M244.4 713.3H268.6M233.9 718.8H253.6M253.6 717.8H258.9M258.9 716.9H262.5M226.4 733.2H235.2M235.2 728.3H237.4M237.4 723.6H242.2M242.2 721.9H261.4M261.4 722.7H266.3M242.2 725.4H245.9M245.9 726.3H250M237.4 732.9H239.8M239.8 730.2H242.4M242.4 728.6H247.8M242.4 731.7H245.7M245.7 733H249.5M249.5 732.2H268.8M239.8 735.7H255.5M235.2 738H247.3M218.1 751.2H228.3M228.3 747.2H233.5M233.5 743H238M238 741.3H254.4M254.4 740.4H267.4M238 744.8H244M244 743.9H249.6M233.5 751.5H236.6M236.6 749H238.7M238.7 751.3H244.3M244.3 749.8H246.5M246.5 748.6H268.9M246.5 751H252.1M214.4 761.3H231.7M231.7 758.1H236.4M236.4 759.9H239.9M239.9 758.3H243.3M243.3 759.2H246.3M239.9 761.5H251.7M231.7 764.5H244.1M244.1 765.8H246.5M246.5 767.1H254.9M254.9 766.2H257.9M194.7 812.2H198M198 787.3H218.9M218.9 777H224.2M224.2 769.8H262.8M224.2 784.2H228.7M228.7 777.3H234.6M234.6 774.2H239.8M239.8 772.4H245.7M245.7 773.3H260.4M239.8 775.9H254M254 776.8H255.5M234.6 780.3H242.8M242.8 779.2H246.1M242.8 781.5H270.2M228.7 791.1H238.8M238.8 788.1H240.7M240.7 785.3H243.1M243.1 783.9H263.4M243.1 786.7H246.3M246.3 787.7H252.4M252.4 788.6H269.6M240.7 790.9H261M238.8 794.2H244.5M244.5 793.3H246.3M218.9 797.5H244.8M244.8 798.9H247.7M247.7 798H253.2M198 837.1H204.7M204.7 821.8H210.7M210.7 804.9H235.9M235.9 802.4H242M242 801.5H246.4M235.9 807.4H240.2M240.2 805.9H245.6M245.6 805H257.5M240.2 808.8H241.8M241.8 809.7H245.7M210.7 838.7H215.2M215.2 828.3H221.5M221.5 819H225.7M225.7 812.1H267.3M225.7 825.8H230.3M230.3 821.4H232.6M232.6 817.5H237.4M237.4 815.3H239.1M239.1 816.8H243.2M243.2 815.6H244.8M243.2 818H257.1M232.6 825.2H237M237 822.8H240.2M240.2 821.5H247M240.2 824.1H243.9M243.9 825H245.6M237 827.7H249.6M249.6 828.5H267M221.5 837.6H231M231 833.7H244.3M244.3 832.4H250.4M250.4 833.2H254.2M231 841.5H236.6M236.6 838.7H243.8M243.8 837.6H260.8M260.8 836.8H262.8M236.6 844.3H241.9M241.9 842.2H246M246 843.5H249.5M249.5 842.6H254.6M241.9 846.5H257.2M257.2 847.3H262.1M204.7 852.5H247.6M247.6 850.9H252.7M247.6 854.1H250.6M250.6 853.2H257.8M187.9 857.6H249.8M249.8 856.7H261.7M170 917.1H184.7M184.7 892.5H195.4M195.4 876.3H209.8M209.8 864.2H229.9M229.9 860.3H252.8M229.9 868.1H238.9M238.9 864.8H249.1M249.1 863.5H259.9M259.9 862.6H266.5M249.1 866.1H252.6M238.9 871.4H245.4M245.4 869.2H253.7M253.7 870.6H256.3M256.3 869.7H262.2M245.4 873.5H256.3M256.3 874.4H259.7M209.8 888.5H222.5M222.5 882.9H225.4M225.4 878.6H243.8M243.8 877.6H250.1M250.1 876.7H264.6M225.4 887.2H229.8M229.8 884.5H236.2M236.2 882.6H244.9M244.9 881.4H251.8M244.9 883.8H257.1M236.2 886.4H259.5M259.5 887.3H263.9M229.8 890H249.7M249.7 890.8H269.4M222.5 894.1H250.3M250.3 893.2H256.8M195.4 908.7H227M227 904.2H232.2M232.2 899.9H234.9M234.9 897.1H240.4M240.4 898.2H242.7M242.7 899.1H268.3M234.9 902.7H238.7M238.7 901.4H257.1M238.7 904.1H244.1M244.1 904.9H254M232.2 908.5H242.5M242.5 907.3H252.4M242.5 909.6H247.9M227 913.2H243.9M243.9 912H256.2M243.9 914.3H247M184.7 941.7H197.5M197.5 931H210.5M210.5 921H223.1M223.1 916.7H247.4M223.1 925.4H227.7M227.7 921.1H231.7M231.7 923.8H240.8M240.8 921.8H244.3M244.3 920.5H260.2M260.2 921.4H267.2M240.8 925.8H255.2M255.2 924.9H259.8M227.7 929.6H250.1M250.1 928.4H264.1M250.1 930.8H253.5M210.5 941H235M235 937.6H237.6M237.6 935.8H244M244 934.3H262.1M262.1 933.1H269.7M262.1 935.5H266.7M237.6 939.3H245.5M245.5 940.2H263.8M235 944.5H241.7M241.7 943.4H246.3M246.3 942.6H250.5M197.5 952.4H225.3M225.3 950.1H230.6M230.6 948.9H236.7M236.7 947.5H242.4M242.4 948.4H261M225.3 954.7H239.8M239.8 953.1H245.9M239.8 956.4H255.6M255.6 955.5H262.8M127 1219.5H137.7M137.7 1144H165M165 1049H178.6M178.6 1020.2H191M191 996.1H195.6M195.6 979.9H210.6M210.6 967.1H231M231 961.7H238.3M238.3 959.3H252M252 960.2H258.7M238.3 964.1H242.3M242.3 962.5H271.1M242.3 965.6H245.5M245.5 966.9H250.6M250.6 966.1H271.6M231 972.5H237.6M237.6 970.3H245.3M245.3 971.6H257.2M257.2 970.8H261.6M237.6 974.6H244.7M244.7 975.5H258M210.6 992.8H219.2M219.2 986.3H225.3M225.3 980.8H238.1M238.1 979H246.4M246.4 977.8H258M246.4 980.2H249.7M238.1 982.5H245.8M225.3 991.8H231.6M231.6 988.2H236.8M236.8 986.5H244.5M244.5 985.2H249.6M249.6 986H271.5M236.8 990H243.1M243.1 991H247.5M247.5 991.9H270.8M231.6 995.4H243.2M243.2 994.3H247.9M243.2 996.6H263.7M219.2 999.3H252.6M252.6 1000.1H261.4M195.6 1012.3H207.7M207.7 1002.8H249.5M249.5 1003.7H251.8M207.7 1021.7H218.5M218.5 1017.1H227.5M227.5 1012.1H233.6M233.6 1007.5H243M243 1006H249.5M243 1008.9H246.1M246.1 1010H250M250 1011H252.1M252.1 1011.9H255.6M233.6 1016.7H239.9M239.9 1015H242.1M242.1 1016.3H244.4M244.4 1015.4H255M227.5 1022H247.2M247.2 1021H252.4M252.4 1020.1H267.4M218.5 1026.4H232.6M232.6 1028.6H236.7M236.7 1026.3H257.6M257.6 1027.2H271.1M236.7 1030.9H242.2M242.2 1029.5H251.5M242.2 1032.3H244.7M244.7 1033.4H248.7M248.7 1034.2H250.9M191 1044.4H217.9M217.9 1052.8H221M221 1044.8H225.1M225.1 1040.9H241.4M241.4 1039.4H245.7M245.7 1038.1H250M250 1038.9H251.7M241.4 1042.5H251.1M225.1 1048.7H227.3M227.3 1046.1H235.1M235.1 1047.9H239M239 1046.9H240.5M240.5 1046H245.2M227.3 1051.4H247.7M247.7 1052.7H250.8M250.8 1051.9H257.8M221 1060.7H243.2M243.2 1059H246.3M246.3 1057.3H255.9M255.9 1055.7H261.7M261.7 1056.6H267.1M255.9 1058.9H266.1M243.2 1062.4H256M178.6 1077.8H197.6M197.6 1064.8H245.9M197.6 1090.8H209.8M209.8 1082.5H216.6M216.6 1073.2H227.4M227.4 1070.5H234M234 1068H236.7M236.7 1069.5H241.7M241.7 1068.3H256.9M241.7 1070.7H244.7M234 1073H248.3M227.4 1075.8H236.9M236.9 1076.8H241.1M241.1 1077.7H245.9M216.6 1091.9H226.2M226.2 1086.6H230.2M230.2 1082.2H237.3M237.3 1080.1H271.3M237.3 1084.3H241.6M241.6 1083.3H243.8M243.8 1082.4H252.4M230.2 1091H237M237 1088H245.6M245.6 1087.1H252M237 1094H243.1M243.1 1092.6H245.3M245.3 1091.5H250.3M250.3 1090.7H252.5M243.1 1095.4H254.7M209.8 1099.2H244.2M244.2 1100.1H249.8M165 1141.2H175.3M175.3 1123.9H187.4M187.4 1106.8H216.4M216.4 1102.7H250.2M250.2 1103.6H255.1M216.4 1110.9H226.2M226.2 1107.1H241.5M241.5 1105.9H260.6M241.5 1108.3H243.9M226.2 1114.7H233.8M233.8 1111.1H237.3M237.3 1112.1H241.9M241.9 1113H268.1M233.8 1118.4H238.5M238.5 1116.5H244.1M244.1 1115.3H262M244.1 1117.7H252.1M238.5 1120.3H245.2M245.2 1121.2H269.7M187.4 1141H199.9M199.9 1130.4H217M217 1125.3H240.8M240.8 1123.6H266.1M240.8 1127.1H251.3M251.3 1125.9H264.9M251.3 1128.3H263.2M217 1135.4H226.8M226.8 1131.8H244M244 1130.6H258M244 1133H262.4M226.8 1139.1H231.4M231.4 1137.5H238.5M238.5 1136.2H259.8M259.8 1135.3H265.3M238.5 1138.8H245.9M199.9 1151.7H222.4M222.4 1148.1H231.6M231.6 1144.5H236M236 1142.7H249.7M249.7 1143.5H252.7M236 1146.3H240.2M240.2 1147.4H244.9M244.9 1148.2H261.1M231.6 1151.8H246M246 1150.6H265.3M246 1153H251.5M222.4 1155.3H264.5M175.3 1158.5H247.1M247.1 1157.7H251.7M137.7 1293.8H165M165 1161.2H250.9M165 1239.4H179.4M179.4 1174.9H185.2M185.2 1186.8H192.5M192.5 1165.6H252.3M252.3 1164.7H256M192.5 1208.1H199.7M199.7 1170.4H235.2M235.2 1173.1H239.2M239.2 1169.8H242.2M242.2 1170.9H244.8M244.8 1171.8H262.8M239.2 1176.3H242M242 1175H244.2M244.2 1174.1H245.4M242 1177.6H245.4M199.7 1245.8H204M204 1230.2H212.2M212.2 1215.8H219.5M219.5 1206.1H222.4M222.4 1196.8H229.2M229.2 1189.1H233.5M233.5 1183.8H238.4M238.4 1180.3H248.3M248.3 1181.2H251.3M238.4 1187.4H243M243 1185.4H246M246 1183.8H248.1M248.1 1184.7H257.7M246 1187H258M243 1189.4H251.5M233.5 1194.4H244.7M244.7 1192.9H249M249 1191.7H254.6M249 1194.1H261.6M229.2 1204.4H236.1M236.1 1200.6H240.7M240.7 1197.9H242.5M242.5 1198.8H246M240.7 1203.3H244.3M244.3 1202H246.8M246.8 1201.1H255.5M244.3 1204.7H266.7M236.1 1208.2H249.5M249.5 1207H254.8M249.5 1209.4H256.6M222.4 1215.5H232.8M232.8 1219.9H236.1M236.1 1216.9H238.8M238.8 1214.5H245.1M245.1 1212.9H249.3M245.1 1216.1H256.6M256.6 1215.2H270.9M238.8 1219.2H242.8M242.8 1220.2H244.9M244.9 1221.1H254.3M219.5 1225.5H255.4M255.4 1224.7H257.2M212.2 1244.6H229.5M229.5 1237.3H238.5M238.5 1231.4H241.8M241.8 1228.5H248.2M248.2 1229.4H254.1M241.8 1234.2H243.6M243.6 1232H245.9M245.9 1232.9H271.4M243.6 1236.5H247.6M247.6 1238.3H251.9M251.9 1237.3H256.1M256.1 1236.4H267.1M238.5 1243.3H247.5M247.5 1242H261.5M261.5 1241.1H266.5M247.5 1244.6H254.3M229.5 1251.9H232M232 1247.9H259.1M259.1 1247H271.2M232 1255.9H236M236 1254H239M239 1252.1H241.7M241.7 1250.5H262.6M241.7 1253.7H242.9M242.9 1252.9H245.2M236 1257.9H244M244 1258.7H245.2M204 1261.4H245M245 1262.3H255.4M179.4 1303.8H209.6M209.6 1282.7H228.7M228.7 1273H235.8M235.8 1268.1H240.3M240.3 1265.8H246.2M246.2 1264.6H264.7M246.2 1267H254.3M240.3 1270.5H244.9M244.9 1269.3H250.7M244.9 1271.7H265.4M235.8 1277.8H237.8M237.8 1275.2H244.7M244.7 1274H246.1M244.7 1276.4H247M237.8 1280.5H241M241 1282.8H243.6M243.6 1281.1H251M251 1279.9H264.5M251 1282.2H261.8M243.6 1284.6H255.5M228.7 1292.5H236.9M236.9 1288.1H259.7M259.7 1286.9H265.8M259.7 1289.3H270.9M236.9 1296.9H239M239 1294.3H242.5M242.5 1292.8H245.5M245.5 1291.7H260.3M245.5 1294H246.8M239 1299.4H244.4M244.4 1297.8H245.8M245.8 1298.7H251.2M244.4 1301.1H255.3M209.6 1324.9H217.8M217.8 1308.8H231.8M231.8 1314.7H234.6M234.6 1309.7H237.2M237.2 1305.5H239.7M239.7 1307H242.5M242.5 1308.8H246.7M246.7 1307.2H254.2M254.2 1308.1H261.9M246.7 1310.5H252.2M237.2 1314H251.8M251.8 1312.8H253.7M251.8 1315.2H263.7M234.6 1319.7H243.3M243.3 1318.4H245.5M245.5 1317.5H251.3M243.3 1321H265.4M217.8 1341H221.9M221.9 1331.5H230.2M230.2 1325.4H233.6M233.6 1323.4H260.8M233.6 1327.4H238.5M238.5 1329.6H240.5M240.5 1327.8H244.4M244.4 1326.9H254.1M240.5 1331.3H244.4M244.4 1330.4H249.5M230.2 1337.7H239.9M239.9 1335.6H242.5M242.5 1334.3H244.9M244.9 1335.1H263.5M239.9 1339.8H249.6M249.6 1338.7H253.3M249.6 1341H264M221.9 1350.5H234.1M234.1 1345.9H245.8M245.8 1343.8H249.5M249.5 1344.8H253.5M253.5 1345.7H260.1M245.8 1348.1H270.8M234.1 1355H236.8M236.8 1351.2H253.6M253.6 1352.5H256.3M256.3 1351.6H259M236.8 1358.9H240.7M240.7 1357.3H243.5M243.5 1356H255.1M255.1 1355.1H258.1M243.5 1358.6H245.6"/>
<path fill="#2b3466" d="M300.6 242L245.4 242V243.2H261.6V245.5H244.4V247.9H255V249.1H264.9V251.4H250.1V253.8H261V254.9H271.2V257.3H266.4V259.6H247.5V260.8H246.6V262H265.4V264.3H244.4V265.5H253.6V267.9H254.8V270.2H250.1V271.4H254.2V273.7H247.8V274.9H246.5V277.3H243.7V278.4H267.5V280.8H252.8V282H249.3V283.1H241.5V284.3H246V286.7H212.8V287.8H263.2V290.2H258V291.4H254V292.5H268.6V294.9H256.6V296.1H263.2V298.4H247V300.8H245.6V301.9H266.1V304.3H248.6V305.5H251.7V307.8H245.8V309H247.9V310.2H263.2V312.5H249V314.9H244.3V316.1H254.3V317.2H260V319.6H232.2V320.8H256.6V323.1H245.3V324.3H247.1V325.5H253.4V327.8H263.1V330.2H247.4V332.5H265.6V334.9H261.1V336H257.8V338.4H249.2V340.7H244.1V341.9H269.1V344.3H249.6V346.6H245.6V347.8H248.6V349H252.3V351.3H267.8V353.7H212.5V354.8H228.6V356H247.4V357.2H251.2V359.5H244.4V360.7H253.9V363.1H248.8V364.2H240.2V365.4H258.4V367.8H256.1V368.9H250.5V370.1H244.4V371.3H248.2V373.6H261.2V376H257.3V378.3H271.2V380.7H241V381.9H246.6V384.2H243.5V385.4H263V387.8H267.2V390.1H246V391.3H244.2V392.5H241.9V393.6H246.9V394.8H250V397.2H251.9V399.5H245.8V400.7H246.8V401.9H251.6V403H253.7V406.6H263.1V407.7H265V410.1H253.7V412.4H259.5V414.8H250.7V416H266.5V418.3H253.5V419.5H246.3V420.7H267.7V423H250.8V424.2H252.6V426.5H262.8V428.9H269.3V431.2H249.7V432.4H262.3V434.8H257.7V435.9H262.8V437.1H271.6V439.5H254.7V440.6H248.7V443H244.8V444.2H246.2V446.5H237.4V447.7H271.5V450H248.8V451.2H265.4V453.6H261.3V454.8H256.2V455.9H254.9V458.3H256.2V460.6H254V461.8H259V463H272.5V465.3H236.7V466.5H240.6V467.7H270.2V470H257.2V472.4H266V473.6H271.8V475.9H253.3V478.3H247.4V480.6H226.4V481.8H220.9V483H253.2V485.3H262.3V486.5H269.6V488.8H273V491.2H255.6V492.4H246.9V494.7H268.9V497.1H256.2V498.2H247.3V499.4H261.3V501.8H271.2V504.1H246.2V505.3H272.2V507.6H254.8V510H260.8V512.3H264.4V514.7H252.1V515.9H254.6V518.2H248.5V520.6H244.6V521.8H271.4V524.1H261.4V526.5H264.9V528.8H255.8V530H268.3V532.3H267.3V534.7H256.7V537H241.7V538.2H248V540.6H257V541.7H261.1V544.1H272.4V546.4H245.6V548.8H267.4V551.1H237.5V552.3H267.6V554.7H262.8V557H255.4V559.4H252.9V560.5H253.4V562.9H256V565.2H268.2V567.6H266.6V569.9H253V571.1H259.4V573.5H233V574.6H241.8V575.8H255.5V578.2H256.1V580.5H251.4V581.7H247.4V582.9H245.1V584H233.7V585.2H240V586.4H258.2V588.7H249.4V591.1H269.9V593.5H238.9V594.6H241.8V595.8H248.5V598.2H247V599.3H263.6V601.7H242.3V602.9H252.5V604H269.7V606.4H251.1V608.7H266.3V611.1H252.2V612.3H266.4V614.6H247.1V615.8H247.9V617H264.5V619.3H256V621.7H236.6V622.8H218V624H208V625.2H226.8V626.4H237.8V627.5H250.4V629.9H248.5V631.1H254.1V632.2H255.8V634.6H257.2V636.9H259.5V639.3H260.6V641.6H247.9V642.8H265.2V645.2H244.7V646.3H266.5V648.7H262.7V649.9H219.9V651H248.1V652.2H254.3V654.6H262.3V656.9H247.3V658.1H242V659.3H259.6V660.4H264.2V662.8H263.6V665.2H247.9V667.5H249.1V669.9H247.9V671H254.4V673.4H253.6V674.6H261.1V676.9H220.3V678.1H263.4V680.4H243.1V681.6H251.2V684H261V686.3H261.9V688.7H224.6V689.8H235.7V691H240.8V692.2H267.5V694.5H253.8V696.9H253.4V699.2H269.1V701.6H243.7V703.9H237.4V705.1H248.4V707.5H269.2V709.8H249.4V711H242V712.2H269.6V714.5H245.4V715.7H263.5V718H259.9V719.2H254.6V720.4H262.4V721.6H267.3V723.9H246.9V725.1H251V727.4H248.8V729.8H246.7V731H269.8V733.3H250.5V734.5H256.5V736.9H248.3V739.2H268.4V741.6H255.4V742.7H250.6V745.1H245V746.3H239.7V747.4H269.9V749.8H253.1V752.1H245.3V753.3H237.6V754.5H229.3V755.7H237.4V756.8H244.3V758H247.3V760.4H252.7V762.7H245.1V763.9H247.5V765.1H258.9V767.4H255.9V768.6H263.8V770.9H246.7V772.1H261.4V774.5H255V775.6H256.5V778H247.1V780.3H271.2V782.7H264.4V785H247.3V786.2H253.4V787.4H270.6V789.7H262V792.1H247.3V794.4H245.5V796.8H254.2V799.1H248.7V800.3H247.4V802.7H243V803.9H258.5V806.2H246.6V807.4H242.8V808.6H246.7V810.9H268.3V813.3H240.1V814.4H245.8V816.8H258.1V819.1H238.4V820.3H248V822.7H244.9V823.8H246.6V826.2H250.6V827.4H268V829.7H231.3V830.9H251.4V832.1H255.2V834.4H245.3V835.6H263.8V837.9H261.8V839.1H244.8V840.3H247V841.5H255.6V843.8H250.5V845H258.2V846.2H263.1V848.5H216.2V849.7H253.7V852H258.8V854.4H251.6V855.6H262.7V857.9H250.8V859.1H253.8V861.4H267.5V863.8H260.9V865H253.6V867.3H254.7V868.5H263.2V870.8H257.3V873.2H260.7V875.6H265.6V877.9H251.1V879.1H244.8V880.3H252.8V882.6H258.1V885H260.5V886.1H264.9V888.5H250.7V889.7H270.4V892H257.8V894.4H251.3V895.5H241.4V896.7H243.7V897.9H269.3V900.2H258.1V902.6H245.1V903.8H255V906.1H253.4V908.5H248.9V910.8H257.2V913.2H248V915.5H248.4V917.9H232.7V919H261.2V920.2H268.2V922.6H245.3V923.7H260.8V926.1H256.2V927.3H265.1V929.6H254.5V932H270.7V934.3H267.7V936.7H245V937.8H246.5V939H264.8V941.4H251.5V943.7H247.3V944.9H242.7V946.1H243.4V947.3H262V949.6H237.7V950.8H231.6V952H246.9V954.3H263.8V956.7H256.6V957.8H253V959H259.7V961.4H272.1V963.7H246.5V964.9H272.6V967.2H251.6V968.4H246.3V969.6H262.6V971.9H258.2V973.1H245.7V974.3H259V979H250.7V981.3H246.8V983.7H250.6V984.9H272.5V987.2H245.5V988.4H244.1V989.6H248.5V990.7H271.8V993.1H248.9V995.4H264.7V997.8H253.6V999H262.4V1001.3H250.5V1002.5H252.8V1004.8H250.5V1007.2H247.1V1008.4H251V1009.5H253.1V1010.7H256.6V1013.1H243.1V1014.3H256V1016.6H245.4V1017.8H240.9V1019H268.4V1021.3H253.4V1022.5H248.2V1023.7H233.6V1024.8H258.6V1026H272.1V1028.4H252.5V1030.7H245.7V1031.9H249.7V1033.1H251.9V1035.4H218.9V1036.6H251V1037.8H252.7V1040.1H246.7V1041.3H252.1V1043.6H236.1V1044.8H246.2V1047.2H241.5V1048.3H240V1049.5H248.7V1050.7H258.8V1053H251.8V1054.2H262.7V1055.4H268.1V1057.7H267.1V1060.1H247.3V1061.3H257V1063.6H246.9V1066H237.7V1067.1H257.9V1069.5H245.7V1071.8H249.3V1074.2H237.9V1075.4H242.1V1076.5H246.9V1078.9H272.3V1081.2H253.4V1083.6H244.8V1084.8H242.6V1086H253V1088.3H246.6V1089.5H253.5V1091.8H251.3V1093H246.3V1094.2H255.7V1096.5H227.2V1097.7H245.2V1098.9H250.8V1101.2H251.2V1102.4H256.1V1104.8H261.6V1107.1H244.9V1109.5H238.3V1110.6H242.9V1111.8H269.1V1114.2H263V1116.5H253.1V1118.9H246.2V1120H270.7V1122.4H267.1V1124.7H265.9V1127.1H264.2V1129.4H259V1131.8H263.4V1134.1H266.3V1136.5H260.8V1137.7H246.9V1140H232.4V1141.2H250.7V1142.4H253.7V1144.7H241.2V1145.9H245.9V1147.1H262.1V1149.4H266.3V1151.8H252.5V1154.1H265.5V1156.5H252.7V1158.8H248.1V1160H251.9V1162.4H186.2V1163.5H257V1165.9H253.3V1167.1H236.2V1168.2H243.2V1169.4H245.8V1170.6H263.8V1172.9H246.4V1175.3H245.2V1176.5H246.4V1178.8H249.3V1180H252.3V1182.3H249.1V1183.5H258.7V1185.9H259V1188.2H252.5V1190.6H255.6V1192.9H262.6V1195.3H245.7V1196.4H243.5V1197.6H247V1200H256.5V1202.3H247.8V1203.5H267.7V1205.8H255.8V1208.2H257.6V1210.5H233.8V1211.7H250.3V1214.1H271.9V1216.4H257.6V1217.6H243.8V1218.8H245.9V1219.9H255.3V1222.3H237.1V1223.5H258.2V1225.8H256.4V1227H249.2V1228.2H255.1V1230.5H246.9V1231.7H272.4V1234.1H248.6V1235.2H268.1V1237.6H257.1V1238.8H252.9V1239.9H267.5V1242.3H262.5V1243.5H255.3V1245.8H272.2V1248.2H260.1V1249.3H263.6V1251.7H246.2V1254H243.9V1255.2H240V1256.4H245V1257.6H246.2V1261.1H256.4V1263.4H265.7V1265.8H255.3V1268.1H251.7V1270.5H266.4V1272.8H247.1V1275.2H248V1277.5H242V1278.7H265.5V1281.1H262.8V1283.4H256.5V1285.8H266.8V1288.1H271.9V1290.5H261.3V1292.8H247.8V1295.2H243.5V1296.4H246.8V1297.5H252.2V1299.9H256.3V1302.2H232.8V1303.4H240.7V1304.6H243.5V1305.8H255.2V1306.9H262.9V1309.3H253.2V1311.6H254.7V1314H264.7V1316.3H252.3V1318.7H246.5V1319.9H266.4V1322.2H261.8V1324.6H239.5V1325.7H255.1V1328.1H245.4V1329.3H250.5V1331.6H245.4V1332.8H245.9V1334H264.5V1336.3H243.5V1337.5H254.3V1339.8H265V1342.2H250.5V1343.4H254.5V1344.5H261.1V1346.9H271.8V1349.2H254.6V1350.4H260V1352.8H257.3V1353.9H259.1V1356.3H256.1V1357.5H246.6V1359.8H241.7V1361H300.6Z"/>
<path fill="none" stroke="#3b3b97" stroke-width="1.8" d="M92.2 1395V1709M155 1392.6V1408.7M174.6 1388.6V1396.5M187.3 1384.5V1392.6M212 1382.6V1386.5M230.3 1384.4V1388.6M256.8 1383.8V1384.9M249.6 1387.6V1389.6M252 1386.7V1388.5M258.2 1386.1V1387.3M237.1 1391.4V1393.8M259.5 1390.8V1392M251.2 1393.2V1394.3M198.4 1395.5V1397.6M224.1 1396.7V1398.5M247.4 1397.9V1399M174.1 1402.8V1414.7M192.2 1400.8V1404.8M252.4 1400.2V1401.4M209.2 1403.2V1406.4M273.3 1402.6V1403.7M226.7 1404.9V1407.9M232.2 1406.7V1409M249.1 1406.1V1407.3M268.8 1408.4V1409.6M223 1412.7V1416.7M247.5 1411.4V1414M272.4 1410.8V1412M254.2 1413.1V1414.9M267.9 1414.3V1415.5M116.6 1629.3V1789.5M147 1493.8V1649M159.2 1458.3V1529.3M194.9 1431.7V1484.9M203.5 1421.4V1441.9M228.8 1418.7V1424M245.9 1417.8V1419.6M262.7 1419V1420.2M235.9 1422.3V1425.8M246.5 1421.4V1423.1M250.8 1422.5V1423.7M244.1 1424.9V1426.7M259.8 1426.1V1427.2M213.8 1434.4V1449.5M228.5 1429.7V1439M244.3 1428.4V1431.1M249.5 1430.2V1432M251.8 1429.6V1430.8M232.5 1437V1441.1M237.4 1435V1439M241 1433.7V1436.4M246.7 1433.1V1434.3M243.3 1435.5V1437.2M248.1 1436.7V1437.8M245.8 1440.2V1441.9M258.8 1441.4V1442.5M232.8 1446.2V1452.8M246.7 1444.6V1447.8M264.8 1443.7V1445.5M267.5 1444.9V1446.1M252.5 1447.2V1448.4M235.4 1451V1454.6M247.5 1450.2V1451.9M253.2 1449.6V1450.8M244 1453.1V1456M256.5 1454.9V1457.2M272.8 1454.3V1455.5M259.6 1456.6V1457.8M208.3 1468.9V1500.8M217.8 1461.3V1476.5M235 1459.6V1463.1M250.2 1459V1460.2M241.1 1461.9V1464.3M247.8 1461.3V1462.5M272.1 1463.7V1464.9M225.9 1471.2V1481.9M239.4 1467.9V1474.6M247.9 1466V1469.7M250.2 1468.7V1470.7M255.6 1467.8V1469.6M260.6 1467.2V1468.4M242.1 1472.8V1476.3M246.9 1471.9V1473.7M256 1473.1V1474.3M248.2 1475.4V1477.2M273.4 1476.6V1477.8M233.5 1479V1484.8M238.9 1482.9V1486.6M243.1 1481.6V1484.3M251.8 1480.7V1482.5M255.4 1480.1V1481.3M246.1 1483.7V1484.8M254.3 1486V1487.2M233.2 1495.9V1505.7M238.2 1492.7V1499.1M244.2 1490.3V1495.1M251 1489V1491.6M260.7 1488.4V1489.5M254.3 1490.7V1492.5M256.7 1491.9V1493.1M249.9 1494.2V1496M254.5 1495.4V1496.6M244 1497.8V1500.4M250.1 1499.5V1501.3M252.3 1498.9V1500.1M256.6 1504.2V1507.2M261.6 1503.1V1505.4M272.3 1502.5V1503.6M266.1 1504.8V1506M172.1 1514V1544.6M238.7 1510.1V1517.8M241.7 1508.9V1511.3M249.3 1508.3V1509.5M246.3 1510.7V1511.9M243.2 1515.3V1520.4M246.1 1513.6V1516.9M252.8 1513V1514.2M253.8 1516V1517.7M259 1515.4V1516.6M257.4 1519.5V1521.3M265.8 1518.9V1520.1M177.7 1527.4V1561.7M227 1523.9V1531M254.8 1523V1524.8M259 1522.4V1523.6M232.2 1529.2V1532.7M242 1527.7V1530.7M244.7 1526.6V1528.9M260.6 1526V1527.2M250.5 1528.3V1529.5M245.5 1531.9V1533.6M247 1533V1534.2M184.9 1552.9V1570.5M198.8 1543.7V1562.1M204.4 1538.2V1549.3M244.1 1536.8V1539.5M246.5 1536V1537.7M253.5 1535.4V1536.6M255.6 1538.9V1540.1M211.5 1543.8V1554.9M253.2 1542.1V1545.4M258.9 1541.3V1543M265.9 1542.4V1543.6M273.2 1544.8V1546M221.1 1551.2V1558.6M230.8 1548.8V1553.6M236.6 1547.1V1550.5M241.9 1549.2V1551.8M244.8 1548.3V1550.1M263.9 1549.5V1550.7M263.6 1553V1554.2M242.2 1557.1V1560.1M246.9 1555.9V1558.3M249.5 1555.4V1556.5M249 1557.7V1558.9M252.2 1561.2V1563M254.4 1562.4V1563.6M228.6 1566.1V1574.9M240.1 1564.8V1567.4M244.5 1566.5V1568.3M250.3 1565.9V1567.1M236.4 1572.7V1577.1M240.2 1570.9V1574.5M246.9 1570V1571.8M249.7 1569.5V1570.6M260.3 1573.6V1575.3M264.5 1573V1574.2M263.8 1576.5V1577.7M169 1600.2V1697.8M191.2 1578.9V1621.6M196.8 1607.8V1635.4M205.6 1594.5V1621.1M211.5 1584.4V1604.6M221.5 1580V1588.7M227.5 1585.1V1592.2M234.5 1583.1V1587.1M242.1 1581.8V1584.4M255.6 1581.2V1582.4M245.9 1583.6V1585.3M251.5 1584.7V1585.9M241.8 1590V1594.4M259.7 1588.9V1591.2M272.1 1588.3V1589.4M261.5 1590.6V1591.8M248.3 1593.6V1595.3M253.5 1593V1594.1M231 1599.7V1609.4M233.4 1597.4V1602M254 1596.5V1598.3M272.9 1597.7V1598.8M240.6 1600.6V1603.4M269.4 1600V1601.2M247.4 1602.4V1604.4M251.8 1603.5V1605.3M273.3 1604.7V1605.9M251.5 1607.7V1611.2M254.7 1607.1V1608.2M258.6 1610V1612.4M270.8 1609.4V1610.6M263.8 1611.8V1612.9M238.8 1618.5V1623.8M245.5 1616.6V1620.3M250.9 1615.6V1617.6M261.6 1614.7V1616.5M264.9 1614.1V1615.3M265.4 1619.4V1621.2M268.6 1618.8V1620M244.7 1622.4V1625.3M246.4 1624.1V1626.5M251.8 1623.5V1624.7M256.6 1625.9V1627.1M213.2 1628.8V1642M254.6 1628.2V1629.4M220.7 1634.9V1649M242.5 1632.3V1637.5M248.3 1631.2V1633.5M264.9 1630.6V1631.8M250.5 1632.9V1634.1M251.2 1636.2V1638.8M257 1635.3V1637M264 1636.5V1637.6M222.8 1644.4V1653.7M225.4 1640.6V1648.1M259.9 1640V1641.2M229 1646.9V1649.4M236.7 1645.6V1648.2M244.4 1644.1V1647M246.1 1642.9V1645.3M251.5 1642.3V1643.5M265.8 1644.7V1645.9M243.3 1651.6V1655.8M250.7 1650.6V1652.6M256.2 1651.7V1653.5M262.6 1652.9V1654.1M269.7 1655.3V1656.4M181.4 1669.8V1725.8M225.8 1660.9V1678.7M231.4 1657.6V1664.3M236.4 1660.7V1667.8M240.1 1659.4V1662M263.2 1658.8V1660M245.1 1661.1V1662.9M256 1662.3V1663.5M247.5 1665.7V1670M250.1 1664.7V1666.7M252.4 1665.8V1667.6M254 1667V1668.2M258.1 1669.4V1670.5M231.2 1673.8V1683.6M238.7 1672.3V1675.4M259.1 1671.7V1672.9M244.3 1674.1V1676.7M246 1675.8V1677.6M251.9 1675.2V1676.4M237.7 1682V1685.2M245 1680.5V1683.5M251.2 1679.4V1681.7M258.1 1678.8V1679.9M253.9 1681.1V1682.3M257.8 1684.6V1685.8M191.1 1713.1V1738.4M198.8 1701.2V1725M211.4 1690.8V1711.6M234.5 1688V1693.7M248.3 1687V1689M252.1 1688.2V1689.9M266.6 1689.3V1690.5M241 1691.7V1695.7M246.7 1694.3V1697M250.9 1693.5V1695.2M257 1692.9V1694M264.5 1696.4V1697.6M219.1 1703.2V1719.9M221.5 1698.7V1707.8M228 1703.2V1712.3M233.5 1699.9V1706.5M239.3 1704.3V1708.7M246.9 1702.6V1706.1M249.8 1701.7V1703.4M260.4 1701.1V1702.3M250.7 1705.2V1707M273.3 1704.6V1705.8M249.8 1708.1V1709.3M232.2 1710.5V1714.1M237.5 1712.3V1715.9M257.8 1711.7V1712.8M239.8 1714V1717.7M241.8 1716.7V1718.7M244.2 1715.8V1717.6M248.6 1715.2V1716.4M238.2 1723V1727M241.1 1721.7V1724.3M269.8 1721.1V1722.3M245.3 1723.4V1725.2M246.5 1724.6V1725.8M229.2 1731.8V1745.1M235.3 1729.5V1734.2M241.8 1728.1V1730.8M247.3 1729.9V1731.7M249.9 1729.3V1730.5M240.7 1732.8V1735.5M245.5 1734.6V1736.4M267.9 1734V1735.2M234.8 1741.5V1748.7M241.5 1739.3V1743.7M247.4 1738.1V1740.5M266.3 1737.5V1738.7M250.4 1739.9V1741.1M250.4 1742.2V1745.2M262.5 1744V1746.3M269.1 1743.4V1744.6M267.1 1745.8V1746.9M260.7 1748.1V1749.3M207 1789.5V1844.1M228.1 1796.5V1826.5M231.9 1784.1V1808.9M235.6 1774.7V1793.6M237.5 1763.1V1786.3M239.8 1754.7V1771.4M242.8 1750.5V1759M244 1757V1761M245.2 1754.8V1759.3M246.4 1752.7V1756.9M247.6 1751.6V1753.7M248.8 1752.8V1754.6M250 1754V1755.2M262.4 1756.3V1757.5M261.3 1758.7V1759.9M244.5 1767.2V1775.7M246.1 1765.2V1769.3M247.3 1763.7V1766.6M249.5 1762.8V1764.6M259.8 1762.2V1763.4M258.2 1765.7V1767.5M266 1766.9V1768.1M245.7 1772.2V1779.1M247.4 1771V1773.4M249.4 1770.4V1771.6M297.3 1772.8V1774M280.7 1776.9V1781.3M287.5 1775.7V1778.1M290.8 1775.1V1776.3M291.5 1777.5V1778.7M286.3 1780.4V1782.2M290.5 1779.8V1781M284.1 1784.8V1787.8M288.2 1784V1785.7M291 1783.4V1784.5M288.9 1786.9V1788.7M293.1 1788.1V1789.2M289.5 1791.4V1795.7M291.3 1790.4V1792.5M294 1791.6V1793.4M295.8 1792.8V1793.9M295.3 1795.1V1796.3M263.5 1806.2V1811.6M271.5 1803.4V1808.9M274.8 1800.6V1806.3M283.1 1798.4V1802.8M287.8 1797.5V1799.2M290.6 1798.6V1799.8M291.4 1801.6V1803.9M297.2 1801V1802.2M295.4 1803.3V1804.5M297.1 1805.7V1806.9M291.6 1808V1809.8M295.9 1809.2V1810.4M263.2 1821.1V1831.8M272 1817.2V1825.1M276.8 1815V1819.4M280.8 1813.6V1816.3M285.6 1812.8V1814.5M290.2 1813.9V1815.1M283.3 1818V1820.8M295.5 1817.5V1818.6M285.5 1819.8V1821.9M290.9 1821V1822.7M292.5 1822.2V1823.3M296 1824.5V1825.7M275.3 1829.2V1834.5M279.8 1827.4V1831M290.5 1826.9V1828M284.8 1829.8V1832.1M297.5 1829.2V1830.4M290.8 1831.6V1832.7M296.1 1833.9V1835.1M272 1840.6V1847.6M284.4 1838.8V1842.4M286.8 1837.7V1839.8M292.2 1836.8V1838.6M293.7 1836.3V1837.4M292.8 1841.5V1843.3M297.3 1841V1842.1M277.7 1844.5V1850.8M281.4 1847.9V1853.7M289.4 1846.5V1849.2M291.6 1845.7V1847.4M293.5 1846.8V1848M284.4 1851.8V1855.6M294.9 1850.9V1852.7M296.8 1850.4V1851.5M287.7 1854.5V1856.8M290.3 1853.9V1855.1M294.2 1856.2V1857.4M92.2 1395H155M155 1392.6H174.6M174.6 1388.6H187.3M187.3 1384.5H212M212 1386.5H230.3M230.3 1384.4H256.8M230.3 1388.6H249.6M249.6 1387.6H252M252 1386.7H258.2M187.3 1392.6H237.1M237.1 1391.4H259.5M237.1 1393.8H251.2M174.6 1396.5H198.4M198.4 1397.6H224.1M224.1 1398.5H247.4M155 1408.7H174.1M174.1 1402.8H192.2M192.2 1400.8H252.4M192.2 1404.8H209.2M209.2 1403.2H273.3M209.2 1406.4H226.7M226.7 1407.9H232.2M232.2 1406.7H249.1M232.2 1409H268.8M174.1 1414.7H223M223 1412.7H247.5M247.5 1411.4H272.4M247.5 1414H254.2M254.2 1414.9H267.9M92.2 1709H116.6M116.6 1629.3H147M147 1493.8H159.2M159.2 1458.3H194.9M194.9 1431.7H203.5M203.5 1421.4H228.8M228.8 1418.7H245.9M245.9 1419.6H262.7M228.8 1424H235.9M235.9 1422.3H246.5M246.5 1423.1H250.8M235.9 1425.8H244.1M244.1 1426.7H259.8M203.5 1441.9H213.8M213.8 1434.4H228.5M228.5 1429.7H244.3M244.3 1431.1H249.5M249.5 1430.2H251.8M228.5 1439H232.5M232.5 1437H237.4M237.4 1435H241M241 1433.7H246.7M241 1436.4H243.3M243.3 1437.2H248.1M232.5 1441.1H245.8M245.8 1441.9H258.8M213.8 1449.5H232.8M232.8 1446.2H246.7M246.7 1444.6H264.8M264.8 1445.5H267.5M246.7 1447.8H252.5M232.8 1452.8H235.4M235.4 1451H247.5M247.5 1450.2H253.2M235.4 1454.6H244M244 1456H256.5M256.5 1454.9H272.8M256.5 1457.2H259.6M194.9 1484.9H208.3M208.3 1468.9H217.8M217.8 1461.3H235M235 1459.6H250.2M235 1463.1H241.1M241.1 1461.9H247.8M241.1 1464.3H272.1M217.8 1476.5H225.9M225.9 1471.2H239.4M239.4 1467.9H247.9M247.9 1469.7H250.2M250.2 1468.7H255.6M255.6 1467.8H260.6M239.4 1474.6H242.1M242.1 1472.8H246.9M246.9 1473.7H256M242.1 1476.3H248.2M248.2 1477.2H273.4M225.9 1481.9H233.5M233.5 1484.8H238.9M238.9 1482.9H243.1M243.1 1481.6H251.8M251.8 1480.7H255.4M243.1 1484.3H246.1M238.9 1486.6H254.3M208.3 1500.8H233.2M233.2 1495.9H238.2M238.2 1492.7H244.2M244.2 1490.3H251M251 1489H260.7M251 1491.6H254.3M254.3 1492.5H256.7M244.2 1495.1H249.9M249.9 1496H254.5M238.2 1499.1H244M244 1500.4H250.1M250.1 1499.5H252.3M233.2 1505.7H256.6M256.6 1504.2H261.6M261.6 1503.1H272.3M261.6 1505.4H266.1M159.2 1529.3H172.1M172.1 1514H238.7M238.7 1510.1H241.7M241.7 1508.9H249.3M241.7 1511.3H246.3M238.7 1517.8H243.2M243.2 1515.3H246.1M246.1 1513.6H252.8M246.1 1516.9H253.8M253.8 1516H259M243.2 1520.4H257.4M257.4 1519.5H265.8M172.1 1544.6H177.7M177.7 1527.4H227M227 1523.9H254.8M254.8 1523H259M227 1531H232.2M232.2 1529.2H242M242 1527.7H244.7M244.7 1526.6H260.6M244.7 1528.9H250.5M232.2 1532.7H245.5M245.5 1533.6H247M177.7 1561.7H184.9M184.9 1552.9H198.8M198.8 1543.7H204.4M204.4 1538.2H244.1M244.1 1536.8H246.5M246.5 1536H253.5M244.1 1539.5H255.6M204.4 1549.3H211.5M211.5 1543.8H253.2M253.2 1542.1H258.9M258.9 1543H265.9M253.2 1545.4H273.2M211.5 1554.9H221.1M221.1 1551.2H230.8M230.8 1548.8H236.6M236.6 1550.5H241.9M241.9 1549.2H244.8M244.8 1550.1H263.9M230.8 1553.6H263.6M221.1 1558.6H242.2M242.2 1557.1H246.9M246.9 1555.9H249.5M246.9 1558.3H249M198.8 1562.1H252.2M252.2 1563H254.4M184.9 1570.5H228.6M228.6 1566.1H240.1M240.1 1567.4H244.5M244.5 1566.5H250.3M228.6 1574.9H236.4M236.4 1572.7H240.2M240.2 1570.9H246.9M246.9 1570H249.7M240.2 1574.5H260.3M260.3 1573.6H264.5M236.4 1577.1H263.8M147 1649H169M169 1600.2H191.2M191.2 1621.6H196.8M196.8 1607.8H205.6M205.6 1594.5H211.5M211.5 1584.4H221.5M221.5 1588.7H227.5M227.5 1585.1H234.5M234.5 1583.1H242.1M242.1 1581.8H255.6M242.1 1584.4H245.9M245.9 1585.3H251.5M227.5 1592.2H241.8M241.8 1590H259.7M259.7 1588.9H272.1M259.7 1591.2H261.5M241.8 1594.4H248.3M248.3 1593.6H253.5M211.5 1604.6H231M231 1599.7H233.4M233.4 1597.4H254M254 1598.3H272.9M233.4 1602H240.6M240.6 1600.6H269.4M240.6 1603.4H247.4M247.4 1604.4H251.8M251.8 1605.3H273.3M231 1609.4H251.5M251.5 1607.7H254.7M251.5 1611.2H258.6M258.6 1610H270.8M258.6 1612.4H263.8M205.6 1621.1H238.8M238.8 1618.5H245.5M245.5 1616.6H250.9M250.9 1615.6H261.6M261.6 1614.7H264.9M245.5 1620.3H265.4M265.4 1619.4H268.6M238.8 1623.8H244.7M244.7 1625.3H246.4M246.4 1624.1H251.8M246.4 1626.5H256.6M196.8 1635.4H213.2M213.2 1628.8H254.6M213.2 1642H220.7M220.7 1634.9H242.5M242.5 1632.3H248.3M248.3 1631.2H264.9M248.3 1633.5H250.5M242.5 1637.5H251.2M251.2 1636.2H257M257 1637H264M220.7 1649H222.8M222.8 1644.4H225.4M225.4 1640.6H259.9M225.4 1648.1H229M229 1646.9H236.7M236.7 1645.6H244.4M244.4 1644.1H246.1M246.1 1642.9H251.5M246.1 1645.3H265.8M222.8 1653.7H243.3M243.3 1651.6H250.7M250.7 1652.6H256.2M256.2 1653.5H262.6M243.3 1655.8H269.7M169 1697.8H181.4M181.4 1669.8H225.8M225.8 1660.9H231.4M231.4 1664.3H236.4M236.4 1660.7H240.1M240.1 1659.4H263.2M240.1 1662H245.1M245.1 1662.9H256M236.4 1667.8H247.5M247.5 1665.7H250.1M250.1 1666.7H252.4M252.4 1667.6H254M247.5 1670H258.1M225.8 1678.7H231.2M231.2 1673.8H238.7M238.7 1672.3H259.1M238.7 1675.4H244.3M244.3 1676.7H246M246 1675.8H251.9M231.2 1683.6H237.7M237.7 1682H245M245 1680.5H251.2M251.2 1679.4H258.1M251.2 1681.7H253.9M237.7 1685.2H257.8M181.4 1725.8H191.1M191.1 1713.1H198.8M198.8 1701.2H211.4M211.4 1690.8H234.5M234.5 1688H248.3M248.3 1689H252.1M252.1 1689.9H266.6M234.5 1693.7H241M241 1695.7H246.7M246.7 1694.3H250.9M250.9 1693.5H257M246.7 1697H264.5M211.4 1711.6H219.1M219.1 1703.2H221.5M221.5 1707.8H228M228 1703.2H233.5M233.5 1706.5H239.3M239.3 1704.3H246.9M246.9 1702.6H249.8M249.8 1701.7H260.4M246.9 1706.1H250.7M250.7 1705.2H273.3M239.3 1708.7H249.8M228 1712.3H232.2M232.2 1714.1H237.5M237.5 1712.3H257.8M237.5 1715.9H239.8M239.8 1717.7H241.8M241.8 1716.7H244.2M244.2 1715.8H248.6M198.8 1725H238.2M238.2 1723H241.1M241.1 1721.7H269.8M241.1 1724.3H245.3M245.3 1725.2H246.5M191.1 1738.4H229.2M229.2 1731.8H235.3M235.3 1729.5H241.8M241.8 1730.8H247.3M247.3 1729.9H249.9M235.3 1734.2H240.7M240.7 1735.5H245.5M245.5 1734.6H267.9M229.2 1745.1H234.8M234.8 1741.5H241.5M241.5 1739.3H247.4M247.4 1738.1H266.3M247.4 1740.5H250.4M241.5 1743.7H250.4M250.4 1745.2H262.5M262.5 1744H269.1M262.5 1746.3H267.1M234.8 1748.7H260.7M116.6 1789.5H207M207 1811.5H228.1M228.1 1796.5H231.9M231.9 1784.1H235.6M235.6 1774.7H237.5M237.5 1763.1H239.8M239.8 1754.7H242.8M242.8 1759H244M244 1757H245.2M245.2 1754.8H246.4M246.4 1752.7H247.6M247.6 1753.7H248.8M248.8 1754.6H250M246.4 1756.9H262.4M245.2 1759.3H261.3M239.8 1771.4H244.5M244.5 1767.2H246.1M246.1 1765.2H247.3M247.3 1763.7H249.5M249.5 1762.8H259.8M247.3 1766.6H258.2M258.2 1767.5H266M244.5 1775.7H245.7M245.7 1772.2H247.4M247.4 1771H249.4M247.4 1773.4H297.3M245.7 1779.1H280.7M280.7 1776.9H287.5M287.5 1775.7H290.8M287.5 1778.1H291.5M280.7 1781.3H286.3M286.3 1780.4H290.5M237.5 1786.3H284.1M284.1 1784.8H288.2M288.2 1784H291M284.1 1787.8H288.9M288.9 1788.7H293.1M235.6 1793.6H289.5M289.5 1791.4H291.3M291.3 1792.5H294M294 1793.4H295.8M289.5 1795.7H295.3M231.9 1808.9H263.5M263.5 1806.2H271.5M271.5 1803.4H274.8M274.8 1800.6H283.1M283.1 1798.4H287.8M287.8 1799.2H290.6M283.1 1802.8H291.4M291.4 1801.6H297.2M291.4 1803.9H295.4M274.8 1806.3H297.1M271.5 1808.9H291.6M291.6 1809.8H295.9M228.1 1826.5H263.2M263.2 1821.1H272M272 1817.2H276.8M276.8 1815H280.8M280.8 1813.6H285.6M285.6 1814.5H290.2M276.8 1819.4H283.3M283.3 1818H295.5M283.3 1820.8H285.5M285.5 1821.9H290.9M290.9 1822.7H292.5M272 1825.1H296M263.2 1831.8H275.3M275.3 1829.2H279.8M279.8 1827.4H290.5M279.8 1831H284.8M284.8 1829.8H297.5M284.8 1832.1H290.8M275.3 1834.5H296.1M207 1844.1H272M272 1840.6H284.4M284.4 1838.8H286.8M286.8 1837.7H292.2M292.2 1836.8H293.7M284.4 1842.4H292.8M292.8 1841.5H297.3M272 1847.6H277.7M277.7 1850.8H281.4M281.4 1847.9H289.4M289.4 1846.5H291.6M291.6 1847.4H293.5M281.4 1853.7H284.4M284.4 1851.8H294.9M294.9 1850.9H296.8M284.4 1855.6H287.7M287.7 1854.5H290.3M287.7 1856.8H294.2"/>
<path fill="#2b3466" d="M302.4 1382L213 1382V1383.2H257.8V1385.5H259.2V1387.9H253V1389.1H250.6V1390.2H260.5V1392.6H252.2V1394.9H199.4V1396.1H225.1V1397.3H248.4V1399.6H253.4V1402H274.3V1404.3H227.7V1405.5H250.1V1407.9H269.8V1410.2H273.4V1412.6H255.2V1413.7H268.9V1416.1H224V1417.3H246.9V1418.4H263.7V1420.8H247.5V1422H251.8V1424.3H245.1V1425.5H260.8V1427.8H245.3V1429H252.8V1431.4H250.5V1432.5H247.7V1434.9H244.3V1436.1H249.1V1438.4H238.4V1439.6H246.8V1440.8H259.8V1443.1H265.8V1444.3H268.5V1446.6H253.5V1449H254.2V1451.3H248.5V1452.5H245V1453.7H273.8V1456H260.6V1458.4H251.2V1460.7H248.8V1463.1H273.1V1465.4H248.9V1466.6H261.6V1469H256.6V1470.1H251.2V1471.3H247.9V1472.5H257V1474.8H249.2V1476H274.4V1478.4H234.5V1479.6H256.4V1481.9H252.8V1483.1H247.1V1485.4H255.3V1487.8H261.7V1490.1H255.3V1491.3H257.7V1493.7H250.9V1494.8H255.5V1497.2H245V1498.4H253.3V1500.7H251.1V1501.9H273.3V1504.2H267.1V1506.6H257.6V1507.8H250.3V1510.1H247.3V1512.5H253.8V1514.8H260V1517.2H254.8V1518.3H266.8V1520.7H258.4V1521.9H260V1524.2H255.8V1525.4H261.6V1527.7H251.5V1530.1H243V1531.3H246.5V1532.4H248V1534.8H254.5V1537.1H247.5V1538.3H256.6V1540.7H259.9V1541.8H266.9V1544.2H274.2V1546.5H237.6V1547.7H245.8V1548.9H264.9V1551.2H242.9V1552.4H264.6V1554.8H250.5V1557.1H250V1559.5H243.2V1560.6H253.2V1561.8H255.4V1564.2H241.1V1565.3H251.3V1567.7H245.5V1568.9H250.7V1571.2H247.9V1572.4H265.5V1574.8H261.3V1575.9H264.8V1578.3H192.2V1579.5H222.5V1580.6H256.6V1583H246.9V1584.2H252.5V1586.5H235.5V1587.7H273.1V1590H262.5V1592.4H254.5V1594.7H249.3V1595.9H255V1597.1H273.9V1599.4H270.4V1601.8H248.4V1603H252.8V1604.1H274.3V1606.5H255.7V1608.8H271.8V1611.2H264.8V1613.5H265.9V1615.9H262.6V1617.1H251.9V1618.2H269.6V1620.6H266.4V1621.8H245.7V1622.9H252.8V1625.3H257.6V1627.6H255.6V1630H265.9V1632.3H251.5V1634.7H258V1635.9H265V1638.2H252.2V1639.4H260.9V1641.7H252.5V1644.1H266.8V1646.4H245.4V1647.6H237.7V1648.8H230V1650H251.7V1651.1H257.2V1652.3H263.6V1654.7H270.7V1657H232.4V1658.2H264.2V1660.5H246.1V1661.7H257V1664.1H251.1V1665.2H253.4V1666.4H255V1668.8H259.1V1671.1H260.1V1673.5H245.3V1674.7H252.9V1677H247V1678.2H259.1V1680.5H254.9V1682.9H246V1684.1H258.8V1686.4H249.3V1687.6H253.1V1688.8H267.6V1691.1H242V1692.3H258V1694.6H251.9V1695.8H265.5V1698.2H222.5V1699.3H234.5V1700.5H261.4V1702.9H250.8V1704H274.3V1706.4H251.7V1707.6H250.8V1709.9H233.2V1711.1H258.8V1713.4H240.8V1714.6H249.6V1717H245.2V1718.1H242.8V1719.3H220.1V1720.5H270.8V1722.8H246.3V1724H247.5V1726.4H239.2V1727.5H242.8V1728.7H250.9V1731.1H248.3V1732.2H241.7V1733.4H268.9V1735.8H246.5V1736.9H267.3V1739.3H251.4V1742.8H270.1V1745.2H268.1V1747.5H261.7V1749.9H243.8V1751H248.6V1752.2H249.8V1753.4H251V1755.7H263.4V1758.1H262.3V1760.4H245V1761.6H260.8V1764H250.5V1765.2H259.2V1766.3H267V1768.7H247.1V1769.9H250.4V1772.2H298.3V1774.6H291.8V1776.9H292.5V1779.3H291.5V1781.6H287.3V1782.8H292V1785.1H289.2V1786.3H289.9V1787.5H294.1V1789.8H292.3V1791H295V1792.2H296.8V1794.5H296.3V1796.9H288.8V1798.1H291.6V1800.4H298.2V1802.8H296.4V1805.1H298.1V1807.5H292.6V1808.6H296.9V1811H264.5V1812.2H286.6V1813.3H291.2V1815.7H281.8V1816.9H296.5V1819.2H286.5V1820.4H291.9V1821.6H293.5V1823.9H297V1826.3H291.5V1828.6H298.5V1831H291.8V1833.3H297.1V1835.7H294.7V1838H293.2V1839.2H287.8V1840.4H298.3V1842.7H293.8V1843.9H278.7V1845.1H292.6V1846.2H294.5V1848.6H290.4V1849.8H297.8V1852.1H295.9V1853.3H291.3V1855.6H295.2V1858H302.4Z"/>
<path fill="none" stroke="#3b3b97" stroke-width="1.8" d="M95 2003V2135M132.5 1912.8V2093M174 1905.5V1963.6M184.5 1894.2V1916.7M202.5 1886.3V1902.2M215.8 1881.7V1890.9M225.9 1878.6V1884.8M251.3 1877.6V1879.6M253.9 1878.8V1880.5M257.8 1879.9V1881.1M236.4 1883.2V1886.4M245.3 1882.3V1884M252 1883.5V1884.6M258.6 1885.8V1887M232.5 1888.2V1893.7M237.5 1892.1V1895.2M243.7 1890.8V1893.4M250.9 1889.9V1891.7M252.7 1889.3V1890.5M266.7 1892.8V1894M223.3 1898.6V1905.8M228.8 1897V1900.3M262.1 1896.4V1897.5M240.2 1898.7V1901.8M247.8 1900.5V1903.1M270.6 1899.9V1901.1M250.9 1902.2V1904M254.4 1903.4V1904.6M212.3 1911.6V1921.9M250.7 1908.8V1914.3M259.3 1907.5V1910.2M272.6 1906.9V1908.1M264.1 1909.3V1911M266.5 1910.5V1911.6M257.6 1913.4V1915.2M274 1912.8V1914M223.9 1918.8V1924.9M251.5 1917.2V1920.4M263.4 1916.3V1918.1M269.4 1917.5V1918.7M258.1 1919.8V1921M233.3 1923.1V1926.7M242.8 1922.2V1924M250.3 1923.4V1924.5M240.9 1925.7V1927.8M250.1 1926.9V1928.7M273.8 1928.1V1929.2M189.5 1942V1985.2M229.9 1937.8V1946.3M233.5 1933.8V1941.9M239.2 1931.3V1936.3M251.3 1930.4V1932.2M253.8 1931.6V1932.8M242.8 1934.5V1938M257 1933.9V1935.1M248.5 1936.9V1939.2M256.3 1936.3V1937.5M250.9 1938.6V1939.8M246.4 1941V1942.7M251.8 1942.2V1943.3M248.8 1945.1V1947.4M253.5 1944.5V1945.7M256.6 1946.8V1948M200.7 1968.7V2001.6M213.7 1956.2V1981.3M240.3 1952.3V1960.1M243.8 1950.1V1954.5M249.8 1949.2V1951M265.9 1950.4V1951.5M249.2 1953.3V1955.7M261.9 1952.7V1953.9M253.3 1955.1V1956.2M249.2 1958.3V1961.8M251.7 1957.4V1959.2M258.4 1958.6V1959.8M254.6 1960.9V1962.7M272.3 1962.1V1963.3M222 1973.1V1989.5M233.5 1967.2V1978.9M247.2 1965.9V1968.6M248.8 1965V1966.8M251.4 1964.5V1965.6M253.3 1968V1969.2M240.3 1975.2V1982.7M245.9 1972.1V1978.2M252.1 1970.9V1973.3M276.7 1970.3V1971.5M300.1 1972.7V1973.8M290.9 1976.5V1980M295 1975.6V1977.4M297.9 1975V1976.2M295.1 1979.1V1980.9M299.9 1978.5V1979.7M294.4 1982.1V1983.2M282 1986.6V1992.5M286.9 1985V1988.2M294.5 1984.4V1985.6M291.6 1987.3V1989.1M296.5 1986.8V1987.9M286 1990.9V1994.1M300.5 1990.3V1991.5M291.3 1993.2V1995M294.9 1992.6V1993.8M267.4 1996.7V2006.4M299.2 1996.2V1997.3M271.6 2003.7V2009.1M278.8 2001.4V2006.1M284.1 1999.5V2003.2M288.1 1998.5V2000.6M289.7 1999.7V2001.4M294.5 2000.8V2002M296.1 2005V2007.3M300.3 2004.4V2005.5M300.3 2006.7V2007.9M155.5 2023V2093M268.5 2018.6V2027.4M275.6 2015.9V2021.4M283.1 2013.3V2018.5M286.7 2011.1V2015.5M292.2 2010.2V2012M298.2 2011.4V2012.6M295.4 2014.3V2016.7M300.5 2013.8V2014.9M297.3 2016.1V2017.3M290.1 2020.2V2022.6M297.1 2019.6V2020.8M293.1 2022V2023.2M288.8 2025.2V2029.6M294.9 2024.3V2026.1M297.7 2025.5V2026.7M292.5 2028.4V2030.8M298.4 2027.8V2029M298.4 2030.2V2031.4M175.6 2034.9V2068.6M236.9 2032.5V2037.2M240.4 2034.6V2039.7M289.8 2033.7V2035.5M294.8 2034.9V2036.1M247.6 2038.1V2041.3M252.2 2037.2V2039M269.9 2038.4V2039.6M253.2 2040.8V2041.9M184 2049.5V2087.8M232.1 2044.4V2054.6M248.3 2043.1V2045.6M253.8 2044.3V2046.9M258 2046V2047.8M266 2045.5V2046.6M237.3 2052.5V2056.6M245.3 2050.7V2054.3M253.6 2049.6V2051.9M259.8 2049V2050.2M273.3 2051.3V2052.5M258 2053.7V2054.8M260.9 2056V2057.2M192.7 2071.2V2104.5M221.5 2066.9V2075.4M224 2063.5V2070.4M232.1 2060.1V2066.9M237.3 2058.4V2061.7M245.5 2060.1V2063.4M265 2059.5V2060.7M249.7 2062.5V2064.2M264.3 2061.9V2063.1M253.8 2066V2067.8M263.7 2065.4V2066.6M249.3 2069.5V2071.3M255.2 2068.9V2070.1M244.9 2073.3V2077.4M251.5 2072.5V2074.2M263.1 2073.6V2074.8M258.1 2076.6V2078.3M264.8 2076V2077.2M206.4 2097.2V2111.7M217.8 2093.2V2101.2M221 2087.7V2098.6M227.4 2081.7V2093.7M230.1 2079.5V2084M238.5 2081.6V2086.4M260.4 2080.7V2082.4M269.1 2081.8V2083M242.4 2084.2V2088.5M251 2086.4V2090.7M260.5 2085.4V2087.4M270 2086.5V2088.3M275.2 2087.7V2088.9M258.7 2090.1V2091.2M257.5 2092.4V2095.1M261.9 2094.2V2095.9M268.7 2093.6V2094.8M243.7 2097.7V2099.5M249.2 2097.1V2098.3M275.5 2100.6V2101.8M230.1 2108.4V2115M235.5 2105.7V2111.2M241 2103.6V2107.8M258 2103V2104.2M244.5 2106.2V2109.4M247.2 2105.3V2107.1M265.3 2106.5V2107.7M255.7 2108.8V2110M244.3 2113.2V2116.8M250.1 2112.4V2114.1M253.4 2113.5V2114.7M252.5 2115.9V2117.7M255.7 2117.1V2118.2M134 2125.5V2143.6M165.6 2123.8V2131.6M187.5 2121.1V2126.5M211.2 2119.4V2122.8M236.7 2121.2V2124.4M253.4 2120.6V2121.8M253.8 2123.5V2125.3M273.2 2122.9V2124.1M186.5 2129.1V2134.1M216.2 2127.6V2130.6M239.6 2129.4V2131.7M275.6 2128.8V2130M272.8 2131.2V2132.3M267.3 2133.5V2134.7M197 2141V2145.8M209.7 2138.5V2143.5M219 2136.7V2140.2M238.6 2135.8V2137.6M245.3 2137V2138.2M241.1 2139.4V2141.1M261.8 2140.5V2141.7M269.9 2142.9V2144.1M263.8 2145.2V2146.4M95 2003H132.5M132.5 1912.8H174M174 1905.5H184.5M184.5 1894.2H202.5M202.5 1886.3H215.8M215.8 1881.7H225.9M225.9 1878.6H251.3M251.3 1879.6H253.9M253.9 1880.5H257.8M225.9 1884.8H236.4M236.4 1883.2H245.3M245.3 1884H252M236.4 1886.4H258.6M215.8 1890.9H232.5M232.5 1893.7H237.5M237.5 1892.1H243.7M243.7 1890.8H250.9M250.9 1889.9H252.7M243.7 1893.4H266.7M202.5 1902.2H223.3M223.3 1898.6H228.8M228.8 1897H262.1M228.8 1900.3H240.2M240.2 1901.8H247.8M247.8 1900.5H270.6M247.8 1903.1H250.9M250.9 1904H254.4M184.5 1916.7H212.3M212.3 1911.6H250.7M250.7 1908.8H259.3M259.3 1907.5H272.6M259.3 1910.2H264.1M264.1 1911H266.5M250.7 1914.3H257.6M257.6 1913.4H274M212.3 1921.9H223.9M223.9 1918.8H251.5M251.5 1917.2H263.4M263.4 1918.1H269.4M251.5 1920.4H258.1M223.9 1924.9H233.3M233.3 1923.1H242.8M242.8 1924H250.3M233.3 1926.7H240.9M240.9 1927.8H250.1M250.1 1928.7H273.8M174 1963.6H189.5M189.5 1942H229.9M229.9 1937.8H233.5M233.5 1933.8H239.2M239.2 1931.3H251.3M251.3 1932.2H253.8M239.2 1936.3H242.8M242.8 1934.5H257M242.8 1938H248.5M248.5 1936.9H256.3M248.5 1939.2H250.9M233.5 1941.9H246.4M246.4 1942.7H251.8M229.9 1946.3H248.8M248.8 1945.1H253.5M248.8 1947.4H256.6M189.5 1985.2H200.7M200.7 1968.7H213.7M213.7 1956.2H240.3M240.3 1952.3H243.8M243.8 1950.1H249.8M249.8 1951H265.9M243.8 1954.5H249.2M249.2 1953.3H261.9M249.2 1955.7H253.3M240.3 1960.1H249.2M249.2 1958.3H251.7M251.7 1959.2H258.4M249.2 1961.8H254.6M254.6 1962.7H272.3M213.7 1981.3H222M222 1973.1H233.5M233.5 1967.2H247.2M247.2 1965.9H248.8M248.8 1965H251.4M247.2 1968.6H253.3M233.5 1978.9H240.3M240.3 1975.2H245.9M245.9 1972.1H252.1M252.1 1970.9H276.7M252.1 1973.3H300.1M245.9 1978.2H290.9M290.9 1976.5H295M295 1975.6H297.9M290.9 1980H295.1M295.1 1979.1H299.9M240.3 1982.7H294.4M222 1989.5H282M282 1986.6H286.9M286.9 1985H294.5M286.9 1988.2H291.6M291.6 1987.3H296.5M282 1992.5H286M286 1990.9H300.5M286 1994.1H291.3M291.3 1993.2H294.9M200.7 2001.6H267.4M267.4 1996.7H299.2M267.4 2006.4H271.6M271.6 2003.7H278.8M278.8 2001.4H284.1M284.1 1999.5H288.1M288.1 2000.6H289.7M289.7 2001.4H294.5M278.8 2006.1H296.1M296.1 2005H300.3M296.1 2007.3H300.3M132.5 2093H155.5M155.5 2023H268.5M268.5 2018.6H275.6M275.6 2015.9H283.1M283.1 2013.3H286.7M286.7 2011.1H292.2M292.2 2012H298.2M286.7 2015.5H295.4M295.4 2014.3H300.5M295.4 2016.7H297.3M275.6 2021.4H290.1M290.1 2020.2H297.1M290.1 2022.6H293.1M268.5 2027.4H288.8M288.8 2025.2H294.9M294.9 2026.1H297.7M288.8 2029.6H292.5M292.5 2028.4H298.4M292.5 2030.8H298.4M155.5 2051.7H175.6M175.6 2034.9H236.9M236.9 2037.2H240.4M240.4 2034.6H289.8M289.8 2035.5H294.8M240.4 2039.7H247.6M247.6 2038.1H252.2M252.2 2039H269.9M247.6 2041.3H253.2M175.6 2068.6H184M184 2049.5H232.1M232.1 2044.4H248.3M248.3 2045.6H253.8M253.8 2046.9H258M258 2046H266M232.1 2054.6H237.3M237.3 2052.5H245.3M245.3 2050.7H253.6M253.6 2049.6H259.8M253.6 2051.9H273.3M245.3 2054.3H258M237.3 2056.6H260.9M184 2087.8H192.7M192.7 2071.2H221.5M221.5 2066.9H224M224 2063.5H232.1M232.1 2060.1H237.3M237.3 2061.7H245.5M245.5 2060.1H265M245.5 2063.4H249.7M249.7 2062.5H264.3M232.1 2066.9H253.8M253.8 2066H263.7M224 2070.4H249.3M249.3 2069.5H255.2M221.5 2075.4H244.9M244.9 2073.3H251.5M251.5 2074.2H263.1M244.9 2077.4H258.1M258.1 2076.6H264.8M192.7 2104.5H206.4M206.4 2097.2H217.8M217.8 2093.2H221M221 2087.7H227.4M227.4 2081.7H230.1M230.1 2084H238.5M238.5 2081.6H260.4M260.4 2082.4H269.1M238.5 2086.4H242.4M242.4 2088.5H251M251 2086.4H260.5M260.5 2087.4H270M270 2088.3H275.2M251 2090.7H258.7M227.4 2093.7H257.5M257.5 2095.1H261.9M261.9 2094.2H268.7M221 2098.6H243.7M243.7 2097.7H249.2M217.8 2101.2H275.5M206.4 2111.7H230.1M230.1 2108.4H235.5M235.5 2105.7H241M241 2103.6H258M241 2107.8H244.5M244.5 2106.2H247.2M247.2 2107.1H265.3M244.5 2109.4H255.7M230.1 2115H244.3M244.3 2113.2H250.1M250.1 2114.1H253.4M244.3 2116.8H252.5M252.5 2117.7H255.7M95 2135H134M134 2125.5H165.6M165.6 2123.8H187.5M187.5 2121.1H211.2M211.2 2122.8H236.7M236.7 2121.2H253.4M236.7 2124.4H253.8M253.8 2123.5H273.2M165.6 2131.6H186.5M186.5 2129.1H216.2M216.2 2130.6H239.6M239.6 2129.4H275.6M239.6 2131.7H272.8M186.5 2134.1H267.3M134 2143.6H197M197 2141H209.7M209.7 2138.5H219M219 2136.7H238.6M238.6 2137.6H245.3M219 2140.2H241.1M241.1 2141.1H261.8M209.7 2143.5H269.9M197 2145.8H263.8"/>
<path fill="#2b3466" d="M305.4 1877L252.3 1877V1878.2H254.9V1879.3H258.8V1881.7H246.3V1882.9H253V1885.2H259.6V1887.6H233.5V1888.7H253.7V1891.1H251.9V1892.3H267.7V1894.6H238.5V1895.8H263.1V1898.1H241.2V1899.3H271.6V1901.7H251.9V1902.8H255.4V1905.2H224.3V1906.3H273.6V1908.7H265.1V1909.9H267.5V1912.2H275V1914.6H258.6V1915.7H264.4V1916.9H270.4V1919.3H259.1V1921.6H243.8V1922.8H251.3V1925.1H241.9V1926.3H251.1V1927.5H274.8V1929.8H252.3V1931H254.8V1933.3H258V1935.7H257.3V1938H251.9V1940.4H247.4V1941.6H252.8V1943.9H254.5V1946.3H257.6V1948.6H250.8V1949.8H266.9V1952.1H262.9V1954.5H254.3V1956.8H252.7V1958H259.4V1960.3H255.6V1961.5H273.3V1963.9H252.4V1966.2H249.8V1967.4H254.3V1969.7H277.7V1972.1H301.1V1974.4H298.9V1976.8H296V1978H300.9V1980.3H296.1V1981.5H295.4V1986.2H297.5V1988.5H292.6V1989.7H301.5V1992H295.9V1994.4H292.3V1995.6H300.2V1997.9H289.1V1999.1H290.7V2000.3H295.5V2002.6H285.1V2003.8H301.3V2008.5H272.6V2009.7H293.2V2010.8H299.2V2013.2H301.5V2015.5H298.3V2017.9H284.1V2019H298.1V2021.4H294.1V2023.7H295.9V2024.9H298.7V2027.3H299.4V2032H237.9V2033.1H290.8V2034.3H295.8V2036.7H253.2V2037.8H270.9V2040.2H254.2V2042.5H249.3V2043.7H254.8V2044.9H267V2047.2H259V2048.4H260.8V2050.7H274.3V2053.1H259V2055.4H261.9V2057.8H238.3V2059H266V2061.3H265.3V2063.7H250.7V2064.8H264.7V2067.2H254.8V2068.3H256.2V2070.7H250.3V2071.9H252.5V2073H264.1V2075.4H265.8V2077.7H259.1V2078.9H231.1V2080.1H261.4V2081.3H270.1V2083.6H243.4V2084.8H261.5V2086H271V2087.1H276.2V2089.5H259.7V2091.8H258.5V2093H269.7V2095.3H262.9V2096.5H250.2V2098.9H244.7V2100H276.5V2102.4H259V2104.7H248.2V2105.9H266.3V2108.3H256.7V2110.6H236.5V2111.8H251.1V2113H254.4V2115.3H253.5V2116.5H256.7V2118.8H212.2V2120H254.4V2122.3H274.2V2124.7H254.8V2125.9H188.5V2127H217.2V2128.2H276.6V2130.6H273.8V2132.9H268.3V2135.3H239.6V2136.4H246.3V2138.8H242.1V2140H262.8V2142.3H270.9V2144.7H264.8V2147H305.4Z"/>
<rect x="1535" y="5.2" width="42.5" height="20.8" fill="#e0407c" stroke="#8c3056" stroke-width="0.9"/>
<rect x="1535" y="36" width="42.5" height="20.5" fill="#967cb8" stroke="#5e4e78" stroke-width="0.9"/>
<rect x="1535" y="66.8" width="42.5" height="20.2" fill="#00a8d0" stroke="#0a6c86" stroke-width="0.9"/>
<text font-size="24.85" x="1588.5" y="24.5">AKTP<tspan dy="-11.68" font-size="16.77">M/LOH</tspan></text>
<text font-size="24.85" x="1588.5" y="54.7">AKTP<tspan dy="-11.68" font-size="16.77">Null</tspan></text>
<text font-size="24.85" x="1588.5" y="85.5">AKTP<tspan dy="-11.68" font-size="16.77">M/LOH</tspan><tspan dy="11.68"> and AKTP</tspan><tspan dy="-11.68" font-size="16.77">Null</tspan></text>
<text font-size="42" font-weight="bold" x="1047.5" y="100.8">b</text>
<text font-size="29" x="1292.3" y="147.5">Stem cell pathways</text>
<text font-size="24.85" text-anchor="middle" transform="translate(1086 293) rotate(-90)"><tspan font-style="italic">z</tspan>-score</text>
<rect x="1134.2" y="158.7" width="3.6" height="96.55" fill="#000"/>
<rect x="1134.2" y="251.35" width="570.8" height="3.9" fill="#000"/>
<rect x="1127.9" y="158.7" width="7.2" height="2.8" fill="#000"/>
<rect x="1127.9" y="174.6" width="7.2" height="2.6" fill="#000"/>
<text font-size="24.85" text-anchor="end" x="1120.5" y="183.7">3</text>
<rect x="1127.9" y="189.7" width="7.2" height="2.6" fill="#000"/>
<rect x="1127.9" y="205.8" width="7.2" height="2.6" fill="#000"/>
<text font-size="24.85" text-anchor="end" x="1120.5" y="214.9">2</text>
<rect x="1127.9" y="221.7" width="7.2" height="2.6" fill="#000"/>
<rect x="1127.9" y="237.8" width="7.2" height="2.6" fill="#000"/>
<text font-size="24.85" text-anchor="end" x="1120.5" y="246.9">1</text>
<path d="M1128.1 248.1L1142.9 241" stroke="#000" stroke-width="2.1"/>
<path d="M1130 251.4L1144.8 244.3" stroke="#000" stroke-width="2.1"/>
<rect x="1148.4" y="176.1" width="25.8" height="75.7" fill="#e0407c" stroke="#8c3056" stroke-width="0.9"/>
<rect x="1244.3" y="168.8" width="25.8" height="83" fill="#e0407c" stroke="#8c3056" stroke-width="0.9"/>
<rect x="1343.6" y="220.7" width="25.8" height="31.1" fill="#e0407c" stroke="#8c3056" stroke-width="0.9"/>
<rect x="1376.4" y="210.1" width="25.8" height="41.7" fill="#e0407c" stroke="#8c3056" stroke-width="0.9"/>
<rect x="1537.6" y="210.9" width="25.8" height="40.9" fill="#e0407c" stroke="#8c3056" stroke-width="0.9"/>
<rect x="1603.5" y="203" width="25.8" height="48.8" fill="#e0407c" stroke="#8c3056" stroke-width="0.9"/>
<rect x="1637.6" y="211.9" width="25.8" height="39.9" fill="#e0407c" stroke="#8c3056" stroke-width="0.9"/>
<rect x="1134.2" y="259" width="3.6" height="63.95" fill="#000"/>
<rect x="1134.2" y="319.05" width="570.8" height="3.9" fill="#000"/>
<rect x="1127.9" y="259" width="7.2" height="2.8" fill="#000"/>
<rect x="1127.9" y="273.9" width="7.2" height="2.6" fill="#000"/>
<text font-size="24.85" text-anchor="end" x="1120.5" y="283">2</text>
<rect x="1127.9" y="291.2" width="7.2" height="2.6" fill="#000"/>
<rect x="1127.9" y="306.1" width="7.2" height="2.6" fill="#000"/>
<text font-size="24.85" text-anchor="end" x="1120.5" y="315.2">1</text>
<path d="M1128.1 316.1L1142.9 309" stroke="#000" stroke-width="2.1"/>
<path d="M1130 319.4L1144.8 312.3" stroke="#000" stroke-width="2.1"/>
<rect x="1148.2" y="284.9" width="25.8" height="34.6" fill="#967cb8" stroke="#5e4e78" stroke-width="0.9"/>
<rect x="1213.1" y="278.7" width="25.8" height="40.8" fill="#967cb8" stroke="#5e4e78" stroke-width="0.9"/>
<rect x="1277.9" y="276.7" width="25.8" height="42.8" fill="#967cb8" stroke="#5e4e78" stroke-width="0.9"/>
<rect x="1409.4" y="287.6" width="25.8" height="31.9" fill="#967cb8" stroke="#5e4e78" stroke-width="0.9"/>
<rect x="1537.6" y="276.7" width="25.8" height="42.8" fill="#967cb8" stroke="#5e4e78" stroke-width="0.9"/>
<rect x="1669.7" y="283.9" width="25.8" height="35.6" fill="#967cb8" stroke="#5e4e78" stroke-width="0.9"/>
<rect x="1134.2" y="329" width="3.6" height="93.75" fill="#000"/>
<rect x="1134.2" y="418.85" width="570.8" height="3.9" fill="#000"/>
<rect x="1127.9" y="329" width="7.2" height="2.8" fill="#000"/>
<rect x="1127.9" y="343.6" width="7.2" height="2.6" fill="#000"/>
<text font-size="24.85" text-anchor="end" x="1120.5" y="352.7">3</text>
<rect x="1127.9" y="359.3" width="7.2" height="2.6" fill="#000"/>
<rect x="1127.9" y="375.1" width="7.2" height="2.6" fill="#000"/>
<text font-size="24.85" text-anchor="end" x="1120.5" y="384.2">2</text>
<rect x="1127.9" y="390.8" width="7.2" height="2.6" fill="#000"/>
<rect x="1127.9" y="406.6" width="7.2" height="2.6" fill="#000"/>
<text font-size="24.85" text-anchor="end" x="1120.5" y="415.7">1</text>
<text font-size="24.85" text-anchor="end" x="1120.5" y="434.2">0</text>
<path d="M1128.1 416.6L1142.9 409.5" stroke="#000" stroke-width="2.1"/>
<path d="M1130 419.9L1144.8 412.8" stroke="#000" stroke-width="2.1"/>
<rect x="1147.6" y="343.6" width="25.8" height="75.7" fill="#00a8d0" stroke="#0a6c86" stroke-width="0.9"/>
<rect x="1180.6" y="345.5" width="25.8" height="73.8" fill="#00a8d0" stroke="#0a6c86" stroke-width="0.9"/>
<rect x="1212.2" y="350.9" width="25.8" height="68.4" fill="#00a8d0" stroke="#0a6c86" stroke-width="0.9"/>
<rect x="1245.1" y="354.6" width="25.8" height="64.7" fill="#00a8d0" stroke="#0a6c86" stroke-width="0.9"/>
<rect x="1277.9" y="357.5" width="25.8" height="61.8" fill="#00a8d0" stroke="#0a6c86" stroke-width="0.9"/>
<rect x="1310.6" y="362.7" width="25.8" height="56.6" fill="#00a8d0" stroke="#0a6c86" stroke-width="0.9"/>
<rect x="1342.8" y="364.4" width="25.8" height="54.9" fill="#00a8d0" stroke="#0a6c86" stroke-width="0.9"/>
<rect x="1376.4" y="368.5" width="25.8" height="50.8" fill="#00a8d0" stroke="#0a6c86" stroke-width="0.9"/>
<rect x="1409.4" y="370.6" width="25.8" height="48.7" fill="#00a8d0" stroke="#0a6c86" stroke-width="0.9"/>
<rect x="1442.2" y="374.7" width="25.8" height="44.6" fill="#00a8d0" stroke="#0a6c86" stroke-width="0.9"/>
<rect x="1474.1" y="374.7" width="25.8" height="44.6" fill="#00a8d0" stroke="#0a6c86" stroke-width="0.9"/>
<rect x="1507.3" y="374.7" width="25.8" height="44.6" fill="#00a8d0" stroke="#0a6c86" stroke-width="0.9"/>
<rect x="1538.6" y="374.7" width="25.8" height="44.6" fill="#00a8d0" stroke="#0a6c86" stroke-width="0.9"/>
<rect x="1572.6" y="374.7" width="25.8" height="44.6" fill="#00a8d0" stroke="#0a6c86" stroke-width="0.9"/>
<rect x="1604.8" y="374.7" width="25.8" height="44.6" fill="#00a8d0" stroke="#0a6c86" stroke-width="0.9"/>
<rect x="1637.6" y="376.4" width="25.8" height="42.9" fill="#00a8d0" stroke="#0a6c86" stroke-width="0.9"/>
<rect x="1670.3" y="376.4" width="25.8" height="42.9" fill="#00a8d0" stroke="#0a6c86" stroke-width="0.9"/>
<text font-size="24.85" text-anchor="end" transform="translate(1173.4 438.5) rotate(-47.5)">CTNNB1</text>
<text font-size="24.85" text-anchor="end" transform="translate(1206.03 438.5) rotate(-47.5)">SOX11</text>
<text font-size="24.85" text-anchor="end" transform="translate(1240.16 438.5) rotate(-47.5)">WNT3A</text>
<text font-size="24.85" text-anchor="end" transform="translate(1271.29 438.5) rotate(-47.5)">SMARCA4</text>
<text font-size="24.85" text-anchor="end" transform="translate(1302.12 438.5) rotate(-47.5)">WNT1</text>
<text font-size="24.85" text-anchor="end" transform="translate(1336.55 438.5) rotate(-47.5)">RARG</text>
<text font-size="24.85" text-anchor="end" transform="translate(1367.38 438.5) rotate(-47.5)">EPHB4</text>
<text font-size="24.85" text-anchor="end" transform="translate(1399.31 438.5) rotate(-47.5)">GATA2</text>
<text font-size="24.85" text-anchor="end" transform="translate(1432.44 439.5) rotate(-47.5)">SOX4</text>
<text font-size="24.85" text-anchor="end" transform="translate(1465.27 439.5) rotate(-47.5)">WLS</text>
<text font-size="24.85" text-anchor="end" transform="translate(1498.8 439.5) rotate(-47.5)">HOXB3</text>
<text font-size="24.85" text-anchor="end" transform="translate(1526.23 439.5) rotate(-47.5)">ILK</text>
<text font-size="24.85" text-anchor="end" transform="translate(1558.86 439.5) rotate(-47.5)">FOXC2</text>
<text font-size="24.85" text-anchor="end" transform="translate(1595.79 439.5) rotate(-47.5)">LGR4</text>
<text font-size="24.85" text-anchor="end" transform="translate(1625.72 439.5) rotate(-47.5)">β-catenin/TCF</text>
<text font-size="24.85" text-anchor="end" transform="translate(1660.35 439.5) rotate(-47.5)">BMP2</text>
<text font-size="24.85" text-anchor="end" transform="translate(1693.68 439.5) rotate(-47.5)">POU5F1</text>
<text font-size="42" font-weight="bold" x="1048.5" y="613">c</text>
<text font-size="29" x="1219.5" y="615.6">Growth factor/MAPK pathways</text>
<text font-size="24.85" text-anchor="middle" transform="translate(1066 760.4) rotate(-90)"><tspan font-style="italic">z</tspan>-score</text>
<rect x="1136.2" y="632" width="3.6" height="109.95" fill="#000"/>
<rect x="1136.2" y="738.05" width="569.8" height="3.9" fill="#000"/>
<rect x="1129.2" y="632" width="7.2" height="3.4" fill="#000"/>
<text font-size="24.85" text-anchor="end" x="1119.5" y="641.1">4</text>
<rect x="1129.2" y="649.8" width="7.2" height="3.4" fill="#000"/>
<rect x="1129.2" y="667.5" width="7.2" height="3.4" fill="#000"/>
<text font-size="24.85" text-anchor="end" x="1119.5" y="677">3</text>
<rect x="1129.2" y="686.1" width="7.2" height="3.4" fill="#000"/>
<rect x="1129.2" y="704.2" width="7.2" height="3.4" fill="#000"/>
<text font-size="24.85" text-anchor="end" x="1119.5" y="713.7">2</text>
<rect x="1129.2" y="722.3" width="7.2" height="3.4" fill="#000"/>
<path d="M1128.6 732.5L1144 721.7" stroke="#000" stroke-width="2.2"/>
<path d="M1131.5 736.8L1146.9 726" stroke="#000" stroke-width="2.2"/>
<rect x="1148.2" y="638.7" width="25.9" height="99.5" fill="#e0407c" stroke="#8c3056" stroke-width="0.9"/>
<rect x="1185.45" y="640.5" width="25.9" height="97.7" fill="#e0407c" stroke="#8c3056" stroke-width="0.9"/>
<rect x="1222.7" y="639.5" width="25.9" height="98.7" fill="#e0407c" stroke="#8c3056" stroke-width="0.9"/>
<rect x="1259.95" y="639.5" width="25.9" height="98.7" fill="#e0407c" stroke="#8c3056" stroke-width="0.9"/>
<rect x="1297.2" y="644.5" width="25.9" height="93.7" fill="#e0407c" stroke="#8c3056" stroke-width="0.9"/>
<rect x="1334.45" y="649.7" width="25.9" height="88.5" fill="#e0407c" stroke="#8c3056" stroke-width="0.9"/>
<rect x="1371.7" y="651.5" width="25.9" height="86.7" fill="#e0407c" stroke="#8c3056" stroke-width="0.9"/>
<rect x="1408.95" y="659.4" width="25.9" height="78.8" fill="#e0407c" stroke="#8c3056" stroke-width="0.9"/>
<rect x="1446.2" y="657.5" width="25.9" height="80.7" fill="#e0407c" stroke="#8c3056" stroke-width="0.9"/>
<rect x="1483.45" y="662.5" width="25.9" height="75.7" fill="#e0407c" stroke="#8c3056" stroke-width="0.9"/>
<rect x="1520.7" y="662.5" width="25.9" height="75.7" fill="#e0407c" stroke="#8c3056" stroke-width="0.9"/>
<rect x="1557.95" y="679.5" width="25.9" height="58.7" fill="#e0407c" stroke="#8c3056" stroke-width="0.9"/>
<rect x="1595.2" y="680.6" width="25.9" height="57.6" fill="#e0407c" stroke="#8c3056" stroke-width="0.9"/>
<rect x="1632.45" y="684.7" width="25.9" height="53.5" fill="#e0407c" stroke="#8c3056" stroke-width="0.9"/>
<rect x="1669.7" y="695.5" width="25.9" height="42.7" fill="#e0407c" stroke="#8c3056" stroke-width="0.9"/>
<rect x="1136.2" y="753.5" width="3.6" height="61.15" fill="#000"/>
<rect x="1136.2" y="810.75" width="569.8" height="3.9" fill="#000"/>
<rect x="1129.2" y="753.5" width="7.2" height="3.4" fill="#000"/>
<text font-size="24.85" text-anchor="end" x="1119.5" y="762.8">2.5</text>
<rect x="1129.2" y="773.3" width="7.2" height="3.4" fill="#000"/>
<text font-size="24.85" text-anchor="end" x="1119.5" y="782.8">2</text>
<rect x="1129.2" y="791.9" width="7.2" height="3.4" fill="#000"/>
<path d="M1128.6 804.9L1144 794.1" stroke="#000" stroke-width="2.2"/>
<path d="M1131.5 809.2L1146.9 798.4" stroke="#000" stroke-width="2.2"/>
<rect x="1559.95" y="755.8" width="23.9" height="55.4" fill="#967cb8" stroke="#5e4e78" stroke-width="0.9"/>
<rect x="1136.2" y="827" width="3.6" height="79.35" fill="#000"/>
<rect x="1136.2" y="902.45" width="569.8" height="3.9" fill="#000"/>
<rect x="1129.2" y="827" width="7.2" height="3.4" fill="#000"/>
<text font-size="24.85" text-anchor="end" x="1119.5" y="837.5">3</text>
<rect x="1129.2" y="847" width="7.2" height="3.4" fill="#000"/>
<rect x="1129.2" y="865.3" width="7.2" height="3.4" fill="#000"/>
<text font-size="24.85" text-anchor="end" x="1119.5" y="874.8">2</text>
<rect x="1129.2" y="883.7" width="7.2" height="3.4" fill="#000"/>
<text font-size="24.85" text-anchor="end" x="1119.5" y="913.6">0</text>
<path d="M1128.6 896.4L1144 885.6" stroke="#000" stroke-width="2.2"/>
<path d="M1131.5 900.7L1146.9 889.9" stroke="#000" stroke-width="2.2"/>
<rect x="1408.95" y="878.8" width="25.9" height="24.1" fill="#00a8d0" stroke="#0a6c86" stroke-width="0.9"/>
<rect x="1520.7" y="823.6" width="25.9" height="79.3" fill="#00a8d0" stroke="#0a6c86" stroke-width="0.9"/>
<rect x="1295.7" y="858.7" width="25.9" height="44.2" fill="#00a8d0" stroke="#0a6c86" stroke-width="0.9"/>
<rect x="1448.2" y="883.8" width="25.9" height="19.1" fill="#00a8d0" stroke="#0a6c86" stroke-width="0.9"/>
<rect x="1559.95" y="827.6" width="23.9" height="75.3" fill="#00a8d0" stroke="#0a6c86" stroke-width="0.9"/>
<text font-size="24.85" text-anchor="end" transform="translate(1175.15 923.9) rotate(-47.5)">VEGFA</text>
<text font-size="24.85" text-anchor="end" transform="translate(1210.9 923.9) rotate(-47.5)">EGF</text>
<text font-size="24.85" text-anchor="end" transform="translate(1247.25 923.9) rotate(-47.5)">VEGF</text>
<text font-size="24.85" text-anchor="end" transform="translate(1284.5 923.9) rotate(-47.5)">RAF1</text>
<text font-size="24.85" text-anchor="end" transform="translate(1320.85 923.9) rotate(-47.5)">CEBPB</text>
<text font-size="24.85" text-anchor="end" transform="translate(1359 923.9) rotate(-47.5)">PDGF BB</text>
<text font-size="24.85" text-anchor="end" transform="translate(1394.65 923.9) rotate(-47.5)">HGF</text>
<text font-size="24.85" text-anchor="end" transform="translate(1431.9 923.9) rotate(-47.5)">ERK</text>
<text font-size="24.85" text-anchor="end" transform="translate(1468.15 923.9) rotate(-47.5)">P38 MAPK</text>
<text font-size="24.85" text-anchor="end" transform="translate(1505.4 923.9) rotate(-47.5)">PI3K</text>
<text font-size="24.85" text-anchor="end" transform="translate(1545.25 923.9) rotate(-47.5)">JUN</text>
<text font-size="24.85" text-anchor="end" transform="translate(1579.9 923.9) rotate(-47.5)">FGF2</text>
<text font-size="24.85" text-anchor="end" transform="translate(1617.15 923.9) rotate(-47.5)">ERBB2</text>
<text font-size="24.85" text-anchor="end" transform="translate(1654.4 923.9) rotate(-47.5)">MAPK14</text>
<text font-size="24.85" text-anchor="end" transform="translate(1694.25 923.9) rotate(-47.5)">KITLG</text>
<text font-size="42" font-weight="bold" x="1050" y="1085">d</text>
<text font-size="29" x="1269" y="1075.8">Inflammatory pathways</text>
<text font-size="24.85" text-anchor="middle" transform="translate(1086.5 1284) rotate(-90)"><tspan font-style="italic">z</tspan>-score</text>
<rect x="1134.7" y="1072.4" width="3.6" height="206.55" fill="#000"/>
<rect x="1134.7" y="1275.05" width="612.3" height="3.9" fill="#000"/>
<rect x="1127.7" y="1072.4" width="7.2" height="3.2" fill="#000"/>
<text font-size="24.85" text-anchor="end" x="1119.5" y="1082.3">6</text>
<rect x="1127.7" y="1113.7" width="7.2" height="3.2" fill="#000"/>
<text font-size="24.85" text-anchor="end" x="1119.5" y="1123.1">5</text>
<rect x="1127.7" y="1154.2" width="7.2" height="3.2" fill="#000"/>
<text font-size="24.85" text-anchor="end" x="1119.5" y="1163.6">4</text>
<rect x="1127.7" y="1195" width="7.2" height="3.2" fill="#000"/>
<text font-size="24.85" text-anchor="end" x="1119.5" y="1204.4">3</text>
<rect x="1127.7" y="1235" width="7.2" height="3.2" fill="#000"/>
<text font-size="24.85" text-anchor="end" x="1119.5" y="1244.4">2</text>
<path d="M1128.6 1261.3L1143.4 1246.7" stroke="#000" stroke-width="2.3"/>
<path d="M1131.2 1266.3L1146 1251.7" stroke="#000" stroke-width="2.3"/>
<rect x="1146.6" y="1099.8" width="24.4" height="175.7" fill="#e0407c" stroke="#8c3056" stroke-width="0.9"/>
<rect x="1183.65" y="1116.8" width="24.4" height="158.7" fill="#e0407c" stroke="#8c3056" stroke-width="0.9"/>
<rect x="1220.7" y="1129.6" width="24.4" height="145.9" fill="#e0407c" stroke="#8c3056" stroke-width="0.9"/>
<rect x="1257.75" y="1130.4" width="24.4" height="145.1" fill="#e0407c" stroke="#8c3056" stroke-width="0.9"/>
<rect x="1294.8" y="1148.5" width="24.4" height="127" fill="#e0407c" stroke="#8c3056" stroke-width="0.9"/>
<rect x="1331.85" y="1148.5" width="24.4" height="127" fill="#e0407c" stroke="#8c3056" stroke-width="0.9"/>
<rect x="1368.9" y="1154.5" width="24.4" height="121" fill="#e0407c" stroke="#8c3056" stroke-width="0.9"/>
<rect x="1405.95" y="1164.4" width="24.4" height="111.1" fill="#e0407c" stroke="#8c3056" stroke-width="0.9"/>
<rect x="1443" y="1173.4" width="24.4" height="102.1" fill="#e0407c" stroke="#8c3056" stroke-width="0.9"/>
<rect x="1480.05" y="1174.4" width="24.4" height="101.1" fill="#e0407c" stroke="#8c3056" stroke-width="0.9"/>
<rect x="1517.1" y="1174.4" width="24.4" height="101.1" fill="#e0407c" stroke="#8c3056" stroke-width="0.9"/>
<rect x="1554.15" y="1177.5" width="24.4" height="98" fill="#e0407c" stroke="#8c3056" stroke-width="0.9"/>
<rect x="1591.2" y="1176.3" width="24.4" height="99.2" fill="#e0407c" stroke="#8c3056" stroke-width="0.9"/>
<rect x="1628.25" y="1184.4" width="24.4" height="91.1" fill="#e0407c" stroke="#8c3056" stroke-width="0.9"/>
<rect x="1665.3" y="1184.4" width="24.4" height="91.1" fill="#e0407c" stroke="#8c3056" stroke-width="0.9"/>
<rect x="1702.35" y="1186.4" width="24.4" height="89.1" fill="#e0407c" stroke="#8c3056" stroke-width="0.9"/>
<rect x="1134.7" y="1291" width="3.6" height="85.65" fill="#000"/>
<rect x="1134.7" y="1372.75" width="614.8" height="3.9" fill="#000"/>
<rect x="1127.7" y="1291" width="7.2" height="3.2" fill="#000"/>
<text font-size="24.85" text-anchor="end" x="1122" y="1300.6">3</text>
<rect x="1127.7" y="1333.7" width="7.2" height="3.2" fill="#000"/>
<text font-size="24.85" text-anchor="end" x="1122" y="1343.1">2</text>
<path d="M1128.6 1360.3L1143.4 1345.7" stroke="#000" stroke-width="2.3"/>
<path d="M1131.2 1365.3L1146 1350.7" stroke="#000" stroke-width="2.3"/>
<rect x="1146.1" y="1321.6" width="25.2" height="51.6" fill="#967cb8" stroke="#5e4e78" stroke-width="0.9"/>
<rect x="1183.15" y="1336.8" width="25.2" height="36.4" fill="#967cb8" stroke="#5e4e78" stroke-width="0.9"/>
<rect x="1257.25" y="1296.9" width="25.2" height="76.3" fill="#967cb8" stroke="#5e4e78" stroke-width="0.9"/>
<rect x="1331.35" y="1302.8" width="25.2" height="70.4" fill="#967cb8" stroke="#5e4e78" stroke-width="0.9"/>
<rect x="1368.4" y="1311" width="25.2" height="62.2" fill="#967cb8" stroke="#5e4e78" stroke-width="0.9"/>
<rect x="1405.45" y="1326.6" width="25.2" height="46.6" fill="#967cb8" stroke="#5e4e78" stroke-width="0.9"/>
<rect x="1479.55" y="1352.7" width="25.2" height="20.5" fill="#967cb8" stroke="#5e4e78" stroke-width="0.9"/>
<rect x="1139.2" y="1388" width="3.6" height="118.25" fill="#000"/>
<rect x="1139.2" y="1502.35" width="612.1" height="3.9" fill="#000"/>
<rect x="1132.2" y="1388" width="7.2" height="3.2" fill="#000"/>
<text font-size="24.85" text-anchor="end" x="1125" y="1397.3">4</text>
<rect x="1132.2" y="1427.7" width="7.2" height="3.2" fill="#000"/>
<text font-size="24.85" text-anchor="end" x="1125" y="1437.1">3</text>
<rect x="1132.2" y="1468.5" width="7.2" height="3.2" fill="#000"/>
<text font-size="24.85" text-anchor="end" x="1125" y="1477.9">2</text>
<text font-size="24.85" text-anchor="end" x="1125" y="1516.3">0</text>
<path d="M1133.1 1491.3L1147.9 1476.7" stroke="#000" stroke-width="2.3"/>
<path d="M1135.7 1496.3L1150.5 1481.7" stroke="#000" stroke-width="2.3"/>
<rect x="1220.7" y="1394.8" width="23.8" height="108" fill="#00a8d0" stroke="#0a6c86" stroke-width="0.9"/>
<rect x="1331.85" y="1451.9" width="23.8" height="50.9" fill="#00a8d0" stroke="#0a6c86" stroke-width="0.9"/>
<rect x="1368.9" y="1484.6" width="23.8" height="18.2" fill="#00a8d0" stroke="#0a6c86" stroke-width="0.9"/>
<rect x="1480.05" y="1477.8" width="23.8" height="25" fill="#00a8d0" stroke="#0a6c86" stroke-width="0.9"/>
<rect x="1149.7" y="1462.6" width="23.8" height="40.2" fill="#00a8d0" stroke="#0a6c86" stroke-width="0.9"/>
<text font-size="24.85" text-anchor="end" transform="translate(1167.8 1523.8) rotate(-47.5)">Lipopolysaccharide</text>
<text font-size="24.85" text-anchor="end" transform="translate(1208.85 1523.8) rotate(-47.5)">TNF</text>
<text font-size="24.85" text-anchor="end" transform="translate(1246.9 1523.8) rotate(-47.5)">TGFβ1</text>
<text font-size="24.85" text-anchor="end" transform="translate(1283.95 1523.8) rotate(-47.5)">IL1β</text>
<text font-size="24.85" text-anchor="end" transform="translate(1317.5 1523.8) rotate(-47.5)">poly yl:rC-RNA</text>
<text font-size="24.85" text-anchor="end" transform="translate(1355.55 1523.8) rotate(-47.5)">NFkB</text>
<text font-size="24.85" text-anchor="end" transform="translate(1391.1 1523.8) rotate(-47.5)">HIF1A</text>
<text font-size="24.85" text-anchor="end" transform="translate(1429.65 1523.8) rotate(-47.5)">IKBKB</text>
<text font-size="24.85" text-anchor="end" transform="translate(1465.7 1523.8) rotate(-47.5)">CSF2</text>
<text font-size="24.85" text-anchor="end" transform="translate(1503.75 1523.8) rotate(-47.5)">IL6</text>
<text font-size="24.85" text-anchor="end" transform="translate(1538.3 1523.8) rotate(-47.5)">IFN-alpha</text>
<text font-size="24.85" text-anchor="end" transform="translate(1575.35 1523.8) rotate(-47.5)">IFN-gamma</text>
<text font-size="24.85" text-anchor="end" transform="translate(1612.4 1523.8) rotate(-47.5)">S100A9</text>
<text font-size="24.85" text-anchor="end" transform="translate(1649.45 1523.8) rotate(-47.5)">IL4</text>
<text font-size="24.85" text-anchor="end" transform="translate(1689 1523.8) rotate(-47.5)">IL17A</text>
<text font-size="24.85" text-anchor="end" transform="translate(1725.05 1523.8) rotate(-47.5)">IL18</text>
<text font-size="42" font-weight="bold" x="975.8" y="1744.6">e</text>
<text font-size="24.85" x="1019.6" y="1756.2">AKTP<tspan dy="-11.68" font-size="16.77">M/LOH</tspan></text>
<text font-size="24.85" text-anchor="middle" x="1078.3" y="1781.5">organoid</text>
<text font-size="24.85" text-anchor="middle" x="1254.2" y="1753.9">Trypsin-dissociated</text>
<text font-size="24.85" text-anchor="middle" x="1253.8" y="1778.3">single cells</text>
<path d="M1053.55 1832.53C1053.55 1819.95 1064.93 1809.47 1079.91 1809.47C1094.88 1809.47 1106.42 1819.95 1106.42 1832.53" fill="#f5cf68" stroke="#000" stroke-width="4.2"/>
<ellipse rx="2.4" ry="1.3" transform="translate(1069.42 1817.71) rotate(70)" fill="#cf86c4" stroke="#7468c0" stroke-width="0.9"/>
<ellipse rx="2.4" ry="1.3" transform="translate(1074.67 1819.95) rotate(-20)" fill="#cf86c4" stroke="#7468c0" stroke-width="0.9"/>
<ellipse rx="2.4" ry="1.3" transform="translate(1081.11 1816.66) rotate(80)" fill="#cf86c4" stroke="#7468c0" stroke-width="0.9"/>
<ellipse rx="2.4" ry="1.3" transform="translate(1087.4 1817.71) rotate(70)" fill="#cf86c4" stroke="#7468c0" stroke-width="0.9"/>
<ellipse rx="2.4" ry="1.3" transform="translate(1096.38 1818.46) rotate(80)" fill="#cf86c4" stroke="#7468c0" stroke-width="0.9"/>
<ellipse rx="2.4" ry="1.3" transform="translate(1064.18 1820.7) rotate(-20)" fill="#cf86c4" stroke="#7468c0" stroke-width="0.9"/>
<ellipse rx="2.4" ry="1.3" transform="translate(1068.23 1823.7) rotate(70)" fill="#cf86c4" stroke="#7468c0" stroke-width="0.9"/>
<ellipse rx="2.4" ry="1.3" transform="translate(1076.16 1825.49) rotate(30)" fill="#cf86c4" stroke="#7468c0" stroke-width="0.9"/>
<ellipse rx="2.4" ry="1.3" transform="translate(1082.15 1823.25) rotate(60)" fill="#cf86c4" stroke="#7468c0" stroke-width="0.9"/>
<ellipse rx="2.4" ry="1.3" transform="translate(1086.65 1827.44) rotate(70)" fill="#cf86c4" stroke="#7468c0" stroke-width="0.9"/>
<ellipse rx="2.4" ry="1.3" transform="translate(1090.39 1822.2) rotate(-50)" fill="#cf86c4" stroke="#7468c0" stroke-width="0.9"/>
<ellipse rx="2.4" ry="1.3" transform="translate(1094.14 1826.69) rotate(70)" fill="#cf86c4" stroke="#7468c0" stroke-width="0.9"/>
<ellipse rx="2.4" ry="1.3" transform="translate(1099.38 1824.15) rotate(-40)" fill="#cf86c4" stroke="#7468c0" stroke-width="0.9"/>
<ellipse rx="2.4" ry="1.3" transform="translate(1061.19 1825.94) rotate(30)" fill="#cf86c4" stroke="#7468c0" stroke-width="0.9"/>
<ellipse rx="2.4" ry="1.3" transform="translate(1070.92 1829.24) rotate(10)" fill="#cf86c4" stroke="#7468c0" stroke-width="0.9"/>
<path d="M1036.77 1804.23V1833.13H1122.44V1804.23" fill="none" stroke="#000" stroke-width="3.3"/>
<path d="M1135.1 1820L1168.1 1820" stroke="#000" stroke-width="3.4"/>
<path d="M1180.6 1820L1167.1 1813.7L1167.1 1826.3Z" fill="#000"/>
<circle cx="1206.76" cy="1804.23" r="1.5" fill="#e672a8" stroke="#7d70cc" stroke-width="1.2"/>
<circle cx="1221.89" cy="1805.43" r="1.5" fill="#e672a8" stroke="#7d70cc" stroke-width="1.2"/>
<circle cx="1232.37" cy="1807.22" r="1.5" fill="#e672a8" stroke="#7d70cc" stroke-width="1.2"/>
<circle cx="1241.36" cy="1804.98" r="1.5" fill="#e672a8" stroke="#7d70cc" stroke-width="1.2"/>
<circle cx="1196.73" cy="1809.17" r="1.5" fill="#e672a8" stroke="#7d70cc" stroke-width="1.2"/>
<circle cx="1203.91" cy="1809.92" r="1.5" fill="#e672a8" stroke="#7d70cc" stroke-width="1.2"/>
<circle cx="1210.95" cy="1811.42" r="1.5" fill="#e672a8" stroke="#7d70cc" stroke-width="1.2"/>
<circle cx="1222.64" cy="1811.72" r="1.5" fill="#e672a8" stroke="#7d70cc" stroke-width="1.2"/>
<circle cx="1246.6" cy="1810.22" r="1.5" fill="#e672a8" stroke="#7d70cc" stroke-width="1.2"/>
<circle cx="1194.18" cy="1817.71" r="1.5" fill="#e672a8" stroke="#7d70cc" stroke-width="1.2"/>
<circle cx="1199.42" cy="1815.46" r="1.5" fill="#e672a8" stroke="#7d70cc" stroke-width="1.2"/>
<circle cx="1205.71" cy="1817.71" r="1.5" fill="#e672a8" stroke="#7d70cc" stroke-width="1.2"/>
<circle cx="1215" cy="1817.71" r="1.5" fill="#e672a8" stroke="#7d70cc" stroke-width="1.2"/>
<circle cx="1224.88" cy="1817.71" r="1.5" fill="#e672a8" stroke="#7d70cc" stroke-width="1.2"/>
<circle cx="1231.17" cy="1816.96" r="1.5" fill="#e672a8" stroke="#7d70cc" stroke-width="1.2"/>
<circle cx="1237.46" cy="1819.2" r="1.5" fill="#e672a8" stroke="#7d70cc" stroke-width="1.2"/>
<circle cx="1247.35" cy="1816.21" r="1.5" fill="#e672a8" stroke="#7d70cc" stroke-width="1.2"/>
<circle cx="1201.22" cy="1824" r="1.5" fill="#e672a8" stroke="#7d70cc" stroke-width="1.2"/>
<circle cx="1193.73" cy="1827.44" r="1.5" fill="#e672a8" stroke="#7d70cc" stroke-width="1.2"/>
<circle cx="1205.26" cy="1829.39" r="1.5" fill="#e672a8" stroke="#7d70cc" stroke-width="1.2"/>
<circle cx="1210.65" cy="1825.64" r="1.5" fill="#e672a8" stroke="#7d70cc" stroke-width="1.2"/>
<circle cx="1220.69" cy="1824.45" r="1.5" fill="#e672a8" stroke="#7d70cc" stroke-width="1.2"/>
<circle cx="1230.12" cy="1827.74" r="1.5" fill="#e672a8" stroke="#7d70cc" stroke-width="1.2"/>
<circle cx="1242.11" cy="1828.64" r="1.5" fill="#e672a8" stroke="#7d70cc" stroke-width="1.2"/>
<circle cx="1250.19" cy="1826.39" r="1.5" fill="#e672a8" stroke="#7d70cc" stroke-width="1.2"/>
<circle cx="1191.48" cy="1835.98" r="1.5" fill="#e672a8" stroke="#7d70cc" stroke-width="1.2"/>
<circle cx="1203.91" cy="1837.48" r="1.5" fill="#e672a8" stroke="#7d70cc" stroke-width="1.2"/>
<circle cx="1213.95" cy="1833.13" r="1.5" fill="#e672a8" stroke="#7d70cc" stroke-width="1.2"/>
<circle cx="1222.19" cy="1833.43" r="1.5" fill="#e672a8" stroke="#7d70cc" stroke-width="1.2"/>
<circle cx="1231.62" cy="1835.98" r="1.5" fill="#e672a8" stroke="#7d70cc" stroke-width="1.2"/>
<circle cx="1242.11" cy="1837.48" r="1.5" fill="#e672a8" stroke="#7d70cc" stroke-width="1.2"/>
<circle cx="1256.33" cy="1833.88" r="1.5" fill="#e672a8" stroke="#7d70cc" stroke-width="1.2"/>
<path d="M1260 1820L1294.5 1820" stroke="#000" stroke-width="3.4"/>
<path d="M1307 1820L1293.5 1813.7L1293.5 1826.3Z" fill="#000"/>
<path d="M1318.2 1807.4V1826H1401.9V1807.4" fill="none" stroke="#000" stroke-width="3.2"/>
<text font-size="24.85" text-anchor="middle" x="1357.5" y="1816.8">1</text>
<text font-size="24.85" text-anchor="middle" x="1365" y="1855.5">96-well plate</text>
<rect x="1066" y="1881" width="16" height="5" fill="#000"/>
<text font-size="29" text-anchor="end" x="1052.2" y="1893.8">20</text>
<rect x="1066" y="1981.8" width="16" height="5" fill="#000"/>
<text font-size="29" text-anchor="end" x="1052.2" y="1994.6">15</text>
<rect x="1066" y="2083" width="16" height="5" fill="#000"/>
<text font-size="29" text-anchor="end" x="1052.2" y="2095.8">10</text>
<rect x="1066" y="2187.3" width="16" height="5" fill="#000"/>
<text font-size="29" text-anchor="end" x="1052.2" y="2200.1">5</text>
<text font-size="29" text-anchor="end" x="1052.2" y="2299.3">0</text>
<rect x="1081" y="1881" width="5.2" height="411" fill="#000"/>
<rect x="1064.3" y="2286" width="312.7" height="6" fill="#000"/>
<text font-size="29" text-anchor="middle" transform="translate(998.6 2086) rotate(-90)">Cloning efficiency (%)</text>
<path d="M1114.5 2286V1977.5H1169.8V2286" fill="#fff" stroke="#000" stroke-width="5"/>
<path d="M1140.9 1922.6V2027.8M1128.4 1922.6H1153.4M1128.4 2027.8H1153.4" stroke="#000" stroke-width="3.4" fill="none"/>
<circle cx="1142" cy="1927.5" r="7"/>
<circle cx="1130.5" cy="1939" r="7"/>
<circle cx="1150" cy="1972" r="7"/>
<circle cx="1141.4" cy="2050.7" r="7"/>
<path d="M1140.9 1911.7V1902.2H1223.5V2151" stroke="#000" stroke-width="3.2" fill="none"/>
<text font-size="24.85" x="1124.2" y="1892.4"><tspan font-style="italic">p</tspan> = 0.0003</text>
<path d="M1199.3 2286V2234.9H1254.2V2286" fill="#fff" stroke="#808080" stroke-width="5"/>
<path d="M1226.4 2193.5V2264M1214.1 2193.5H1238.7M1214.1 2264H1238.7" stroke="#000" stroke-width="3.4" fill="none"/>
<circle cx="1226.4" cy="2187.8" r="7"/>
<circle cx="1226.4" cy="2224.9" r="7"/>
<circle cx="1234.2" cy="2243.3" r="7"/>
<circle cx="1216.3" cy="2267" r="7"/>
<text font-size="29" x="1300.7" y="2268.4">ND</text>
<circle cx="1306.5" cy="2286.3" r="7"/>
<circle cx="1318" cy="2286.3" r="7"/>
<circle cx="1329.5" cy="2286.3" r="7"/>
<circle cx="1341.6" cy="2286.3" r="7"/>
<text font-size="29" x="1111.8" y="2322.3">cont</text>
<text font-size="29" x="1194.7" y="2322.3">1 nM</text>
<text font-size="29" x="1285.5" y="2322.3">10 nM</text>
<rect x="1187.5" y="2332.4" width="185.2" height="4" fill="#000"/>
<text font-size="29" x="1212" y="2368.3">Trametinib</text>
<text font-size="42" font-weight="bold" x="1436.5" y="1741.8">f</text>
<text font-size="24.85" x="1510.1" y="1747.5">AKTP<tspan dy="-11.68" font-size="16.77">M/LOH</tspan></text>
<text font-size="24.85" text-anchor="middle" x="1568.8" y="1772">organoid</text>
<text font-size="24.85" text-anchor="middle" x="1743.2" y="1746">Trypsin-dissociated</text>
<text font-size="24.85" text-anchor="middle" x="1742.9" y="1770.6">single cells</text>
<path d="M1544.05 1823.23C1544.05 1810.65 1555.43 1800.17 1570.41 1800.17C1585.38 1800.17 1596.92 1810.65 1596.92 1823.23" fill="#f5cf68" stroke="#000" stroke-width="4.2"/>
<ellipse rx="2.4" ry="1.3" transform="translate(1559.92 1808.41) rotate(70)" fill="#cf86c4" stroke="#7468c0" stroke-width="0.9"/>
<ellipse rx="2.4" ry="1.3" transform="translate(1565.17 1810.65) rotate(-20)" fill="#cf86c4" stroke="#7468c0" stroke-width="0.9"/>
<ellipse rx="2.4" ry="1.3" transform="translate(1571.61 1807.36) rotate(80)" fill="#cf86c4" stroke="#7468c0" stroke-width="0.9"/>
<ellipse rx="2.4" ry="1.3" transform="translate(1577.9 1808.41) rotate(70)" fill="#cf86c4" stroke="#7468c0" stroke-width="0.9"/>
<ellipse rx="2.4" ry="1.3" transform="translate(1586.88 1809.16) rotate(80)" fill="#cf86c4" stroke="#7468c0" stroke-width="0.9"/>
<ellipse rx="2.4" ry="1.3" transform="translate(1554.68 1811.4) rotate(-20)" fill="#cf86c4" stroke="#7468c0" stroke-width="0.9"/>
<ellipse rx="2.4" ry="1.3" transform="translate(1558.73 1814.4) rotate(70)" fill="#cf86c4" stroke="#7468c0" stroke-width="0.9"/>
<ellipse rx="2.4" ry="1.3" transform="translate(1566.66 1816.19) rotate(30)" fill="#cf86c4" stroke="#7468c0" stroke-width="0.9"/>
<ellipse rx="2.4" ry="1.3" transform="translate(1572.65 1813.95) rotate(60)" fill="#cf86c4" stroke="#7468c0" stroke-width="0.9"/>
<ellipse rx="2.4" ry="1.3" transform="translate(1577.15 1818.14) rotate(70)" fill="#cf86c4" stroke="#7468c0" stroke-width="0.9"/>
<ellipse rx="2.4" ry="1.3" transform="translate(1580.89 1812.9) rotate(-50)" fill="#cf86c4" stroke="#7468c0" stroke-width="0.9"/>
<ellipse rx="2.4" ry="1.3" transform="translate(1584.64 1817.39) rotate(70)" fill="#cf86c4" stroke="#7468c0" stroke-width="0.9"/>
<ellipse rx="2.4" ry="1.3" transform="translate(1589.88 1814.85) rotate(-40)" fill="#cf86c4" stroke="#7468c0" stroke-width="0.9"/>
<ellipse rx="2.4" ry="1.3" transform="translate(1551.69 1816.64) rotate(30)" fill="#cf86c4" stroke="#7468c0" stroke-width="0.9"/>
<ellipse rx="2.4" ry="1.3" transform="translate(1561.42 1819.94) rotate(10)" fill="#cf86c4" stroke="#7468c0" stroke-width="0.9"/>
<path d="M1527.27 1794.93V1823.83H1612.94V1794.93" fill="none" stroke="#000" stroke-width="3.3"/>
<path d="M1625.6 1810.7L1658.6 1810.7" stroke="#000" stroke-width="3.4"/>
<path d="M1671.1 1810.7L1657.6 1804.4L1657.6 1817Z" fill="#000"/>
<circle cx="1697.26" cy="1794.93" r="1.5" fill="#e672a8" stroke="#7d70cc" stroke-width="1.2"/>
<circle cx="1712.39" cy="1796.13" r="1.5" fill="#e672a8" stroke="#7d70cc" stroke-width="1.2"/>
<circle cx="1722.87" cy="1797.92" r="1.5" fill="#e672a8" stroke="#7d70cc" stroke-width="1.2"/>
<circle cx="1731.86" cy="1795.68" r="1.5" fill="#e672a8" stroke="#7d70cc" stroke-width="1.2"/>
<circle cx="1687.23" cy="1799.87" r="1.5" fill="#e672a8" stroke="#7d70cc" stroke-width="1.2"/>
<circle cx="1694.41" cy="1800.62" r="1.5" fill="#e672a8" stroke="#7d70cc" stroke-width="1.2"/>
<circle cx="1701.45" cy="1802.12" r="1.5" fill="#e672a8" stroke="#7d70cc" stroke-width="1.2"/>
<circle cx="1713.14" cy="1802.42" r="1.5" fill="#e672a8" stroke="#7d70cc" stroke-width="1.2"/>
<circle cx="1737.1" cy="1800.92" r="1.5" fill="#e672a8" stroke="#7d70cc" stroke-width="1.2"/>
<circle cx="1684.68" cy="1808.41" r="1.5" fill="#e672a8" stroke="#7d70cc" stroke-width="1.2"/>
<circle cx="1689.92" cy="1806.16" r="1.5" fill="#e672a8" stroke="#7d70cc" stroke-width="1.2"/>
<circle cx="1696.21" cy="1808.41" r="1.5" fill="#e672a8" stroke="#7d70cc" stroke-width="1.2"/>
<circle cx="1705.5" cy="1808.41" r="1.5" fill="#e672a8" stroke="#7d70cc" stroke-width="1.2"/>
<circle cx="1715.38" cy="1808.41" r="1.5" fill="#e672a8" stroke="#7d70cc" stroke-width="1.2"/>
<circle cx="1721.67" cy="1807.66" r="1.5" fill="#e672a8" stroke="#7d70cc" stroke-width="1.2"/>
<circle cx="1727.96" cy="1809.9" r="1.5" fill="#e672a8" stroke="#7d70cc" stroke-width="1.2"/>
<circle cx="1737.85" cy="1806.91" r="1.5" fill="#e672a8" stroke="#7d70cc" stroke-width="1.2"/>
<circle cx="1691.72" cy="1814.7" r="1.5" fill="#e672a8" stroke="#7d70cc" stroke-width="1.2"/>
<circle cx="1684.23" cy="1818.14" r="1.5" fill="#e672a8" stroke="#7d70cc" stroke-width="1.2"/>
<circle cx="1695.76" cy="1820.09" r="1.5" fill="#e672a8" stroke="#7d70cc" stroke-width="1.2"/>
<circle cx="1701.15" cy="1816.34" r="1.5" fill="#e672a8" stroke="#7d70cc" stroke-width="1.2"/>
<circle cx="1711.19" cy="1815.15" r="1.5" fill="#e672a8" stroke="#7d70cc" stroke-width="1.2"/>
<circle cx="1720.62" cy="1818.44" r="1.5" fill="#e672a8" stroke="#7d70cc" stroke-width="1.2"/>
<circle cx="1732.61" cy="1819.34" r="1.5" fill="#e672a8" stroke="#7d70cc" stroke-width="1.2"/>
<circle cx="1740.69" cy="1817.09" r="1.5" fill="#e672a8" stroke="#7d70cc" stroke-width="1.2"/>
<circle cx="1681.98" cy="1826.68" r="1.5" fill="#e672a8" stroke="#7d70cc" stroke-width="1.2"/>
<circle cx="1694.41" cy="1828.18" r="1.5" fill="#e672a8" stroke="#7d70cc" stroke-width="1.2"/>
<circle cx="1704.45" cy="1823.83" r="1.5" fill="#e672a8" stroke="#7d70cc" stroke-width="1.2"/>
<circle cx="1712.69" cy="1824.13" r="1.5" fill="#e672a8" stroke="#7d70cc" stroke-width="1.2"/>
<circle cx="1722.12" cy="1826.68" r="1.5" fill="#e672a8" stroke="#7d70cc" stroke-width="1.2"/>
<circle cx="1732.61" cy="1828.18" r="1.5" fill="#e672a8" stroke="#7d70cc" stroke-width="1.2"/>
<circle cx="1746.83" cy="1824.58" r="1.5" fill="#e672a8" stroke="#7d70cc" stroke-width="1.2"/>
<path d="M1750.5 1810.7L1785 1810.7" stroke="#000" stroke-width="3.4"/>
<path d="M1797.5 1810.7L1784 1804.4L1784 1817Z" fill="#000"/>
<path d="M1812.1 1798V1817.1H1898.2V1798" fill="none" stroke="#000" stroke-width="3.2"/>
<text font-size="24.85" text-anchor="middle" x="1851.5" y="1807.5">500</text>
<text font-size="24.85" text-anchor="middle" x="1859.7" y="1848.3">96-well plate</text>
<rect x="1528.3" y="1886.2" width="10" height="5" fill="#000"/>
<text font-size="29" text-anchor="end" x="1514.4" y="1899">20</text>
<rect x="1528.3" y="1990.7" width="10" height="5" fill="#000"/>
<text font-size="29" text-anchor="end" x="1514.4" y="2003.5">15</text>
<rect x="1528.3" y="2096" width="10" height="5" fill="#000"/>
<text font-size="29" text-anchor="end" x="1514.4" y="2108.8">10</text>
<rect x="1528.3" y="2200.2" width="10" height="5" fill="#000"/>
<text font-size="29" text-anchor="end" x="1514.4" y="2213">5</text>
<text font-size="29" text-anchor="end" x="1514.4" y="2316.7">0</text>
<rect x="1538" y="1886" width="6.4" height="423.4" fill="#000"/>
<rect x="1528.3" y="2303.2" width="352.5" height="6.4" fill="#000"/>
<rect x="1593.3" y="2306.4" width="5.4" height="14.5" fill="#000"/>
<text font-size="29" text-anchor="end" transform="translate(1610.5 2345) rotate(-39.5)">Day 0</text>
<rect x="1672.2" y="2306.4" width="5.4" height="14.5" fill="#000"/>
<text font-size="29" text-anchor="end" transform="translate(1689.4 2345) rotate(-39.5)">Day 1</text>
<rect x="1752.8" y="2306.4" width="5.4" height="14.5" fill="#000"/>
<text font-size="29" text-anchor="end" transform="translate(1770 2345) rotate(-39.5)">Day 2</text>
<rect x="1832" y="2306.4" width="5.4" height="14.5" fill="#000"/>
<text font-size="29" text-anchor="end" transform="translate(1849.2 2345) rotate(-39.5)">Day 3</text>
<text font-size="29" text-anchor="middle" transform="translate(1458.3 2096.7) rotate(-90)">Relative cell growth</text>
<path d="M1556.2 1878.6L1586.4 1878.6" stroke="#000" stroke-width="3.2"/>
<rect x="1565.1" y="1872.4" width="12.4" height="12.4" fill="#000"/>
<path d="M1556.2 1906L1586.4 1906" stroke="#808080" stroke-width="3.2"/>
<path d="M1571.3 1897.5L1579.8 1912L1562.8 1912Z" fill="#808080"/>
<path d="M1556.2 1939L1586.4 1939" stroke="#2d4ea6" stroke-width="3.2"/>
<circle cx="1571.3" cy="1939" r="6.6" fill="#2d4ea6"/>
<text font-size="24.85" x="1596.5" y="1886.6">Control</text>
<text font-size="24.85" x="1596.5" y="1914.6">Trametinib<tspan x="1727">1 nM</tspan></text>
<text font-size="24.85" x="1596.5" y="1947">Trametinib 10 nM</text>
<path d="M1674.9 2171.9V2213M1666.9 2171.9H1682.9M1666.9 2213H1682.9" stroke="#000" stroke-width="2" fill="none"/>
<path d="M1755.5 2016.2V2138.5M1747.5 2016.2H1763.5M1747.5 2138.5H1763.5" stroke="#000" stroke-width="2" fill="none"/>
<path d="M1834.7 1946.3V2011.6M1826.7 1946.3H1842.7M1826.7 2011.6H1842.7" stroke="#000" stroke-width="2" fill="none"/>
<path d="M1596 2279L1674.9 2192.6L1755.5 2081.8L1834.7 1980" stroke="#000" stroke-width="4.6" fill="none" stroke-linejoin="round"/>
<rect x="1589.8" y="2272.8" width="12.4" height="12.4" fill="#000"/>
<rect x="1668.7" y="2186.4" width="12.4" height="12.4" fill="#000"/>
<rect x="1749.3" y="2075.6" width="12.4" height="12.4" fill="#000"/>
<rect x="1828.5" y="1973.8" width="12.4" height="12.4" fill="#000"/>
<path d="M1674.9 2172V2218.6M1666.9 2172H1682.9M1666.9 2218.6H1682.9" stroke="#808080" stroke-width="2" fill="none"/>
<path d="M1755.5 2123.5V2173.9M1747.5 2123.5H1763.5M1747.5 2173.9H1763.5" stroke="#808080" stroke-width="2" fill="none"/>
<path d="M1834.7 2030.4V2080.3M1826.7 2030.4H1842.7M1826.7 2080.3H1842.7" stroke="#808080" stroke-width="2" fill="none"/>
<path d="M1596 2282L1674.9 2198.4L1755.5 2150.3L1834.7 2055.8" stroke="#808080" stroke-width="4.6" fill="none" stroke-linejoin="round"/>
<path d="M1596 2273.5L1604.5 2288L1587.5 2288Z" fill="#808080"/>
<path d="M1674.9 2189.9L1683.4 2204.4L1666.4 2204.4Z" fill="#808080"/>
<path d="M1755.5 2141.8L1764 2156.3L1747 2156.3Z" fill="#808080"/>
<path d="M1834.7 2047.3L1843.2 2061.8L1826.2 2061.8Z" fill="#808080"/>
<path d="M1674.9 2219.4V2232.4M1666.9 2219.4H1682.9M1666.9 2232.4H1682.9" stroke="#2d4ea6" stroke-width="2" fill="none"/>
<path d="M1755.5 2204.2V2268.1M1747.5 2204.2H1763.5M1747.5 2268.1H1763.5" stroke="#2d4ea6" stroke-width="2" fill="none"/>
<path d="M1834.7 2214.8V2238.2M1826.7 2214.8H1842.7M1826.7 2238.2H1842.7" stroke="#2d4ea6" stroke-width="2" fill="none"/>
<path d="M1596 2282.5L1674.9 2225.8L1755.5 2236.7L1834.7 2226.3" stroke="#2d4ea6" stroke-width="4.6" fill="none" stroke-linejoin="round"/>
<circle cx="1596" cy="2282.5" r="6.6" fill="#2d4ea6"/>
<circle cx="1674.9" cy="2225.8" r="6.6" fill="#2d4ea6"/>
<circle cx="1755.5" cy="2236.7" r="6.6" fill="#2d4ea6"/>
<circle cx="1834.7" cy="2226.3" r="6.6" fill="#2d4ea6"/>
<text font-size="44" text-anchor="middle" x="1754" y="2015.5">*</text>
<text font-size="44" text-anchor="middle" x="1834.7" y="1954.5">**</text>
<path d="M1855.7 1978.8H1868.1V2057.3H1855.7" stroke="#000" stroke-width="4" fill="none"/>
<path d="M1903.3 1978.8H1914.8V2222.9H1886.9" stroke="#000" stroke-width="4" fill="none"/>
<text font-size="24.85" text-anchor="middle" transform="translate(1875.2 2024) rotate(90)"><tspan font-style="italic">p</tspan> = 0.0248</text>
<text font-size="24.85" text-anchor="middle" transform="translate(1924 2102.5) rotate(90)" letter-spacing="0.95"><tspan font-style="italic">p</tspan> &lt; 0.0001</text>
</svg></body></html>
